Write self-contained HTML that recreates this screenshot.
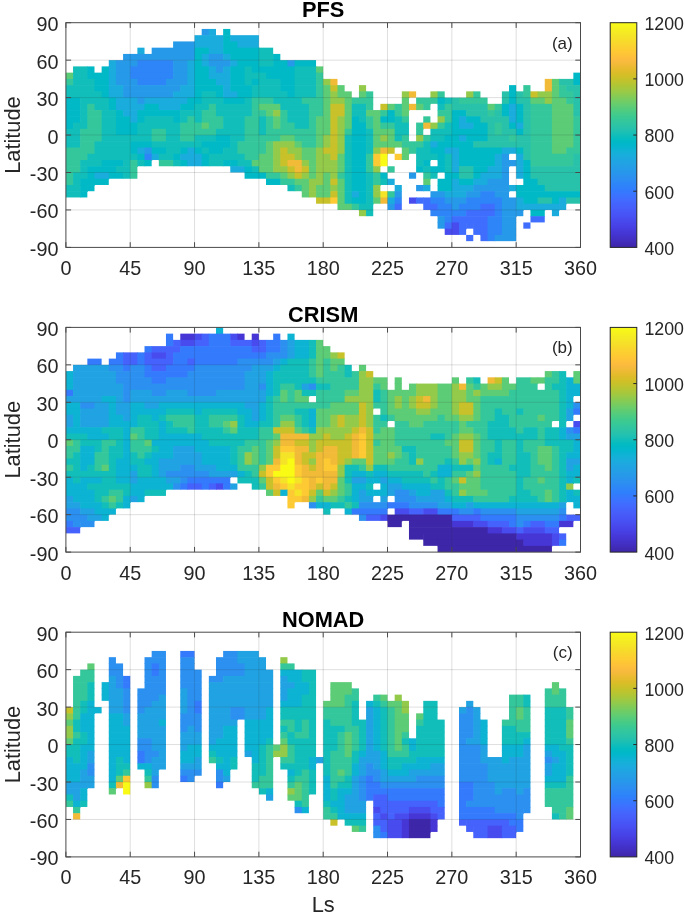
<!DOCTYPE html>
<html><head><meta charset="utf-8"><style>
html,body{margin:0;padding:0;background:#fff;}
svg{display:block;font-family:"Liberation Sans",sans-serif;filter:blur(0.35px);}
</style></head><body>
<svg width="685" height="916" viewBox="0 0 685 916">
<defs><linearGradient id="cbar" x1="0" y1="0" x2="0" y2="1"><stop offset="0.0000" stop-color="#f9fb15"/><stop offset="0.0156" stop-color="#f7f51b"/><stop offset="0.0312" stop-color="#f6ef20"/><stop offset="0.0469" stop-color="#f5e924"/><stop offset="0.0625" stop-color="#f5e327"/><stop offset="0.0781" stop-color="#f7dd2a"/><stop offset="0.0938" stop-color="#f9d62d"/><stop offset="0.1094" stop-color="#fcd030"/><stop offset="0.1250" stop-color="#feca33"/><stop offset="0.1406" stop-color="#fec437"/><stop offset="0.1562" stop-color="#febe3c"/><stop offset="0.1719" stop-color="#f9ba3e"/><stop offset="0.1875" stop-color="#f1ba37"/><stop offset="0.2031" stop-color="#e8bb2f"/><stop offset="0.2188" stop-color="#debc29"/><stop offset="0.2344" stop-color="#d4bf27"/><stop offset="0.2500" stop-color="#c8c129"/><stop offset="0.2656" stop-color="#bcc42f"/><stop offset="0.2812" stop-color="#afc636"/><stop offset="0.2969" stop-color="#a2c840"/><stop offset="0.3125" stop-color="#94ca4a"/><stop offset="0.3281" stop-color="#85cb55"/><stop offset="0.3438" stop-color="#77cc60"/><stop offset="0.3594" stop-color="#69cd6b"/><stop offset="0.3750" stop-color="#5ccc76"/><stop offset="0.3906" stop-color="#4fcc80"/><stop offset="0.4062" stop-color="#43cb8a"/><stop offset="0.4219" stop-color="#3ac993"/><stop offset="0.4375" stop-color="#34c79c"/><stop offset="0.4531" stop-color="#2ec5a4"/><stop offset="0.4688" stop-color="#28c2ab"/><stop offset="0.4844" stop-color="#1ec0b2"/><stop offset="0.5000" stop-color="#12beb9"/><stop offset="0.5156" stop-color="#05bcc0"/><stop offset="0.5312" stop-color="#00b9c6"/><stop offset="0.5469" stop-color="#03b6cd"/><stop offset="0.5625" stop-color="#0cb3d3"/><stop offset="0.5781" stop-color="#15b0d8"/><stop offset="0.5938" stop-color="#1aacdd"/><stop offset="0.6094" stop-color="#1ea7e1"/><stop offset="0.6250" stop-color="#21a3e3"/><stop offset="0.6406" stop-color="#249ee6"/><stop offset="0.6562" stop-color="#269ae9"/><stop offset="0.6719" stop-color="#2895ec"/><stop offset="0.6875" stop-color="#2c90f0"/><stop offset="0.7031" stop-color="#2d8bf4"/><stop offset="0.7188" stop-color="#2e85f8"/><stop offset="0.7344" stop-color="#2f80fb"/><stop offset="0.7500" stop-color="#347afd"/><stop offset="0.7656" stop-color="#3a74ff"/><stop offset="0.7812" stop-color="#3f6eff"/><stop offset="0.7969" stop-color="#4368fe"/><stop offset="0.8125" stop-color="#4562fc"/><stop offset="0.8281" stop-color="#475dfa"/><stop offset="0.8438" stop-color="#4757f7"/><stop offset="0.8594" stop-color="#4852f4"/><stop offset="0.8750" stop-color="#484cef"/><stop offset="0.8906" stop-color="#4746eb"/><stop offset="0.9062" stop-color="#4741e5"/><stop offset="0.9219" stop-color="#463bdd"/><stop offset="0.9375" stop-color="#4536d5"/><stop offset="0.9531" stop-color="#4332ca"/><stop offset="0.9688" stop-color="#422ebf"/><stop offset="0.9844" stop-color="#402ab4"/><stop offset="1.0000" stop-color="#3e26a8"/></linearGradient></defs>
<rect width="685" height="916" fill="#fff"/>
<rect x="201.70" y="28.94" width="7.75" height="6.84" fill="#269ae9"/>
<rect x="208.84" y="28.94" width="7.15" height="6.84" fill="#1aacdd"/>
<rect x="223.14" y="28.94" width="7.15" height="6.84" fill="#00b9c6"/>
<rect x="194.55" y="35.18" width="29.19" height="6.84" fill="#1aacdd"/>
<rect x="223.14" y="35.18" width="7.75" height="6.84" fill="#00b9c6"/>
<rect x="230.29" y="35.18" width="28.59" height="6.84" fill="#1aacdd"/>
<rect x="173.11" y="41.42" width="22.04" height="6.84" fill="#269ae9"/>
<rect x="194.55" y="41.42" width="29.19" height="6.84" fill="#1aacdd"/>
<rect x="223.14" y="41.42" width="14.89" height="6.84" fill="#00b9c6"/>
<rect x="237.43" y="41.42" width="21.44" height="6.84" fill="#1aacdd"/>
<rect x="137.37" y="47.67" width="7.15" height="6.84" fill="#1aacdd"/>
<rect x="151.67" y="47.67" width="43.48" height="6.84" fill="#269ae9"/>
<rect x="194.55" y="47.67" width="14.89" height="6.84" fill="#00b9c6"/>
<rect x="208.84" y="47.67" width="14.89" height="6.84" fill="#1aacdd"/>
<rect x="223.14" y="47.67" width="36.34" height="6.84" fill="#00b9c6"/>
<rect x="258.88" y="47.67" width="14.29" height="6.84" fill="#12beb9"/>
<rect x="123.08" y="53.91" width="72.07" height="6.84" fill="#269ae9"/>
<rect x="194.55" y="53.91" width="7.75" height="6.84" fill="#00b9c6"/>
<rect x="201.70" y="53.91" width="7.75" height="6.84" fill="#1aacdd"/>
<rect x="208.84" y="53.91" width="14.89" height="6.84" fill="#269ae9"/>
<rect x="223.14" y="53.91" width="7.75" height="6.84" fill="#1aacdd"/>
<rect x="230.29" y="53.91" width="29.19" height="6.84" fill="#00b9c6"/>
<rect x="258.88" y="53.91" width="14.89" height="6.84" fill="#12beb9"/>
<rect x="273.17" y="53.91" width="7.15" height="6.84" fill="#00b9c6"/>
<rect x="108.78" y="60.15" width="7.75" height="6.84" fill="#1aacdd"/>
<rect x="115.93" y="60.15" width="22.04" height="6.84" fill="#269ae9"/>
<rect x="137.37" y="60.15" width="36.34" height="6.84" fill="#2e85f8"/>
<rect x="173.11" y="60.15" width="14.89" height="6.84" fill="#269ae9"/>
<rect x="187.40" y="60.15" width="7.75" height="6.84" fill="#1aacdd"/>
<rect x="194.55" y="60.15" width="7.75" height="6.84" fill="#00b9c6"/>
<rect x="201.70" y="60.15" width="7.75" height="6.84" fill="#1aacdd"/>
<rect x="208.84" y="60.15" width="22.04" height="6.84" fill="#269ae9"/>
<rect x="230.29" y="60.15" width="7.75" height="6.84" fill="#1aacdd"/>
<rect x="237.43" y="60.15" width="22.04" height="6.84" fill="#00b9c6"/>
<rect x="258.88" y="60.15" width="14.89" height="6.84" fill="#12beb9"/>
<rect x="273.17" y="60.15" width="14.89" height="6.84" fill="#00b9c6"/>
<rect x="287.46" y="60.15" width="7.75" height="6.84" fill="#269ae9"/>
<rect x="294.61" y="60.15" width="21.44" height="6.84" fill="#00b9c6"/>
<rect x="73.05" y="66.39" width="14.89" height="6.84" fill="#12beb9"/>
<rect x="87.34" y="66.39" width="7.15" height="6.84" fill="#00b9c6"/>
<rect x="101.64" y="66.39" width="7.75" height="6.84" fill="#00b9c6"/>
<rect x="108.78" y="66.39" width="7.75" height="6.84" fill="#1aacdd"/>
<rect x="115.93" y="66.39" width="14.89" height="6.84" fill="#269ae9"/>
<rect x="130.23" y="66.39" width="43.48" height="6.84" fill="#2e85f8"/>
<rect x="173.11" y="66.39" width="14.89" height="6.84" fill="#269ae9"/>
<rect x="187.40" y="66.39" width="7.75" height="6.84" fill="#1aacdd"/>
<rect x="194.55" y="66.39" width="14.89" height="6.84" fill="#00b9c6"/>
<rect x="208.84" y="66.39" width="7.75" height="6.84" fill="#1aacdd"/>
<rect x="215.99" y="66.39" width="7.75" height="6.84" fill="#269ae9"/>
<rect x="223.14" y="66.39" width="7.75" height="6.84" fill="#1aacdd"/>
<rect x="230.29" y="66.39" width="14.89" height="6.84" fill="#00b9c6"/>
<rect x="244.58" y="66.39" width="7.75" height="6.84" fill="#12beb9"/>
<rect x="251.73" y="66.39" width="43.48" height="6.84" fill="#00b9c6"/>
<rect x="294.61" y="66.39" width="22.04" height="6.84" fill="#12beb9"/>
<rect x="316.05" y="66.39" width="7.15" height="6.84" fill="#5ccc76"/>
<rect x="65.90" y="72.63" width="7.75" height="6.84" fill="#5ccc76"/>
<rect x="73.05" y="72.63" width="14.89" height="6.84" fill="#12beb9"/>
<rect x="87.34" y="72.63" width="22.04" height="6.84" fill="#00b9c6"/>
<rect x="108.78" y="72.63" width="7.75" height="6.84" fill="#1aacdd"/>
<rect x="115.93" y="72.63" width="14.89" height="6.84" fill="#269ae9"/>
<rect x="130.23" y="72.63" width="43.48" height="6.84" fill="#2e85f8"/>
<rect x="173.11" y="72.63" width="14.89" height="6.84" fill="#269ae9"/>
<rect x="187.40" y="72.63" width="7.75" height="6.84" fill="#1aacdd"/>
<rect x="194.55" y="72.63" width="14.89" height="6.84" fill="#00b9c6"/>
<rect x="208.84" y="72.63" width="22.04" height="6.84" fill="#1aacdd"/>
<rect x="230.29" y="72.63" width="14.89" height="6.84" fill="#00b9c6"/>
<rect x="244.58" y="72.63" width="22.04" height="6.84" fill="#12beb9"/>
<rect x="266.02" y="72.63" width="29.19" height="6.84" fill="#00b9c6"/>
<rect x="294.61" y="72.63" width="22.04" height="6.84" fill="#12beb9"/>
<rect x="316.05" y="72.63" width="7.15" height="6.84" fill="#34c79c"/>
<rect x="573.35" y="72.63" width="7.15" height="6.84" fill="#00b9c6"/>
<rect x="65.90" y="78.88" width="7.75" height="6.84" fill="#34c79c"/>
<rect x="73.05" y="78.88" width="22.04" height="6.84" fill="#12beb9"/>
<rect x="94.49" y="78.88" width="14.89" height="6.84" fill="#00b9c6"/>
<rect x="108.78" y="78.88" width="7.75" height="6.84" fill="#1aacdd"/>
<rect x="115.93" y="78.88" width="22.04" height="6.84" fill="#269ae9"/>
<rect x="137.37" y="78.88" width="29.19" height="6.84" fill="#2e85f8"/>
<rect x="165.96" y="78.88" width="22.04" height="6.84" fill="#269ae9"/>
<rect x="187.40" y="78.88" width="7.75" height="6.84" fill="#1aacdd"/>
<rect x="194.55" y="78.88" width="22.04" height="6.84" fill="#00b9c6"/>
<rect x="215.99" y="78.88" width="14.89" height="6.84" fill="#1aacdd"/>
<rect x="230.29" y="78.88" width="14.89" height="6.84" fill="#00b9c6"/>
<rect x="244.58" y="78.88" width="7.75" height="6.84" fill="#12beb9"/>
<rect x="251.73" y="78.88" width="7.75" height="6.84" fill="#00b9c6"/>
<rect x="258.88" y="78.88" width="22.04" height="6.84" fill="#12beb9"/>
<rect x="280.32" y="78.88" width="14.89" height="6.84" fill="#00b9c6"/>
<rect x="294.61" y="78.88" width="22.04" height="6.84" fill="#12beb9"/>
<rect x="316.05" y="78.88" width="7.75" height="6.84" fill="#34c79c"/>
<rect x="323.20" y="78.88" width="7.75" height="6.84" fill="#94ca4a"/>
<rect x="330.35" y="78.88" width="7.15" height="6.84" fill="#f1ba37"/>
<rect x="544.76" y="78.88" width="7.75" height="6.84" fill="#f1ba37"/>
<rect x="551.91" y="78.88" width="7.75" height="6.84" fill="#5ccc76"/>
<rect x="559.06" y="78.88" width="14.89" height="6.84" fill="#28c2ab"/>
<rect x="573.35" y="78.88" width="7.15" height="6.84" fill="#00b9c6"/>
<rect x="65.90" y="85.12" width="29.19" height="6.84" fill="#12beb9"/>
<rect x="94.49" y="85.12" width="14.89" height="6.84" fill="#00b9c6"/>
<rect x="108.78" y="85.12" width="14.89" height="6.84" fill="#1aacdd"/>
<rect x="123.08" y="85.12" width="57.78" height="6.84" fill="#269ae9"/>
<rect x="180.26" y="85.12" width="14.89" height="6.84" fill="#1aacdd"/>
<rect x="194.55" y="85.12" width="29.19" height="6.84" fill="#00b9c6"/>
<rect x="223.14" y="85.12" width="7.75" height="6.84" fill="#1aacdd"/>
<rect x="230.29" y="85.12" width="22.04" height="6.84" fill="#00b9c6"/>
<rect x="251.73" y="85.12" width="29.19" height="6.84" fill="#12beb9"/>
<rect x="280.32" y="85.12" width="14.89" height="6.84" fill="#00b9c6"/>
<rect x="294.61" y="85.12" width="22.04" height="6.84" fill="#12beb9"/>
<rect x="316.05" y="85.12" width="7.75" height="6.84" fill="#34c79c"/>
<rect x="323.20" y="85.12" width="7.75" height="6.84" fill="#5ccc76"/>
<rect x="330.35" y="85.12" width="7.75" height="6.84" fill="#c8c129"/>
<rect x="337.49" y="85.12" width="7.15" height="6.84" fill="#5ccc76"/>
<rect x="358.94" y="85.12" width="7.15" height="6.84" fill="#94ca4a"/>
<rect x="509.03" y="85.12" width="7.15" height="6.84" fill="#00b9c6"/>
<rect x="523.32" y="85.12" width="7.15" height="6.84" fill="#34c79c"/>
<rect x="544.76" y="85.12" width="7.75" height="6.84" fill="#f1ba37"/>
<rect x="551.91" y="85.12" width="7.75" height="6.84" fill="#5ccc76"/>
<rect x="559.06" y="85.12" width="7.75" height="6.84" fill="#34c79c"/>
<rect x="566.21" y="85.12" width="14.29" height="6.84" fill="#28c2ab"/>
<rect x="65.90" y="91.36" width="36.34" height="6.84" fill="#12beb9"/>
<rect x="101.64" y="91.36" width="7.75" height="6.84" fill="#00b9c6"/>
<rect x="108.78" y="91.36" width="14.89" height="6.84" fill="#1aacdd"/>
<rect x="123.08" y="91.36" width="50.63" height="6.84" fill="#269ae9"/>
<rect x="173.11" y="91.36" width="22.04" height="6.84" fill="#1aacdd"/>
<rect x="194.55" y="91.36" width="7.75" height="6.84" fill="#00b9c6"/>
<rect x="201.70" y="91.36" width="14.89" height="6.84" fill="#12beb9"/>
<rect x="215.99" y="91.36" width="7.75" height="6.84" fill="#00b9c6"/>
<rect x="223.14" y="91.36" width="14.89" height="6.84" fill="#1aacdd"/>
<rect x="237.43" y="91.36" width="14.89" height="6.84" fill="#00b9c6"/>
<rect x="251.73" y="91.36" width="36.34" height="6.84" fill="#12beb9"/>
<rect x="287.46" y="91.36" width="7.75" height="6.84" fill="#00b9c6"/>
<rect x="294.61" y="91.36" width="22.04" height="6.84" fill="#12beb9"/>
<rect x="316.05" y="91.36" width="7.75" height="6.84" fill="#34c79c"/>
<rect x="323.20" y="91.36" width="7.75" height="6.84" fill="#5ccc76"/>
<rect x="330.35" y="91.36" width="7.75" height="6.84" fill="#94ca4a"/>
<rect x="337.49" y="91.36" width="14.29" height="6.84" fill="#5ccc76"/>
<rect x="358.94" y="91.36" width="7.75" height="6.84" fill="#5ccc76"/>
<rect x="366.08" y="91.36" width="7.15" height="6.84" fill="#34c79c"/>
<rect x="401.82" y="91.36" width="7.75" height="6.84" fill="#94ca4a"/>
<rect x="408.97" y="91.36" width="7.15" height="6.24" fill="#f1ba37"/>
<rect x="430.41" y="91.36" width="7.75" height="6.84" fill="#94ca4a"/>
<rect x="437.56" y="91.36" width="7.15" height="6.84" fill="#34c79c"/>
<rect x="466.14" y="91.36" width="7.75" height="6.84" fill="#94ca4a"/>
<rect x="473.29" y="91.36" width="7.15" height="6.84" fill="#34c79c"/>
<rect x="501.88" y="91.36" width="7.75" height="6.84" fill="#28c2ab"/>
<rect x="509.03" y="91.36" width="7.75" height="6.84" fill="#00b9c6"/>
<rect x="516.17" y="91.36" width="7.75" height="6.84" fill="#28c2ab"/>
<rect x="523.32" y="91.36" width="7.75" height="6.84" fill="#34c79c"/>
<rect x="530.47" y="91.36" width="7.75" height="6.84" fill="#c8c129"/>
<rect x="537.62" y="91.36" width="14.89" height="6.84" fill="#94ca4a"/>
<rect x="551.91" y="91.36" width="7.75" height="6.84" fill="#5ccc76"/>
<rect x="559.06" y="91.36" width="14.89" height="6.84" fill="#34c79c"/>
<rect x="573.35" y="91.36" width="7.15" height="6.84" fill="#28c2ab"/>
<rect x="65.90" y="97.60" width="14.89" height="6.84" fill="#00b9c6"/>
<rect x="80.19" y="97.60" width="29.19" height="6.84" fill="#12beb9"/>
<rect x="108.78" y="97.60" width="7.75" height="6.84" fill="#00b9c6"/>
<rect x="115.93" y="97.60" width="22.04" height="6.84" fill="#1aacdd"/>
<rect x="137.37" y="97.60" width="7.75" height="6.84" fill="#269ae9"/>
<rect x="144.52" y="97.60" width="43.48" height="6.84" fill="#1aacdd"/>
<rect x="187.40" y="97.60" width="14.89" height="6.84" fill="#00b9c6"/>
<rect x="201.70" y="97.60" width="22.04" height="6.84" fill="#12beb9"/>
<rect x="223.14" y="97.60" width="22.04" height="6.84" fill="#00b9c6"/>
<rect x="244.58" y="97.60" width="7.75" height="6.84" fill="#12beb9"/>
<rect x="251.73" y="97.60" width="22.04" height="6.84" fill="#34c79c"/>
<rect x="273.17" y="97.60" width="29.19" height="6.84" fill="#12beb9"/>
<rect x="301.76" y="97.60" width="22.04" height="6.84" fill="#34c79c"/>
<rect x="323.20" y="97.60" width="7.75" height="6.84" fill="#5ccc76"/>
<rect x="330.35" y="97.60" width="14.89" height="6.84" fill="#94ca4a"/>
<rect x="344.64" y="97.60" width="7.75" height="6.84" fill="#5ccc76"/>
<rect x="351.79" y="97.60" width="21.44" height="6.84" fill="#34c79c"/>
<rect x="401.82" y="97.60" width="7.15" height="6.84" fill="#5ccc76"/>
<rect x="416.11" y="97.60" width="14.89" height="6.84" fill="#34c79c"/>
<rect x="430.41" y="97.60" width="7.75" height="6.24" fill="#34c79c"/>
<rect x="437.56" y="97.60" width="7.75" height="6.84" fill="#00b9c6"/>
<rect x="444.70" y="97.60" width="7.75" height="6.84" fill="#12beb9"/>
<rect x="451.85" y="97.60" width="7.75" height="6.84" fill="#28c2ab"/>
<rect x="459.00" y="97.60" width="28.59" height="6.84" fill="#34c79c"/>
<rect x="501.88" y="97.60" width="7.75" height="6.84" fill="#28c2ab"/>
<rect x="509.03" y="97.60" width="7.75" height="6.84" fill="#00b9c6"/>
<rect x="516.17" y="97.60" width="14.89" height="6.84" fill="#28c2ab"/>
<rect x="530.47" y="97.60" width="14.89" height="6.84" fill="#5ccc76"/>
<rect x="544.76" y="97.60" width="7.75" height="6.84" fill="#94ca4a"/>
<rect x="551.91" y="97.60" width="14.89" height="6.84" fill="#5ccc76"/>
<rect x="566.21" y="97.60" width="7.75" height="6.84" fill="#34c79c"/>
<rect x="573.35" y="97.60" width="7.15" height="6.84" fill="#28c2ab"/>
<rect x="65.90" y="103.84" width="14.89" height="6.84" fill="#00b9c6"/>
<rect x="80.19" y="103.84" width="7.75" height="6.84" fill="#12beb9"/>
<rect x="87.34" y="103.84" width="7.75" height="6.84" fill="#34c79c"/>
<rect x="94.49" y="103.84" width="14.89" height="6.84" fill="#12beb9"/>
<rect x="108.78" y="103.84" width="7.75" height="6.84" fill="#00b9c6"/>
<rect x="115.93" y="103.84" width="29.19" height="6.84" fill="#1aacdd"/>
<rect x="144.52" y="103.84" width="14.89" height="6.84" fill="#00b9c6"/>
<rect x="158.81" y="103.84" width="22.04" height="6.84" fill="#1aacdd"/>
<rect x="180.26" y="103.84" width="14.89" height="6.84" fill="#00b9c6"/>
<rect x="194.55" y="103.84" width="14.89" height="6.84" fill="#12beb9"/>
<rect x="208.84" y="103.84" width="7.75" height="6.84" fill="#34c79c"/>
<rect x="215.99" y="103.84" width="36.34" height="6.84" fill="#12beb9"/>
<rect x="251.73" y="103.84" width="7.75" height="6.84" fill="#34c79c"/>
<rect x="258.88" y="103.84" width="22.04" height="6.84" fill="#5ccc76"/>
<rect x="280.32" y="103.84" width="29.19" height="6.84" fill="#12beb9"/>
<rect x="308.91" y="103.84" width="14.89" height="6.84" fill="#34c79c"/>
<rect x="323.20" y="103.84" width="7.75" height="6.84" fill="#5ccc76"/>
<rect x="330.35" y="103.84" width="14.89" height="6.84" fill="#c8c129"/>
<rect x="344.64" y="103.84" width="7.75" height="6.84" fill="#5ccc76"/>
<rect x="351.79" y="103.84" width="14.89" height="6.84" fill="#12beb9"/>
<rect x="366.08" y="103.84" width="7.15" height="6.84" fill="#34c79c"/>
<rect x="380.38" y="103.84" width="7.75" height="6.84" fill="#c8c129"/>
<rect x="387.52" y="103.84" width="7.75" height="6.84" fill="#5ccc76"/>
<rect x="394.67" y="103.84" width="7.75" height="6.84" fill="#34c79c"/>
<rect x="401.82" y="103.84" width="7.75" height="6.84" fill="#5ccc76"/>
<rect x="408.97" y="103.84" width="7.75" height="6.24" fill="#f1ba37"/>
<rect x="416.11" y="103.84" width="7.75" height="6.24" fill="#5ccc76"/>
<rect x="423.26" y="103.84" width="7.15" height="6.24" fill="#34c79c"/>
<rect x="437.56" y="103.84" width="7.75" height="6.84" fill="#12beb9"/>
<rect x="444.70" y="103.84" width="7.75" height="6.84" fill="#34c79c"/>
<rect x="451.85" y="103.84" width="36.34" height="6.84" fill="#28c2ab"/>
<rect x="487.59" y="103.84" width="7.75" height="6.84" fill="#5ccc76"/>
<rect x="494.73" y="103.84" width="7.75" height="6.84" fill="#34c79c"/>
<rect x="501.88" y="103.84" width="7.75" height="6.84" fill="#00b9c6"/>
<rect x="509.03" y="103.84" width="7.75" height="6.84" fill="#1aacdd"/>
<rect x="516.17" y="103.84" width="7.75" height="6.84" fill="#00b9c6"/>
<rect x="523.32" y="103.84" width="7.75" height="6.84" fill="#28c2ab"/>
<rect x="530.47" y="103.84" width="22.04" height="6.84" fill="#34c79c"/>
<rect x="551.91" y="103.84" width="22.04" height="6.84" fill="#5ccc76"/>
<rect x="573.35" y="103.84" width="7.15" height="6.84" fill="#28c2ab"/>
<rect x="65.90" y="110.08" width="14.89" height="6.84" fill="#00b9c6"/>
<rect x="80.19" y="110.08" width="7.75" height="6.84" fill="#12beb9"/>
<rect x="87.34" y="110.08" width="14.89" height="6.84" fill="#34c79c"/>
<rect x="101.64" y="110.08" width="14.89" height="6.84" fill="#12beb9"/>
<rect x="115.93" y="110.08" width="7.75" height="6.84" fill="#00b9c6"/>
<rect x="123.08" y="110.08" width="14.89" height="6.84" fill="#1aacdd"/>
<rect x="137.37" y="110.08" width="43.48" height="6.84" fill="#00b9c6"/>
<rect x="180.26" y="110.08" width="22.04" height="6.84" fill="#12beb9"/>
<rect x="201.70" y="110.08" width="14.89" height="6.84" fill="#34c79c"/>
<rect x="215.99" y="110.08" width="36.34" height="6.84" fill="#12beb9"/>
<rect x="251.73" y="110.08" width="14.89" height="6.84" fill="#34c79c"/>
<rect x="266.02" y="110.08" width="7.75" height="6.84" fill="#5ccc76"/>
<rect x="273.17" y="110.08" width="7.75" height="6.84" fill="#94ca4a"/>
<rect x="280.32" y="110.08" width="7.75" height="6.84" fill="#34c79c"/>
<rect x="287.46" y="110.08" width="22.04" height="6.84" fill="#12beb9"/>
<rect x="308.91" y="110.08" width="14.89" height="6.84" fill="#34c79c"/>
<rect x="323.20" y="110.08" width="7.75" height="6.84" fill="#5ccc76"/>
<rect x="330.35" y="110.08" width="14.89" height="6.84" fill="#c8c129"/>
<rect x="344.64" y="110.08" width="7.75" height="6.84" fill="#5ccc76"/>
<rect x="351.79" y="110.08" width="14.89" height="6.84" fill="#12beb9"/>
<rect x="366.08" y="110.08" width="14.89" height="6.84" fill="#5ccc76"/>
<rect x="380.38" y="110.08" width="7.75" height="6.84" fill="#34c79c"/>
<rect x="387.52" y="110.08" width="7.75" height="6.84" fill="#00b9c6"/>
<rect x="394.67" y="110.08" width="7.75" height="6.84" fill="#34c79c"/>
<rect x="401.82" y="110.08" width="7.15" height="6.84" fill="#5ccc76"/>
<rect x="437.56" y="110.08" width="14.89" height="6.84" fill="#34c79c"/>
<rect x="451.85" y="110.08" width="14.89" height="6.84" fill="#00b9c6"/>
<rect x="466.14" y="110.08" width="22.04" height="6.84" fill="#28c2ab"/>
<rect x="487.59" y="110.08" width="7.75" height="6.84" fill="#34c79c"/>
<rect x="494.73" y="110.08" width="7.75" height="6.84" fill="#28c2ab"/>
<rect x="501.88" y="110.08" width="7.75" height="6.84" fill="#00b9c6"/>
<rect x="509.03" y="110.08" width="7.75" height="6.84" fill="#1aacdd"/>
<rect x="516.17" y="110.08" width="7.75" height="6.84" fill="#00b9c6"/>
<rect x="523.32" y="110.08" width="7.75" height="6.84" fill="#28c2ab"/>
<rect x="530.47" y="110.08" width="22.04" height="6.84" fill="#34c79c"/>
<rect x="551.91" y="110.08" width="22.04" height="6.84" fill="#5ccc76"/>
<rect x="573.35" y="110.08" width="7.15" height="6.84" fill="#28c2ab"/>
<rect x="65.90" y="116.33" width="14.89" height="6.84" fill="#00b9c6"/>
<rect x="80.19" y="116.33" width="7.75" height="6.84" fill="#12beb9"/>
<rect x="87.34" y="116.33" width="14.89" height="6.84" fill="#34c79c"/>
<rect x="101.64" y="116.33" width="14.89" height="6.84" fill="#12beb9"/>
<rect x="115.93" y="116.33" width="14.89" height="6.84" fill="#00b9c6"/>
<rect x="130.23" y="116.33" width="7.75" height="6.84" fill="#1aacdd"/>
<rect x="137.37" y="116.33" width="7.75" height="6.84" fill="#00b9c6"/>
<rect x="144.52" y="116.33" width="29.19" height="6.84" fill="#12beb9"/>
<rect x="173.11" y="116.33" width="7.75" height="6.84" fill="#00b9c6"/>
<rect x="180.26" y="116.33" width="7.75" height="6.84" fill="#12beb9"/>
<rect x="187.40" y="116.33" width="7.75" height="6.84" fill="#34c79c"/>
<rect x="194.55" y="116.33" width="7.75" height="6.84" fill="#12beb9"/>
<rect x="201.70" y="116.33" width="22.04" height="6.84" fill="#34c79c"/>
<rect x="223.14" y="116.33" width="22.04" height="6.84" fill="#12beb9"/>
<rect x="244.58" y="116.33" width="14.89" height="6.84" fill="#34c79c"/>
<rect x="258.88" y="116.33" width="7.75" height="6.84" fill="#12beb9"/>
<rect x="266.02" y="116.33" width="7.75" height="6.84" fill="#34c79c"/>
<rect x="273.17" y="116.33" width="7.75" height="6.84" fill="#5ccc76"/>
<rect x="280.32" y="116.33" width="7.75" height="6.84" fill="#34c79c"/>
<rect x="287.46" y="116.33" width="22.04" height="6.84" fill="#12beb9"/>
<rect x="308.91" y="116.33" width="7.75" height="6.84" fill="#34c79c"/>
<rect x="316.05" y="116.33" width="14.89" height="6.84" fill="#5ccc76"/>
<rect x="330.35" y="116.33" width="7.75" height="6.84" fill="#c8c129"/>
<rect x="337.49" y="116.33" width="7.75" height="6.84" fill="#94ca4a"/>
<rect x="344.64" y="116.33" width="7.75" height="6.84" fill="#5ccc76"/>
<rect x="351.79" y="116.33" width="7.75" height="6.84" fill="#00b9c6"/>
<rect x="358.94" y="116.33" width="7.75" height="6.84" fill="#12beb9"/>
<rect x="366.08" y="116.33" width="7.75" height="6.84" fill="#34c79c"/>
<rect x="373.23" y="116.33" width="7.75" height="6.84" fill="#5ccc76"/>
<rect x="380.38" y="116.33" width="14.89" height="6.84" fill="#00b9c6"/>
<rect x="394.67" y="116.33" width="7.75" height="6.84" fill="#12beb9"/>
<rect x="401.82" y="116.33" width="7.15" height="6.84" fill="#34c79c"/>
<rect x="423.26" y="116.33" width="7.15" height="6.84" fill="#34c79c"/>
<rect x="437.56" y="116.33" width="7.75" height="6.84" fill="#94ca4a"/>
<rect x="444.70" y="116.33" width="7.75" height="6.84" fill="#34c79c"/>
<rect x="451.85" y="116.33" width="7.75" height="6.84" fill="#00b9c6"/>
<rect x="459.00" y="116.33" width="7.75" height="6.84" fill="#1aacdd"/>
<rect x="466.14" y="116.33" width="14.89" height="6.84" fill="#00b9c6"/>
<rect x="480.44" y="116.33" width="29.19" height="6.84" fill="#28c2ab"/>
<rect x="509.03" y="116.33" width="7.75" height="6.84" fill="#1aacdd"/>
<rect x="516.17" y="116.33" width="7.75" height="6.84" fill="#00b9c6"/>
<rect x="523.32" y="116.33" width="7.75" height="6.84" fill="#28c2ab"/>
<rect x="530.47" y="116.33" width="22.04" height="6.84" fill="#34c79c"/>
<rect x="551.91" y="116.33" width="22.04" height="6.84" fill="#5ccc76"/>
<rect x="573.35" y="116.33" width="7.15" height="6.84" fill="#34c79c"/>
<rect x="65.90" y="122.57" width="7.75" height="6.84" fill="#00b9c6"/>
<rect x="73.05" y="122.57" width="14.89" height="6.84" fill="#12beb9"/>
<rect x="87.34" y="122.57" width="14.89" height="6.84" fill="#34c79c"/>
<rect x="101.64" y="122.57" width="14.89" height="6.84" fill="#12beb9"/>
<rect x="115.93" y="122.57" width="22.04" height="6.84" fill="#00b9c6"/>
<rect x="137.37" y="122.57" width="43.48" height="6.84" fill="#12beb9"/>
<rect x="180.26" y="122.57" width="22.04" height="6.84" fill="#34c79c"/>
<rect x="201.70" y="122.57" width="7.75" height="6.84" fill="#5ccc76"/>
<rect x="208.84" y="122.57" width="14.89" height="6.84" fill="#34c79c"/>
<rect x="223.14" y="122.57" width="22.04" height="6.84" fill="#12beb9"/>
<rect x="244.58" y="122.57" width="14.89" height="6.84" fill="#34c79c"/>
<rect x="258.88" y="122.57" width="7.75" height="6.84" fill="#12beb9"/>
<rect x="266.02" y="122.57" width="7.75" height="6.84" fill="#34c79c"/>
<rect x="273.17" y="122.57" width="7.75" height="6.84" fill="#5ccc76"/>
<rect x="280.32" y="122.57" width="14.89" height="6.84" fill="#34c79c"/>
<rect x="294.61" y="122.57" width="14.89" height="6.84" fill="#12beb9"/>
<rect x="308.91" y="122.57" width="7.75" height="6.84" fill="#34c79c"/>
<rect x="316.05" y="122.57" width="14.89" height="6.84" fill="#5ccc76"/>
<rect x="330.35" y="122.57" width="7.75" height="6.84" fill="#c8c129"/>
<rect x="337.49" y="122.57" width="7.75" height="6.84" fill="#94ca4a"/>
<rect x="344.64" y="122.57" width="7.75" height="6.84" fill="#5ccc76"/>
<rect x="351.79" y="122.57" width="14.89" height="6.84" fill="#00b9c6"/>
<rect x="366.08" y="122.57" width="7.75" height="6.84" fill="#34c79c"/>
<rect x="373.23" y="122.57" width="7.75" height="6.84" fill="#5ccc76"/>
<rect x="380.38" y="122.57" width="14.89" height="6.84" fill="#34c79c"/>
<rect x="394.67" y="122.57" width="14.29" height="6.84" fill="#12beb9"/>
<rect x="416.11" y="122.57" width="7.75" height="6.84" fill="#34c79c"/>
<rect x="423.26" y="122.57" width="7.75" height="6.24" fill="#f1ba37"/>
<rect x="430.41" y="122.57" width="7.75" height="6.84" fill="#94ca4a"/>
<rect x="437.56" y="122.57" width="7.75" height="6.84" fill="#34c79c"/>
<rect x="444.70" y="122.57" width="7.75" height="6.84" fill="#12beb9"/>
<rect x="451.85" y="122.57" width="7.75" height="6.84" fill="#00b9c6"/>
<rect x="459.00" y="122.57" width="14.89" height="6.84" fill="#1aacdd"/>
<rect x="473.29" y="122.57" width="14.89" height="6.84" fill="#00b9c6"/>
<rect x="487.59" y="122.57" width="7.75" height="6.84" fill="#28c2ab"/>
<rect x="494.73" y="122.57" width="7.75" height="6.84" fill="#34c79c"/>
<rect x="501.88" y="122.57" width="7.75" height="6.84" fill="#28c2ab"/>
<rect x="509.03" y="122.57" width="7.75" height="6.84" fill="#00b9c6"/>
<rect x="516.17" y="122.57" width="7.75" height="6.84" fill="#1aacdd"/>
<rect x="523.32" y="122.57" width="7.75" height="6.84" fill="#28c2ab"/>
<rect x="530.47" y="122.57" width="22.04" height="6.84" fill="#34c79c"/>
<rect x="551.91" y="122.57" width="22.04" height="6.84" fill="#5ccc76"/>
<rect x="573.35" y="122.57" width="7.15" height="6.84" fill="#34c79c"/>
<rect x="65.90" y="128.81" width="14.89" height="6.84" fill="#12beb9"/>
<rect x="80.19" y="128.81" width="22.04" height="6.84" fill="#34c79c"/>
<rect x="101.64" y="128.81" width="14.89" height="6.84" fill="#12beb9"/>
<rect x="115.93" y="128.81" width="22.04" height="6.84" fill="#00b9c6"/>
<rect x="137.37" y="128.81" width="14.89" height="6.84" fill="#12beb9"/>
<rect x="151.67" y="128.81" width="14.89" height="6.84" fill="#34c79c"/>
<rect x="165.96" y="128.81" width="14.89" height="6.84" fill="#12beb9"/>
<rect x="180.26" y="128.81" width="36.34" height="6.84" fill="#34c79c"/>
<rect x="215.99" y="128.81" width="29.19" height="6.84" fill="#12beb9"/>
<rect x="244.58" y="128.81" width="14.89" height="6.84" fill="#34c79c"/>
<rect x="258.88" y="128.81" width="7.75" height="6.84" fill="#12beb9"/>
<rect x="266.02" y="128.81" width="50.63" height="6.84" fill="#34c79c"/>
<rect x="316.05" y="128.81" width="14.89" height="6.84" fill="#5ccc76"/>
<rect x="330.35" y="128.81" width="7.75" height="6.84" fill="#c8c129"/>
<rect x="337.49" y="128.81" width="7.75" height="6.84" fill="#94ca4a"/>
<rect x="344.64" y="128.81" width="7.75" height="6.84" fill="#34c79c"/>
<rect x="351.79" y="128.81" width="14.89" height="6.84" fill="#00b9c6"/>
<rect x="366.08" y="128.81" width="7.75" height="6.84" fill="#12beb9"/>
<rect x="373.23" y="128.81" width="22.04" height="6.84" fill="#5ccc76"/>
<rect x="394.67" y="128.81" width="14.29" height="6.84" fill="#12beb9"/>
<rect x="416.11" y="128.81" width="7.15" height="6.84" fill="#34c79c"/>
<rect x="430.41" y="128.81" width="22.04" height="6.84" fill="#12beb9"/>
<rect x="451.85" y="128.81" width="36.34" height="6.84" fill="#00b9c6"/>
<rect x="487.59" y="128.81" width="7.75" height="6.84" fill="#28c2ab"/>
<rect x="494.73" y="128.81" width="7.75" height="6.84" fill="#34c79c"/>
<rect x="501.88" y="128.81" width="14.89" height="6.84" fill="#28c2ab"/>
<rect x="516.17" y="128.81" width="7.75" height="6.84" fill="#00b9c6"/>
<rect x="523.32" y="128.81" width="7.75" height="6.84" fill="#28c2ab"/>
<rect x="530.47" y="128.81" width="22.04" height="6.84" fill="#34c79c"/>
<rect x="551.91" y="128.81" width="22.04" height="6.84" fill="#5ccc76"/>
<rect x="573.35" y="128.81" width="7.15" height="6.84" fill="#34c79c"/>
<rect x="65.90" y="135.05" width="14.89" height="6.84" fill="#12beb9"/>
<rect x="80.19" y="135.05" width="22.04" height="6.84" fill="#34c79c"/>
<rect x="101.64" y="135.05" width="50.63" height="6.84" fill="#12beb9"/>
<rect x="151.67" y="135.05" width="14.89" height="6.84" fill="#34c79c"/>
<rect x="165.96" y="135.05" width="14.89" height="6.84" fill="#12beb9"/>
<rect x="180.26" y="135.05" width="14.89" height="6.84" fill="#34c79c"/>
<rect x="194.55" y="135.05" width="22.04" height="6.84" fill="#12beb9"/>
<rect x="215.99" y="135.05" width="14.89" height="6.84" fill="#00b9c6"/>
<rect x="230.29" y="135.05" width="14.89" height="6.84" fill="#12beb9"/>
<rect x="244.58" y="135.05" width="36.34" height="6.84" fill="#34c79c"/>
<rect x="280.32" y="135.05" width="14.89" height="6.84" fill="#5ccc76"/>
<rect x="294.61" y="135.05" width="22.04" height="6.84" fill="#34c79c"/>
<rect x="316.05" y="135.05" width="7.75" height="6.84" fill="#5ccc76"/>
<rect x="323.20" y="135.05" width="7.75" height="6.84" fill="#94ca4a"/>
<rect x="330.35" y="135.05" width="7.75" height="6.84" fill="#c8c129"/>
<rect x="337.49" y="135.05" width="7.75" height="6.84" fill="#94ca4a"/>
<rect x="344.64" y="135.05" width="7.75" height="6.84" fill="#12beb9"/>
<rect x="351.79" y="135.05" width="14.89" height="6.84" fill="#00b9c6"/>
<rect x="366.08" y="135.05" width="7.75" height="6.84" fill="#12beb9"/>
<rect x="373.23" y="135.05" width="7.75" height="6.84" fill="#5ccc76"/>
<rect x="380.38" y="135.05" width="7.75" height="6.84" fill="#94ca4a"/>
<rect x="387.52" y="135.05" width="7.75" height="6.84" fill="#5ccc76"/>
<rect x="394.67" y="135.05" width="7.75" height="6.84" fill="#12beb9"/>
<rect x="401.82" y="135.05" width="7.15" height="6.84" fill="#34c79c"/>
<rect x="416.11" y="135.05" width="7.75" height="6.84" fill="#94ca4a"/>
<rect x="423.26" y="135.05" width="7.75" height="6.84" fill="#34c79c"/>
<rect x="430.41" y="135.05" width="14.89" height="6.84" fill="#12beb9"/>
<rect x="444.70" y="135.05" width="14.89" height="6.84" fill="#00b9c6"/>
<rect x="459.00" y="135.05" width="7.75" height="6.84" fill="#1aacdd"/>
<rect x="466.14" y="135.05" width="22.04" height="6.84" fill="#00b9c6"/>
<rect x="487.59" y="135.05" width="22.04" height="6.84" fill="#28c2ab"/>
<rect x="509.03" y="135.05" width="7.75" height="6.84" fill="#34c79c"/>
<rect x="516.17" y="135.05" width="14.89" height="6.84" fill="#28c2ab"/>
<rect x="530.47" y="135.05" width="22.04" height="6.84" fill="#34c79c"/>
<rect x="551.91" y="135.05" width="22.04" height="6.84" fill="#5ccc76"/>
<rect x="573.35" y="135.05" width="7.15" height="6.84" fill="#34c79c"/>
<rect x="65.90" y="141.29" width="14.89" height="6.84" fill="#12beb9"/>
<rect x="80.19" y="141.29" width="14.89" height="6.84" fill="#34c79c"/>
<rect x="94.49" y="141.29" width="36.34" height="6.84" fill="#12beb9"/>
<rect x="130.23" y="141.29" width="22.04" height="6.84" fill="#00b9c6"/>
<rect x="151.67" y="141.29" width="50.63" height="6.84" fill="#12beb9"/>
<rect x="201.70" y="141.29" width="29.19" height="6.84" fill="#00b9c6"/>
<rect x="230.29" y="141.29" width="7.75" height="6.84" fill="#12beb9"/>
<rect x="237.43" y="141.29" width="29.19" height="6.84" fill="#34c79c"/>
<rect x="266.02" y="141.29" width="7.75" height="6.84" fill="#5ccc76"/>
<rect x="273.17" y="141.29" width="22.04" height="6.84" fill="#94ca4a"/>
<rect x="294.61" y="141.29" width="7.75" height="6.84" fill="#5ccc76"/>
<rect x="301.76" y="141.29" width="14.89" height="6.84" fill="#34c79c"/>
<rect x="316.05" y="141.29" width="7.75" height="6.84" fill="#5ccc76"/>
<rect x="323.20" y="141.29" width="7.75" height="6.84" fill="#94ca4a"/>
<rect x="330.35" y="141.29" width="7.75" height="6.84" fill="#c8c129"/>
<rect x="337.49" y="141.29" width="7.75" height="6.84" fill="#94ca4a"/>
<rect x="344.64" y="141.29" width="7.75" height="6.84" fill="#12beb9"/>
<rect x="351.79" y="141.29" width="14.89" height="6.84" fill="#00b9c6"/>
<rect x="366.08" y="141.29" width="7.75" height="6.84" fill="#12beb9"/>
<rect x="373.23" y="141.29" width="22.04" height="6.84" fill="#5ccc76"/>
<rect x="394.67" y="141.29" width="7.75" height="6.24" fill="#5ccc76"/>
<rect x="401.82" y="141.29" width="22.04" height="6.84" fill="#34c79c"/>
<rect x="423.26" y="141.29" width="7.75" height="6.84" fill="#12beb9"/>
<rect x="430.41" y="141.29" width="7.75" height="6.84" fill="#1aacdd"/>
<rect x="437.56" y="141.29" width="36.34" height="6.84" fill="#00b9c6"/>
<rect x="473.29" y="141.29" width="57.78" height="6.84" fill="#28c2ab"/>
<rect x="530.47" y="141.29" width="22.04" height="6.84" fill="#34c79c"/>
<rect x="551.91" y="141.29" width="22.04" height="6.84" fill="#5ccc76"/>
<rect x="573.35" y="141.29" width="7.15" height="6.84" fill="#34c79c"/>
<rect x="65.90" y="147.53" width="29.19" height="6.84" fill="#34c79c"/>
<rect x="94.49" y="147.53" width="36.34" height="6.84" fill="#12beb9"/>
<rect x="130.23" y="147.53" width="7.75" height="6.84" fill="#00b9c6"/>
<rect x="137.37" y="147.53" width="7.75" height="6.84" fill="#1aacdd"/>
<rect x="144.52" y="147.53" width="7.75" height="6.84" fill="#269ae9"/>
<rect x="151.67" y="147.53" width="14.89" height="6.84" fill="#00b9c6"/>
<rect x="165.96" y="147.53" width="14.89" height="6.84" fill="#12beb9"/>
<rect x="180.26" y="147.53" width="7.75" height="6.84" fill="#00b9c6"/>
<rect x="187.40" y="147.53" width="7.75" height="6.84" fill="#1aacdd"/>
<rect x="194.55" y="147.53" width="7.75" height="6.84" fill="#00b9c6"/>
<rect x="201.70" y="147.53" width="7.75" height="6.84" fill="#12beb9"/>
<rect x="208.84" y="147.53" width="14.89" height="6.84" fill="#00b9c6"/>
<rect x="223.14" y="147.53" width="14.89" height="6.84" fill="#12beb9"/>
<rect x="237.43" y="147.53" width="29.19" height="6.84" fill="#34c79c"/>
<rect x="266.02" y="147.53" width="7.75" height="6.84" fill="#5ccc76"/>
<rect x="273.17" y="147.53" width="7.75" height="6.84" fill="#94ca4a"/>
<rect x="280.32" y="147.53" width="7.75" height="6.84" fill="#c8c129"/>
<rect x="287.46" y="147.53" width="14.89" height="6.84" fill="#94ca4a"/>
<rect x="301.76" y="147.53" width="14.89" height="6.84" fill="#5ccc76"/>
<rect x="316.05" y="147.53" width="7.75" height="6.84" fill="#94ca4a"/>
<rect x="323.20" y="147.53" width="14.89" height="6.84" fill="#c8c129"/>
<rect x="337.49" y="147.53" width="7.75" height="6.84" fill="#94ca4a"/>
<rect x="344.64" y="147.53" width="7.75" height="6.84" fill="#12beb9"/>
<rect x="351.79" y="147.53" width="14.89" height="6.84" fill="#00b9c6"/>
<rect x="366.08" y="147.53" width="7.75" height="6.84" fill="#12beb9"/>
<rect x="373.23" y="147.53" width="7.75" height="6.84" fill="#94ca4a"/>
<rect x="380.38" y="147.53" width="7.75" height="6.84" fill="#f1ba37"/>
<rect x="387.52" y="147.53" width="7.15" height="6.24" fill="#c8c129"/>
<rect x="401.82" y="147.53" width="7.75" height="6.84" fill="#5ccc76"/>
<rect x="408.97" y="147.53" width="7.75" height="6.24" fill="#34c79c"/>
<rect x="416.11" y="147.53" width="14.89" height="6.84" fill="#12beb9"/>
<rect x="430.41" y="147.53" width="14.89" height="6.84" fill="#00b9c6"/>
<rect x="444.70" y="147.53" width="14.89" height="6.84" fill="#1aacdd"/>
<rect x="459.00" y="147.53" width="43.48" height="6.84" fill="#00b9c6"/>
<rect x="501.88" y="147.53" width="7.75" height="6.84" fill="#1aacdd"/>
<rect x="509.03" y="147.53" width="7.75" height="6.24" fill="#1aacdd"/>
<rect x="516.17" y="147.53" width="7.75" height="6.84" fill="#00b9c6"/>
<rect x="523.32" y="147.53" width="7.75" height="6.84" fill="#28c2ab"/>
<rect x="530.47" y="147.53" width="22.04" height="6.84" fill="#34c79c"/>
<rect x="551.91" y="147.53" width="14.89" height="6.84" fill="#5ccc76"/>
<rect x="566.21" y="147.53" width="14.29" height="6.84" fill="#34c79c"/>
<rect x="65.90" y="153.77" width="22.04" height="6.84" fill="#34c79c"/>
<rect x="87.34" y="153.77" width="50.63" height="6.84" fill="#12beb9"/>
<rect x="137.37" y="153.77" width="7.75" height="6.84" fill="#00b9c6"/>
<rect x="144.52" y="153.77" width="7.75" height="6.84" fill="#2e85f8"/>
<rect x="151.67" y="153.77" width="7.75" height="6.24" fill="#1aacdd"/>
<rect x="158.81" y="153.77" width="14.89" height="6.84" fill="#12beb9"/>
<rect x="173.11" y="153.77" width="7.75" height="6.84" fill="#00b9c6"/>
<rect x="180.26" y="153.77" width="22.04" height="6.84" fill="#1aacdd"/>
<rect x="201.70" y="153.77" width="7.75" height="6.84" fill="#00b9c6"/>
<rect x="208.84" y="153.77" width="36.34" height="6.84" fill="#12beb9"/>
<rect x="244.58" y="153.77" width="14.89" height="6.84" fill="#34c79c"/>
<rect x="258.88" y="153.77" width="14.89" height="6.84" fill="#5ccc76"/>
<rect x="273.17" y="153.77" width="7.75" height="6.84" fill="#94ca4a"/>
<rect x="280.32" y="153.77" width="14.89" height="6.84" fill="#c8c129"/>
<rect x="294.61" y="153.77" width="7.75" height="6.84" fill="#94ca4a"/>
<rect x="301.76" y="153.77" width="14.89" height="6.84" fill="#5ccc76"/>
<rect x="316.05" y="153.77" width="14.89" height="6.84" fill="#94ca4a"/>
<rect x="330.35" y="153.77" width="7.75" height="6.84" fill="#c8c129"/>
<rect x="337.49" y="153.77" width="7.75" height="6.84" fill="#5ccc76"/>
<rect x="344.64" y="153.77" width="7.75" height="6.84" fill="#12beb9"/>
<rect x="351.79" y="153.77" width="14.89" height="6.84" fill="#00b9c6"/>
<rect x="366.08" y="153.77" width="7.75" height="6.84" fill="#34c79c"/>
<rect x="373.23" y="153.77" width="7.75" height="6.84" fill="#feca33"/>
<rect x="380.38" y="153.77" width="7.15" height="6.84" fill="#f9fb15"/>
<rect x="394.67" y="153.77" width="7.75" height="6.24" fill="#feca33"/>
<rect x="401.82" y="153.77" width="7.15" height="6.24" fill="#5ccc76"/>
<rect x="416.11" y="153.77" width="14.89" height="6.84" fill="#12beb9"/>
<rect x="430.41" y="153.77" width="7.75" height="6.24" fill="#12beb9"/>
<rect x="437.56" y="153.77" width="7.75" height="6.84" fill="#00b9c6"/>
<rect x="444.70" y="153.77" width="7.75" height="6.84" fill="#12beb9"/>
<rect x="451.85" y="153.77" width="7.75" height="6.84" fill="#1aacdd"/>
<rect x="459.00" y="153.77" width="36.34" height="6.84" fill="#00b9c6"/>
<rect x="494.73" y="153.77" width="7.75" height="6.84" fill="#1aacdd"/>
<rect x="501.88" y="153.77" width="7.15" height="6.84" fill="#269ae9"/>
<rect x="516.17" y="153.77" width="7.75" height="6.84" fill="#1aacdd"/>
<rect x="523.32" y="153.77" width="7.75" height="6.84" fill="#28c2ab"/>
<rect x="530.47" y="153.77" width="43.48" height="6.84" fill="#34c79c"/>
<rect x="573.35" y="153.77" width="7.15" height="6.84" fill="#28c2ab"/>
<rect x="65.90" y="160.02" width="14.89" height="6.84" fill="#34c79c"/>
<rect x="80.19" y="160.02" width="22.04" height="6.84" fill="#12beb9"/>
<rect x="101.64" y="160.02" width="22.04" height="6.84" fill="#00b9c6"/>
<rect x="123.08" y="160.02" width="7.75" height="6.84" fill="#12beb9"/>
<rect x="130.23" y="160.02" width="7.75" height="6.84" fill="#34c79c"/>
<rect x="137.37" y="160.02" width="7.75" height="6.24" fill="#12beb9"/>
<rect x="144.52" y="160.02" width="7.15" height="6.24" fill="#00b9c6"/>
<rect x="158.81" y="160.02" width="14.89" height="6.24" fill="#34c79c"/>
<rect x="173.11" y="160.02" width="7.75" height="6.24" fill="#12beb9"/>
<rect x="180.26" y="160.02" width="7.75" height="6.24" fill="#00b9c6"/>
<rect x="187.40" y="160.02" width="14.89" height="6.24" fill="#1aacdd"/>
<rect x="201.70" y="160.02" width="7.75" height="6.24" fill="#00b9c6"/>
<rect x="208.84" y="160.02" width="14.89" height="6.24" fill="#12beb9"/>
<rect x="223.14" y="160.02" width="7.75" height="6.24" fill="#00b9c6"/>
<rect x="230.29" y="160.02" width="7.75" height="6.84" fill="#00b9c6"/>
<rect x="237.43" y="160.02" width="14.89" height="6.84" fill="#12beb9"/>
<rect x="251.73" y="160.02" width="22.04" height="6.84" fill="#5ccc76"/>
<rect x="273.17" y="160.02" width="7.75" height="6.84" fill="#94ca4a"/>
<rect x="280.32" y="160.02" width="7.75" height="6.84" fill="#c8c129"/>
<rect x="287.46" y="160.02" width="14.89" height="6.84" fill="#f1ba37"/>
<rect x="301.76" y="160.02" width="7.75" height="6.84" fill="#94ca4a"/>
<rect x="308.91" y="160.02" width="7.75" height="6.84" fill="#5ccc76"/>
<rect x="316.05" y="160.02" width="22.04" height="6.84" fill="#94ca4a"/>
<rect x="337.49" y="160.02" width="7.75" height="6.84" fill="#5ccc76"/>
<rect x="344.64" y="160.02" width="7.75" height="6.84" fill="#12beb9"/>
<rect x="351.79" y="160.02" width="14.89" height="6.84" fill="#00b9c6"/>
<rect x="366.08" y="160.02" width="7.75" height="6.84" fill="#34c79c"/>
<rect x="373.23" y="160.02" width="7.75" height="6.84" fill="#feca33"/>
<rect x="380.38" y="160.02" width="7.15" height="6.24" fill="#f9fb15"/>
<rect x="416.11" y="160.02" width="7.75" height="6.84" fill="#12beb9"/>
<rect x="423.26" y="160.02" width="7.15" height="6.84" fill="#00b9c6"/>
<rect x="437.56" y="160.02" width="7.75" height="6.84" fill="#00b9c6"/>
<rect x="444.70" y="160.02" width="7.75" height="6.84" fill="#12beb9"/>
<rect x="451.85" y="160.02" width="7.75" height="6.84" fill="#1aacdd"/>
<rect x="459.00" y="160.02" width="36.34" height="6.84" fill="#00b9c6"/>
<rect x="494.73" y="160.02" width="7.75" height="6.84" fill="#1aacdd"/>
<rect x="501.88" y="160.02" width="7.75" height="6.84" fill="#269ae9"/>
<rect x="509.03" y="160.02" width="7.75" height="6.24" fill="#269ae9"/>
<rect x="516.17" y="160.02" width="7.75" height="6.84" fill="#1aacdd"/>
<rect x="523.32" y="160.02" width="7.75" height="6.84" fill="#00b9c6"/>
<rect x="530.47" y="160.02" width="43.48" height="6.84" fill="#34c79c"/>
<rect x="573.35" y="160.02" width="7.15" height="6.84" fill="#28c2ab"/>
<rect x="65.90" y="166.26" width="14.89" height="6.84" fill="#34c79c"/>
<rect x="80.19" y="166.26" width="7.75" height="6.84" fill="#12beb9"/>
<rect x="87.34" y="166.26" width="29.19" height="6.84" fill="#00b9c6"/>
<rect x="115.93" y="166.26" width="14.89" height="6.84" fill="#12beb9"/>
<rect x="130.23" y="166.26" width="7.15" height="6.84" fill="#34c79c"/>
<rect x="230.29" y="166.26" width="14.89" height="6.24" fill="#1aacdd"/>
<rect x="244.58" y="166.26" width="7.75" height="6.84" fill="#00b9c6"/>
<rect x="251.73" y="166.26" width="7.75" height="6.84" fill="#12beb9"/>
<rect x="258.88" y="166.26" width="14.89" height="6.84" fill="#5ccc76"/>
<rect x="273.17" y="166.26" width="14.89" height="6.84" fill="#94ca4a"/>
<rect x="287.46" y="166.26" width="7.75" height="6.84" fill="#c8c129"/>
<rect x="294.61" y="166.26" width="7.75" height="6.84" fill="#f1ba37"/>
<rect x="301.76" y="166.26" width="7.75" height="6.84" fill="#c8c129"/>
<rect x="308.91" y="166.26" width="7.75" height="6.84" fill="#5ccc76"/>
<rect x="316.05" y="166.26" width="22.04" height="6.84" fill="#94ca4a"/>
<rect x="337.49" y="166.26" width="7.75" height="6.84" fill="#5ccc76"/>
<rect x="344.64" y="166.26" width="7.75" height="6.84" fill="#12beb9"/>
<rect x="351.79" y="166.26" width="14.89" height="6.84" fill="#00b9c6"/>
<rect x="366.08" y="166.26" width="7.75" height="6.84" fill="#34c79c"/>
<rect x="373.23" y="166.26" width="7.15" height="6.84" fill="#94ca4a"/>
<rect x="387.52" y="166.26" width="7.15" height="6.24" fill="#34c79c"/>
<rect x="416.11" y="166.26" width="7.75" height="6.24" fill="#00b9c6"/>
<rect x="423.26" y="166.26" width="7.75" height="6.84" fill="#12beb9"/>
<rect x="430.41" y="166.26" width="7.75" height="6.84" fill="#00b9c6"/>
<rect x="437.56" y="166.26" width="7.75" height="6.24" fill="#00b9c6"/>
<rect x="444.70" y="166.26" width="7.75" height="6.84" fill="#12beb9"/>
<rect x="451.85" y="166.26" width="7.75" height="6.84" fill="#1aacdd"/>
<rect x="459.00" y="166.26" width="14.89" height="6.84" fill="#28c2ab"/>
<rect x="473.29" y="166.26" width="14.89" height="6.84" fill="#00b9c6"/>
<rect x="487.59" y="166.26" width="14.89" height="6.84" fill="#1aacdd"/>
<rect x="501.88" y="166.26" width="7.15" height="6.84" fill="#269ae9"/>
<rect x="516.17" y="166.26" width="7.75" height="6.84" fill="#1aacdd"/>
<rect x="523.32" y="166.26" width="7.75" height="6.84" fill="#00b9c6"/>
<rect x="530.47" y="166.26" width="50.03" height="6.84" fill="#28c2ab"/>
<rect x="65.90" y="172.50" width="7.75" height="6.84" fill="#34c79c"/>
<rect x="73.05" y="172.50" width="14.89" height="6.84" fill="#12beb9"/>
<rect x="87.34" y="172.50" width="7.75" height="6.84" fill="#00b9c6"/>
<rect x="94.49" y="172.50" width="14.89" height="6.84" fill="#1aacdd"/>
<rect x="108.78" y="172.50" width="14.89" height="6.24" fill="#00b9c6"/>
<rect x="123.08" y="172.50" width="7.75" height="6.24" fill="#12beb9"/>
<rect x="130.23" y="172.50" width="7.15" height="6.24" fill="#34c79c"/>
<rect x="244.58" y="172.50" width="22.04" height="6.24" fill="#00b9c6"/>
<rect x="266.02" y="172.50" width="14.89" height="6.84" fill="#34c79c"/>
<rect x="280.32" y="172.50" width="7.75" height="6.84" fill="#5ccc76"/>
<rect x="287.46" y="172.50" width="7.75" height="6.84" fill="#94ca4a"/>
<rect x="294.61" y="172.50" width="7.75" height="6.84" fill="#c8c129"/>
<rect x="301.76" y="172.50" width="7.75" height="6.84" fill="#94ca4a"/>
<rect x="308.91" y="172.50" width="7.75" height="6.84" fill="#5ccc76"/>
<rect x="316.05" y="172.50" width="7.75" height="6.84" fill="#94ca4a"/>
<rect x="323.20" y="172.50" width="7.75" height="6.84" fill="#5ccc76"/>
<rect x="330.35" y="172.50" width="7.75" height="6.84" fill="#94ca4a"/>
<rect x="337.49" y="172.50" width="7.75" height="6.84" fill="#34c79c"/>
<rect x="344.64" y="172.50" width="7.75" height="6.84" fill="#12beb9"/>
<rect x="351.79" y="172.50" width="14.89" height="6.84" fill="#00b9c6"/>
<rect x="366.08" y="172.50" width="7.75" height="6.84" fill="#12beb9"/>
<rect x="373.23" y="172.50" width="7.75" height="6.84" fill="#34c79c"/>
<rect x="380.38" y="172.50" width="7.15" height="6.84" fill="#00b9c6"/>
<rect x="408.97" y="172.50" width="7.15" height="6.24" fill="#269ae9"/>
<rect x="423.26" y="172.50" width="7.75" height="6.84" fill="#34c79c"/>
<rect x="430.41" y="172.50" width="7.15" height="6.24" fill="#12beb9"/>
<rect x="444.70" y="172.50" width="14.89" height="6.84" fill="#00b9c6"/>
<rect x="459.00" y="172.50" width="14.89" height="6.84" fill="#28c2ab"/>
<rect x="473.29" y="172.50" width="7.75" height="6.84" fill="#00b9c6"/>
<rect x="480.44" y="172.50" width="22.04" height="6.84" fill="#1aacdd"/>
<rect x="501.88" y="172.50" width="7.15" height="6.84" fill="#269ae9"/>
<rect x="516.17" y="172.50" width="7.75" height="6.24" fill="#1aacdd"/>
<rect x="523.32" y="172.50" width="7.75" height="6.84" fill="#00b9c6"/>
<rect x="530.47" y="172.50" width="50.03" height="6.84" fill="#28c2ab"/>
<rect x="65.90" y="178.74" width="7.75" height="6.84" fill="#34c79c"/>
<rect x="73.05" y="178.74" width="7.75" height="6.84" fill="#12beb9"/>
<rect x="80.19" y="178.74" width="14.89" height="6.84" fill="#00b9c6"/>
<rect x="94.49" y="178.74" width="14.29" height="6.24" fill="#00b9c6"/>
<rect x="266.02" y="178.74" width="14.89" height="6.24" fill="#00b9c6"/>
<rect x="280.32" y="178.74" width="7.75" height="6.24" fill="#34c79c"/>
<rect x="287.46" y="178.74" width="7.75" height="6.84" fill="#34c79c"/>
<rect x="294.61" y="178.74" width="14.89" height="6.84" fill="#5ccc76"/>
<rect x="308.91" y="178.74" width="14.89" height="6.84" fill="#94ca4a"/>
<rect x="323.20" y="178.74" width="7.75" height="6.84" fill="#5ccc76"/>
<rect x="330.35" y="178.74" width="7.75" height="6.84" fill="#c8c129"/>
<rect x="337.49" y="178.74" width="7.75" height="6.84" fill="#5ccc76"/>
<rect x="344.64" y="178.74" width="7.75" height="6.84" fill="#12beb9"/>
<rect x="351.79" y="178.74" width="14.89" height="6.84" fill="#00b9c6"/>
<rect x="366.08" y="178.74" width="7.75" height="6.84" fill="#12beb9"/>
<rect x="373.23" y="178.74" width="7.75" height="6.84" fill="#34c79c"/>
<rect x="380.38" y="178.74" width="7.75" height="6.24" fill="#12beb9"/>
<rect x="387.52" y="178.74" width="7.15" height="6.24" fill="#1aacdd"/>
<rect x="423.26" y="178.74" width="7.15" height="6.84" fill="#5ccc76"/>
<rect x="437.56" y="178.74" width="14.89" height="6.84" fill="#00b9c6"/>
<rect x="451.85" y="178.74" width="7.75" height="6.84" fill="#1aacdd"/>
<rect x="459.00" y="178.74" width="14.89" height="6.84" fill="#00b9c6"/>
<rect x="473.29" y="178.74" width="14.89" height="6.84" fill="#1aacdd"/>
<rect x="487.59" y="178.74" width="21.44" height="6.84" fill="#269ae9"/>
<rect x="523.32" y="178.74" width="14.89" height="6.84" fill="#00b9c6"/>
<rect x="537.62" y="178.74" width="42.88" height="6.84" fill="#28c2ab"/>
<rect x="65.90" y="184.98" width="14.89" height="6.84" fill="#12beb9"/>
<rect x="80.19" y="184.98" width="7.75" height="6.84" fill="#00b9c6"/>
<rect x="87.34" y="184.98" width="7.15" height="6.24" fill="#00b9c6"/>
<rect x="287.46" y="184.98" width="7.75" height="6.24" fill="#12beb9"/>
<rect x="294.61" y="184.98" width="7.75" height="6.24" fill="#34c79c"/>
<rect x="301.76" y="184.98" width="7.75" height="6.84" fill="#5ccc76"/>
<rect x="308.91" y="184.98" width="7.75" height="6.84" fill="#94ca4a"/>
<rect x="316.05" y="184.98" width="14.89" height="6.84" fill="#5ccc76"/>
<rect x="330.35" y="184.98" width="7.75" height="6.84" fill="#94ca4a"/>
<rect x="337.49" y="184.98" width="7.75" height="6.84" fill="#5ccc76"/>
<rect x="344.64" y="184.98" width="7.75" height="6.84" fill="#12beb9"/>
<rect x="351.79" y="184.98" width="14.89" height="6.84" fill="#00b9c6"/>
<rect x="366.08" y="184.98" width="7.75" height="6.84" fill="#12beb9"/>
<rect x="373.23" y="184.98" width="7.15" height="6.84" fill="#94ca4a"/>
<rect x="394.67" y="184.98" width="7.15" height="6.84" fill="#1aacdd"/>
<rect x="416.11" y="184.98" width="7.75" height="6.24" fill="#269ae9"/>
<rect x="423.26" y="184.98" width="7.15" height="6.24" fill="#1aacdd"/>
<rect x="437.56" y="184.98" width="14.89" height="6.84" fill="#00b9c6"/>
<rect x="451.85" y="184.98" width="22.04" height="6.84" fill="#1aacdd"/>
<rect x="473.29" y="184.98" width="36.34" height="6.84" fill="#269ae9"/>
<rect x="509.03" y="184.98" width="7.75" height="6.24" fill="#1aacdd"/>
<rect x="516.17" y="184.98" width="29.19" height="6.84" fill="#00b9c6"/>
<rect x="544.76" y="184.98" width="35.74" height="6.84" fill="#28c2ab"/>
<rect x="65.90" y="191.22" width="14.89" height="6.24" fill="#12beb9"/>
<rect x="80.19" y="191.22" width="7.15" height="6.24" fill="#00b9c6"/>
<rect x="301.76" y="191.22" width="7.75" height="6.24" fill="#5ccc76"/>
<rect x="308.91" y="191.22" width="7.75" height="6.24" fill="#94ca4a"/>
<rect x="316.05" y="191.22" width="14.89" height="6.84" fill="#5ccc76"/>
<rect x="330.35" y="191.22" width="7.75" height="6.84" fill="#c8c129"/>
<rect x="337.49" y="191.22" width="7.75" height="6.84" fill="#5ccc76"/>
<rect x="344.64" y="191.22" width="7.75" height="6.84" fill="#12beb9"/>
<rect x="351.79" y="191.22" width="7.75" height="6.84" fill="#1aacdd"/>
<rect x="358.94" y="191.22" width="7.75" height="6.84" fill="#00b9c6"/>
<rect x="366.08" y="191.22" width="7.75" height="6.84" fill="#12beb9"/>
<rect x="373.23" y="191.22" width="7.75" height="6.84" fill="#94ca4a"/>
<rect x="380.38" y="191.22" width="7.75" height="6.84" fill="#f5e327"/>
<rect x="387.52" y="191.22" width="7.75" height="6.84" fill="#34c79c"/>
<rect x="394.67" y="191.22" width="7.15" height="6.84" fill="#269ae9"/>
<rect x="430.41" y="191.22" width="14.89" height="6.84" fill="#269ae9"/>
<rect x="444.70" y="191.22" width="22.04" height="6.84" fill="#1aacdd"/>
<rect x="466.14" y="191.22" width="14.89" height="6.84" fill="#269ae9"/>
<rect x="480.44" y="191.22" width="14.89" height="6.84" fill="#2e85f8"/>
<rect x="494.73" y="191.22" width="14.29" height="6.84" fill="#269ae9"/>
<rect x="516.17" y="191.22" width="64.33" height="6.84" fill="#00b9c6"/>
<rect x="316.05" y="197.47" width="14.89" height="6.24" fill="#c8c129"/>
<rect x="330.35" y="197.47" width="7.75" height="6.24" fill="#feca33"/>
<rect x="337.49" y="197.47" width="7.75" height="6.84" fill="#5ccc76"/>
<rect x="344.64" y="197.47" width="7.75" height="6.84" fill="#12beb9"/>
<rect x="351.79" y="197.47" width="14.89" height="6.84" fill="#00b9c6"/>
<rect x="366.08" y="197.47" width="7.75" height="6.84" fill="#12beb9"/>
<rect x="373.23" y="197.47" width="7.75" height="6.24" fill="#5ccc76"/>
<rect x="380.38" y="197.47" width="7.75" height="6.24" fill="#f1ba37"/>
<rect x="387.52" y="197.47" width="7.75" height="6.84" fill="#1aacdd"/>
<rect x="394.67" y="197.47" width="7.15" height="6.84" fill="#2e85f8"/>
<rect x="408.97" y="197.47" width="7.75" height="6.24" fill="#484cef"/>
<rect x="416.11" y="197.47" width="7.75" height="6.24" fill="#3f6eff"/>
<rect x="423.26" y="197.47" width="7.75" height="6.84" fill="#3f6eff"/>
<rect x="430.41" y="197.47" width="14.89" height="6.84" fill="#2e85f8"/>
<rect x="444.70" y="197.47" width="22.04" height="6.84" fill="#269ae9"/>
<rect x="466.14" y="197.47" width="36.34" height="6.84" fill="#2e85f8"/>
<rect x="501.88" y="197.47" width="14.89" height="6.84" fill="#269ae9"/>
<rect x="516.17" y="197.47" width="7.75" height="6.84" fill="#1aacdd"/>
<rect x="523.32" y="197.47" width="14.89" height="6.84" fill="#00b9c6"/>
<rect x="537.62" y="197.47" width="14.89" height="6.84" fill="#28c2ab"/>
<rect x="551.91" y="197.47" width="7.75" height="6.84" fill="#00b9c6"/>
<rect x="559.06" y="197.47" width="7.75" height="6.84" fill="#1aacdd"/>
<rect x="566.21" y="197.47" width="14.29" height="6.24" fill="#28c2ab"/>
<rect x="337.49" y="203.71" width="14.89" height="6.24" fill="#5ccc76"/>
<rect x="351.79" y="203.71" width="7.75" height="6.24" fill="#34c79c"/>
<rect x="358.94" y="203.71" width="14.29" height="6.84" fill="#12beb9"/>
<rect x="387.52" y="203.71" width="7.75" height="6.24" fill="#269ae9"/>
<rect x="394.67" y="203.71" width="7.15" height="6.24" fill="#3f6eff"/>
<rect x="423.26" y="203.71" width="7.75" height="6.24" fill="#3f6eff"/>
<rect x="430.41" y="203.71" width="7.75" height="6.84" fill="#3f6eff"/>
<rect x="437.56" y="203.71" width="14.89" height="6.84" fill="#2e85f8"/>
<rect x="451.85" y="203.71" width="7.75" height="6.84" fill="#269ae9"/>
<rect x="459.00" y="203.71" width="22.04" height="6.84" fill="#2e85f8"/>
<rect x="480.44" y="203.71" width="14.89" height="6.84" fill="#3f6eff"/>
<rect x="494.73" y="203.71" width="7.75" height="6.84" fill="#2e85f8"/>
<rect x="501.88" y="203.71" width="14.89" height="6.84" fill="#269ae9"/>
<rect x="516.17" y="203.71" width="7.75" height="6.84" fill="#1aacdd"/>
<rect x="523.32" y="203.71" width="7.75" height="6.24" fill="#1aacdd"/>
<rect x="530.47" y="203.71" width="14.89" height="6.84" fill="#1aacdd"/>
<rect x="544.76" y="203.71" width="7.75" height="6.24" fill="#1aacdd"/>
<rect x="551.91" y="203.71" width="7.75" height="6.84" fill="#1aacdd"/>
<rect x="559.06" y="203.71" width="7.15" height="6.24" fill="#1aacdd"/>
<rect x="358.94" y="209.95" width="7.75" height="6.24" fill="#94ca4a"/>
<rect x="366.08" y="209.95" width="7.15" height="6.24" fill="#12beb9"/>
<rect x="430.41" y="209.95" width="7.75" height="6.24" fill="#2e85f8"/>
<rect x="437.56" y="209.95" width="29.19" height="6.84" fill="#2e85f8"/>
<rect x="466.14" y="209.95" width="29.19" height="6.84" fill="#3f6eff"/>
<rect x="494.73" y="209.95" width="7.75" height="6.84" fill="#2e85f8"/>
<rect x="501.88" y="209.95" width="14.89" height="6.84" fill="#269ae9"/>
<rect x="516.17" y="209.95" width="7.15" height="6.24" fill="#269ae9"/>
<rect x="530.47" y="209.95" width="14.29" height="6.84" fill="#00b9c6"/>
<rect x="551.91" y="209.95" width="7.15" height="6.24" fill="#1aacdd"/>
<rect x="437.56" y="216.19" width="7.75" height="6.84" fill="#269ae9"/>
<rect x="444.70" y="216.19" width="7.75" height="6.84" fill="#2e85f8"/>
<rect x="451.85" y="216.19" width="36.34" height="6.84" fill="#3f6eff"/>
<rect x="487.59" y="216.19" width="14.89" height="6.84" fill="#2e85f8"/>
<rect x="501.88" y="216.19" width="14.29" height="6.84" fill="#269ae9"/>
<rect x="530.47" y="216.19" width="14.29" height="6.24" fill="#3f6eff"/>
<rect x="437.56" y="222.43" width="7.75" height="6.24" fill="#269ae9"/>
<rect x="444.70" y="222.43" width="7.75" height="6.84" fill="#3f6eff"/>
<rect x="451.85" y="222.43" width="7.75" height="6.84" fill="#484cef"/>
<rect x="459.00" y="222.43" width="7.75" height="6.84" fill="#3f6eff"/>
<rect x="466.14" y="222.43" width="7.75" height="6.24" fill="#3f6eff"/>
<rect x="473.29" y="222.43" width="14.89" height="6.84" fill="#3f6eff"/>
<rect x="487.59" y="222.43" width="14.89" height="6.84" fill="#2e85f8"/>
<rect x="501.88" y="222.43" width="14.29" height="6.84" fill="#269ae9"/>
<rect x="523.32" y="222.43" width="7.15" height="6.24" fill="#3f6eff"/>
<rect x="444.70" y="228.67" width="14.89" height="6.24" fill="#484cef"/>
<rect x="459.00" y="228.67" width="7.15" height="6.24" fill="#3f6eff"/>
<rect x="473.29" y="228.67" width="7.75" height="6.24" fill="#3f6eff"/>
<rect x="480.44" y="228.67" width="7.75" height="6.84" fill="#3f6eff"/>
<rect x="487.59" y="228.67" width="14.89" height="6.84" fill="#2e85f8"/>
<rect x="501.88" y="228.67" width="14.29" height="6.84" fill="#269ae9"/>
<rect x="466.14" y="234.92" width="7.15" height="6.24" fill="#3f6eff"/>
<rect x="480.44" y="234.92" width="7.75" height="6.24" fill="#3f6eff"/>
<rect x="487.59" y="234.92" width="7.75" height="6.24" fill="#2e85f8"/>
<rect x="494.73" y="234.92" width="21.44" height="6.24" fill="#269ae9"/>
<g stroke="rgba(38,38,38,0.15)" stroke-width="1"><line x1="130.23" y1="22.70" x2="130.23" y2="247.40"/><line x1="194.55" y1="22.70" x2="194.55" y2="247.40"/><line x1="258.88" y1="22.70" x2="258.88" y2="247.40"/><line x1="323.20" y1="22.70" x2="323.20" y2="247.40"/><line x1="387.52" y1="22.70" x2="387.52" y2="247.40"/><line x1="451.85" y1="22.70" x2="451.85" y2="247.40"/><line x1="516.17" y1="22.70" x2="516.17" y2="247.40"/><line x1="65.90" y1="209.95" x2="580.50" y2="209.95"/><line x1="65.90" y1="172.50" x2="580.50" y2="172.50"/><line x1="65.90" y1="135.05" x2="580.50" y2="135.05"/><line x1="65.90" y1="97.60" x2="580.50" y2="97.60"/><line x1="65.90" y1="60.15" x2="580.50" y2="60.15"/></g>
<g stroke="#4a4a4a" stroke-width="1"><line x1="65.90" y1="247.40" x2="65.90" y2="242.20"/><line x1="65.90" y1="22.70" x2="65.90" y2="27.90"/><line x1="130.23" y1="247.40" x2="130.23" y2="242.20"/><line x1="130.23" y1="22.70" x2="130.23" y2="27.90"/><line x1="194.55" y1="247.40" x2="194.55" y2="242.20"/><line x1="194.55" y1="22.70" x2="194.55" y2="27.90"/><line x1="258.88" y1="247.40" x2="258.88" y2="242.20"/><line x1="258.88" y1="22.70" x2="258.88" y2="27.90"/><line x1="323.20" y1="247.40" x2="323.20" y2="242.20"/><line x1="323.20" y1="22.70" x2="323.20" y2="27.90"/><line x1="387.52" y1="247.40" x2="387.52" y2="242.20"/><line x1="387.52" y1="22.70" x2="387.52" y2="27.90"/><line x1="451.85" y1="247.40" x2="451.85" y2="242.20"/><line x1="451.85" y1="22.70" x2="451.85" y2="27.90"/><line x1="516.17" y1="247.40" x2="516.17" y2="242.20"/><line x1="516.17" y1="22.70" x2="516.17" y2="27.90"/><line x1="580.50" y1="247.40" x2="580.50" y2="242.20"/><line x1="580.50" y1="22.70" x2="580.50" y2="27.90"/><line x1="65.90" y1="247.40" x2="71.10" y2="247.40"/><line x1="580.50" y1="247.40" x2="575.30" y2="247.40"/><line x1="65.90" y1="209.95" x2="71.10" y2="209.95"/><line x1="580.50" y1="209.95" x2="575.30" y2="209.95"/><line x1="65.90" y1="172.50" x2="71.10" y2="172.50"/><line x1="580.50" y1="172.50" x2="575.30" y2="172.50"/><line x1="65.90" y1="135.05" x2="71.10" y2="135.05"/><line x1="580.50" y1="135.05" x2="575.30" y2="135.05"/><line x1="65.90" y1="97.60" x2="71.10" y2="97.60"/><line x1="580.50" y1="97.60" x2="575.30" y2="97.60"/><line x1="65.90" y1="60.15" x2="71.10" y2="60.15"/><line x1="580.50" y1="60.15" x2="575.30" y2="60.15"/><line x1="65.90" y1="22.70" x2="71.10" y2="22.70"/><line x1="580.50" y1="22.70" x2="575.30" y2="22.70"/></g>
<rect x="65.90" y="22.70" width="514.60" height="224.70" fill="none" stroke="#4a4a4a" stroke-width="1"/>
<g font-size="19.8" fill="#262626"><text x="65.90" y="274.90" text-anchor="middle">0</text><text x="130.23" y="274.90" text-anchor="middle">45</text><text x="194.55" y="274.90" text-anchor="middle">90</text><text x="258.88" y="274.90" text-anchor="middle">135</text><text x="323.20" y="274.90" text-anchor="middle">180</text><text x="387.52" y="274.90" text-anchor="middle">225</text><text x="451.85" y="274.90" text-anchor="middle">270</text><text x="516.17" y="274.90" text-anchor="middle">315</text><text x="580.50" y="274.90" text-anchor="middle">360</text><text x="58.40" y="255.90" text-anchor="end">-90</text><text x="58.40" y="218.45" text-anchor="end">-60</text><text x="58.40" y="181.00" text-anchor="end">-30</text><text x="58.40" y="143.55" text-anchor="end">0</text><text x="58.40" y="106.10" text-anchor="end">30</text><text x="58.40" y="68.65" text-anchor="end">60</text><text x="58.40" y="31.20" text-anchor="end">90</text></g>
<text x="323.20" y="17.10" font-size="21.8" font-weight="bold" text-anchor="middle" fill="#000">PFS</text>
<text transform="translate(19.60,135.05) rotate(-90)" font-size="21.8" text-anchor="middle" fill="#262626">Latitude</text>
<text x="572.70" y="48.70" font-size="17" fill="#262626" text-anchor="end">(a)</text>
<rect x="610.20" y="22.70" width="26.60" height="224.70" fill="url(#cbar)" stroke="#262626" stroke-width="1"/>
<g stroke="#262626" stroke-width="1"><line x1="636.80" y1="191.22" x2="633.30" y2="191.22"/><line x1="636.80" y1="135.05" x2="633.30" y2="135.05"/><line x1="636.80" y1="78.88" x2="633.30" y2="78.88"/></g>
<g font-size="17.8" fill="#262626"><text x="644.40" y="254.80">400</text><text x="644.40" y="198.62">600</text><text x="644.40" y="142.45">800</text><text x="644.40" y="86.28">1000</text><text x="644.40" y="30.10">1200</text></g>
<rect x="215.99" y="327.40" width="7.15" height="6.84" fill="#0cb3d3"/>
<rect x="165.96" y="333.64" width="7.15" height="6.84" fill="#347afd"/>
<rect x="180.26" y="333.64" width="14.89" height="6.84" fill="#4536d5"/>
<rect x="194.55" y="333.64" width="7.75" height="6.84" fill="#484cef"/>
<rect x="201.70" y="333.64" width="7.75" height="6.84" fill="#4562fc"/>
<rect x="208.84" y="333.64" width="22.04" height="6.84" fill="#347afd"/>
<rect x="230.29" y="333.64" width="7.75" height="6.84" fill="#484cef"/>
<rect x="237.43" y="333.64" width="7.15" height="6.84" fill="#4536d5"/>
<rect x="251.73" y="333.64" width="7.15" height="6.84" fill="#4536d5"/>
<rect x="273.17" y="333.64" width="7.15" height="6.84" fill="#347afd"/>
<rect x="287.46" y="333.64" width="7.15" height="6.84" fill="#0cb3d3"/>
<rect x="165.96" y="339.88" width="7.75" height="6.84" fill="#347afd"/>
<rect x="173.11" y="339.88" width="7.75" height="6.84" fill="#4562fc"/>
<rect x="180.26" y="339.88" width="14.89" height="6.84" fill="#484cef"/>
<rect x="194.55" y="339.88" width="14.89" height="6.84" fill="#4562fc"/>
<rect x="208.84" y="339.88" width="22.04" height="6.84" fill="#347afd"/>
<rect x="230.29" y="339.88" width="22.04" height="6.84" fill="#4562fc"/>
<rect x="251.73" y="339.88" width="7.75" height="6.84" fill="#484cef"/>
<rect x="258.88" y="339.88" width="7.75" height="6.84" fill="#4562fc"/>
<rect x="266.02" y="339.88" width="14.89" height="6.84" fill="#347afd"/>
<rect x="280.32" y="339.88" width="7.75" height="6.84" fill="#2c90f0"/>
<rect x="287.46" y="339.88" width="7.75" height="6.84" fill="#21a3e3"/>
<rect x="294.61" y="339.88" width="14.89" height="6.84" fill="#0cb3d3"/>
<rect x="308.91" y="339.88" width="7.75" height="6.84" fill="#12beb9"/>
<rect x="316.05" y="339.88" width="7.15" height="6.84" fill="#5ccc76"/>
<rect x="144.52" y="346.12" width="7.75" height="6.84" fill="#347afd"/>
<rect x="151.67" y="346.12" width="29.19" height="6.84" fill="#4562fc"/>
<rect x="180.26" y="346.12" width="72.07" height="6.84" fill="#347afd"/>
<rect x="251.73" y="346.12" width="14.89" height="6.84" fill="#4562fc"/>
<rect x="266.02" y="346.12" width="14.89" height="6.84" fill="#347afd"/>
<rect x="280.32" y="346.12" width="7.75" height="6.84" fill="#2c90f0"/>
<rect x="287.46" y="346.12" width="7.75" height="6.84" fill="#21a3e3"/>
<rect x="294.61" y="346.12" width="14.89" height="6.84" fill="#0cb3d3"/>
<rect x="308.91" y="346.12" width="7.75" height="6.84" fill="#12beb9"/>
<rect x="316.05" y="346.12" width="14.29" height="6.84" fill="#5ccc76"/>
<rect x="115.93" y="352.37" width="7.75" height="6.84" fill="#347afd"/>
<rect x="123.08" y="352.37" width="14.89" height="6.84" fill="#4562fc"/>
<rect x="137.37" y="352.37" width="7.75" height="6.84" fill="#347afd"/>
<rect x="144.52" y="352.37" width="7.75" height="6.84" fill="#4562fc"/>
<rect x="151.67" y="352.37" width="14.89" height="6.84" fill="#484cef"/>
<rect x="165.96" y="352.37" width="7.75" height="6.84" fill="#4562fc"/>
<rect x="173.11" y="352.37" width="93.51" height="6.84" fill="#347afd"/>
<rect x="266.02" y="352.37" width="22.04" height="6.84" fill="#2c90f0"/>
<rect x="287.46" y="352.37" width="7.75" height="6.84" fill="#21a3e3"/>
<rect x="294.61" y="352.37" width="14.89" height="6.84" fill="#0cb3d3"/>
<rect x="308.91" y="352.37" width="7.75" height="6.84" fill="#12beb9"/>
<rect x="316.05" y="352.37" width="14.89" height="6.84" fill="#5ccc76"/>
<rect x="330.35" y="352.37" width="7.75" height="6.84" fill="#94ca4a"/>
<rect x="337.49" y="352.37" width="7.15" height="6.84" fill="#c8c129"/>
<rect x="87.34" y="358.61" width="14.29" height="6.84" fill="#347afd"/>
<rect x="108.78" y="358.61" width="14.89" height="6.84" fill="#347afd"/>
<rect x="123.08" y="358.61" width="14.89" height="6.84" fill="#4562fc"/>
<rect x="137.37" y="358.61" width="7.75" height="6.84" fill="#347afd"/>
<rect x="144.52" y="358.61" width="29.19" height="6.84" fill="#4562fc"/>
<rect x="173.11" y="358.61" width="14.89" height="6.84" fill="#347afd"/>
<rect x="187.40" y="358.61" width="7.75" height="6.84" fill="#4562fc"/>
<rect x="194.55" y="358.61" width="43.48" height="6.84" fill="#347afd"/>
<rect x="237.43" y="358.61" width="36.34" height="6.84" fill="#2c90f0"/>
<rect x="273.17" y="358.61" width="7.75" height="6.84" fill="#21a3e3"/>
<rect x="280.32" y="358.61" width="7.75" height="6.84" fill="#0cb3d3"/>
<rect x="287.46" y="358.61" width="22.04" height="6.84" fill="#12beb9"/>
<rect x="308.91" y="358.61" width="7.75" height="6.84" fill="#34c79c"/>
<rect x="316.05" y="358.61" width="7.75" height="6.84" fill="#5ccc76"/>
<rect x="323.20" y="358.61" width="7.75" height="6.84" fill="#34c79c"/>
<rect x="330.35" y="358.61" width="14.29" height="6.84" fill="#5ccc76"/>
<rect x="73.05" y="364.85" width="36.34" height="6.84" fill="#21a3e3"/>
<rect x="108.78" y="364.85" width="14.89" height="6.84" fill="#2c90f0"/>
<rect x="123.08" y="364.85" width="7.75" height="6.84" fill="#347afd"/>
<rect x="130.23" y="364.85" width="14.89" height="6.84" fill="#2c90f0"/>
<rect x="144.52" y="364.85" width="7.75" height="6.84" fill="#347afd"/>
<rect x="151.67" y="364.85" width="14.89" height="6.84" fill="#4562fc"/>
<rect x="165.96" y="364.85" width="29.19" height="6.84" fill="#347afd"/>
<rect x="194.55" y="364.85" width="57.78" height="6.84" fill="#2c90f0"/>
<rect x="251.73" y="364.85" width="22.04" height="6.84" fill="#21a3e3"/>
<rect x="273.17" y="364.85" width="7.75" height="6.84" fill="#0cb3d3"/>
<rect x="280.32" y="364.85" width="29.19" height="6.84" fill="#12beb9"/>
<rect x="308.91" y="364.85" width="7.75" height="6.84" fill="#34c79c"/>
<rect x="316.05" y="364.85" width="7.75" height="6.84" fill="#5ccc76"/>
<rect x="323.20" y="364.85" width="7.75" height="6.84" fill="#34c79c"/>
<rect x="330.35" y="364.85" width="7.75" height="6.84" fill="#5ccc76"/>
<rect x="337.49" y="364.85" width="7.75" height="6.84" fill="#34c79c"/>
<rect x="344.64" y="364.85" width="7.15" height="6.84" fill="#12beb9"/>
<rect x="358.94" y="364.85" width="7.15" height="6.84" fill="#5ccc76"/>
<rect x="65.90" y="371.09" width="7.75" height="6.84" fill="#0cb3d3"/>
<rect x="73.05" y="371.09" width="43.48" height="6.84" fill="#21a3e3"/>
<rect x="115.93" y="371.09" width="29.19" height="6.84" fill="#2c90f0"/>
<rect x="144.52" y="371.09" width="43.48" height="6.84" fill="#347afd"/>
<rect x="187.40" y="371.09" width="57.78" height="6.84" fill="#2c90f0"/>
<rect x="244.58" y="371.09" width="22.04" height="6.84" fill="#21a3e3"/>
<rect x="266.02" y="371.09" width="7.75" height="6.84" fill="#0cb3d3"/>
<rect x="273.17" y="371.09" width="36.34" height="6.84" fill="#12beb9"/>
<rect x="308.91" y="371.09" width="7.75" height="6.84" fill="#34c79c"/>
<rect x="316.05" y="371.09" width="7.75" height="6.84" fill="#5ccc76"/>
<rect x="323.20" y="371.09" width="22.04" height="6.84" fill="#34c79c"/>
<rect x="344.64" y="371.09" width="7.75" height="6.84" fill="#12beb9"/>
<rect x="351.79" y="371.09" width="7.75" height="6.84" fill="#34c79c"/>
<rect x="358.94" y="371.09" width="7.75" height="6.84" fill="#94ca4a"/>
<rect x="366.08" y="371.09" width="7.15" height="6.84" fill="#c8c129"/>
<rect x="544.76" y="371.09" width="7.75" height="6.84" fill="#5ccc76"/>
<rect x="551.91" y="371.09" width="7.75" height="6.84" fill="#34c79c"/>
<rect x="559.06" y="371.09" width="7.15" height="6.84" fill="#12beb9"/>
<rect x="573.35" y="371.09" width="7.15" height="6.84" fill="#5ccc76"/>
<rect x="65.90" y="377.33" width="7.75" height="6.84" fill="#0cb3d3"/>
<rect x="73.05" y="377.33" width="43.48" height="6.84" fill="#21a3e3"/>
<rect x="115.93" y="377.33" width="36.34" height="6.84" fill="#2c90f0"/>
<rect x="151.67" y="377.33" width="14.89" height="6.84" fill="#347afd"/>
<rect x="165.96" y="377.33" width="79.22" height="6.84" fill="#2c90f0"/>
<rect x="244.58" y="377.33" width="22.04" height="6.84" fill="#21a3e3"/>
<rect x="266.02" y="377.33" width="7.75" height="6.84" fill="#0cb3d3"/>
<rect x="273.17" y="377.33" width="43.48" height="6.84" fill="#12beb9"/>
<rect x="316.05" y="377.33" width="43.48" height="6.84" fill="#34c79c"/>
<rect x="358.94" y="377.33" width="14.89" height="6.84" fill="#94ca4a"/>
<rect x="373.23" y="377.33" width="14.29" height="6.84" fill="#5ccc76"/>
<rect x="394.67" y="377.33" width="7.15" height="6.84" fill="#5ccc76"/>
<rect x="451.85" y="377.33" width="7.15" height="6.84" fill="#5ccc76"/>
<rect x="466.14" y="377.33" width="7.75" height="6.84" fill="#34c79c"/>
<rect x="473.29" y="377.33" width="7.15" height="6.84" fill="#12beb9"/>
<rect x="487.59" y="377.33" width="7.75" height="6.84" fill="#f1ba37"/>
<rect x="494.73" y="377.33" width="7.75" height="6.84" fill="#c8c129"/>
<rect x="501.88" y="377.33" width="7.15" height="6.84" fill="#5ccc76"/>
<rect x="516.17" y="377.33" width="14.89" height="6.84" fill="#34c79c"/>
<rect x="530.47" y="377.33" width="7.75" height="6.84" fill="#5ccc76"/>
<rect x="537.62" y="377.33" width="7.75" height="6.24" fill="#5ccc76"/>
<rect x="544.76" y="377.33" width="14.89" height="6.84" fill="#34c79c"/>
<rect x="559.06" y="377.33" width="7.75" height="6.84" fill="#12beb9"/>
<rect x="566.21" y="377.33" width="7.75" height="6.84" fill="#0cb3d3"/>
<rect x="573.35" y="377.33" width="7.15" height="6.84" fill="#5ccc76"/>
<rect x="65.90" y="383.57" width="7.75" height="6.84" fill="#0cb3d3"/>
<rect x="73.05" y="383.57" width="50.63" height="6.84" fill="#21a3e3"/>
<rect x="123.08" y="383.57" width="122.10" height="6.84" fill="#2c90f0"/>
<rect x="244.58" y="383.57" width="14.89" height="6.84" fill="#21a3e3"/>
<rect x="258.88" y="383.57" width="7.75" height="6.84" fill="#2c90f0"/>
<rect x="266.02" y="383.57" width="7.75" height="6.84" fill="#0cb3d3"/>
<rect x="273.17" y="383.57" width="7.75" height="6.84" fill="#12beb9"/>
<rect x="280.32" y="383.57" width="14.89" height="6.84" fill="#34c79c"/>
<rect x="294.61" y="383.57" width="7.75" height="6.84" fill="#12beb9"/>
<rect x="301.76" y="383.57" width="7.75" height="6.84" fill="#21a3e3"/>
<rect x="308.91" y="383.57" width="7.75" height="6.84" fill="#2c90f0"/>
<rect x="316.05" y="383.57" width="14.89" height="6.84" fill="#12beb9"/>
<rect x="330.35" y="383.57" width="29.19" height="6.84" fill="#34c79c"/>
<rect x="358.94" y="383.57" width="14.89" height="6.84" fill="#94ca4a"/>
<rect x="373.23" y="383.57" width="7.75" height="6.84" fill="#34c79c"/>
<rect x="380.38" y="383.57" width="7.15" height="6.84" fill="#5ccc76"/>
<rect x="394.67" y="383.57" width="7.15" height="6.84" fill="#5ccc76"/>
<rect x="408.97" y="383.57" width="7.75" height="6.84" fill="#5ccc76"/>
<rect x="416.11" y="383.57" width="22.04" height="6.84" fill="#94ca4a"/>
<rect x="437.56" y="383.57" width="14.89" height="6.84" fill="#5ccc76"/>
<rect x="451.85" y="383.57" width="7.75" height="6.84" fill="#94ca4a"/>
<rect x="459.00" y="383.57" width="7.75" height="6.84" fill="#f1ba37"/>
<rect x="466.14" y="383.57" width="7.75" height="6.84" fill="#5ccc76"/>
<rect x="473.29" y="383.57" width="7.75" height="6.84" fill="#34c79c"/>
<rect x="480.44" y="383.57" width="7.75" height="6.84" fill="#5ccc76"/>
<rect x="487.59" y="383.57" width="14.89" height="6.84" fill="#94ca4a"/>
<rect x="501.88" y="383.57" width="14.89" height="6.84" fill="#5ccc76"/>
<rect x="516.17" y="383.57" width="21.44" height="6.84" fill="#34c79c"/>
<rect x="544.76" y="383.57" width="7.75" height="6.84" fill="#34c79c"/>
<rect x="551.91" y="383.57" width="14.89" height="6.84" fill="#12beb9"/>
<rect x="566.21" y="383.57" width="14.29" height="6.84" fill="#0cb3d3"/>
<rect x="65.90" y="389.82" width="7.75" height="6.84" fill="#347afd"/>
<rect x="73.05" y="389.82" width="50.63" height="6.84" fill="#21a3e3"/>
<rect x="123.08" y="389.82" width="7.75" height="6.84" fill="#2c90f0"/>
<rect x="130.23" y="389.82" width="22.04" height="6.84" fill="#21a3e3"/>
<rect x="151.67" y="389.82" width="14.89" height="6.84" fill="#2c90f0"/>
<rect x="165.96" y="389.82" width="22.04" height="6.84" fill="#21a3e3"/>
<rect x="187.40" y="389.82" width="29.19" height="6.84" fill="#2c90f0"/>
<rect x="215.99" y="389.82" width="50.63" height="6.84" fill="#21a3e3"/>
<rect x="266.02" y="389.82" width="7.75" height="6.84" fill="#0cb3d3"/>
<rect x="273.17" y="389.82" width="7.75" height="6.84" fill="#12beb9"/>
<rect x="280.32" y="389.82" width="7.75" height="6.84" fill="#5ccc76"/>
<rect x="287.46" y="389.82" width="7.75" height="6.84" fill="#34c79c"/>
<rect x="294.61" y="389.82" width="7.75" height="6.84" fill="#5ccc76"/>
<rect x="301.76" y="389.82" width="7.75" height="6.84" fill="#12beb9"/>
<rect x="308.91" y="389.82" width="7.75" height="6.24" fill="#12beb9"/>
<rect x="316.05" y="389.82" width="29.19" height="6.84" fill="#34c79c"/>
<rect x="344.64" y="389.82" width="14.89" height="6.84" fill="#5ccc76"/>
<rect x="358.94" y="389.82" width="14.89" height="6.84" fill="#94ca4a"/>
<rect x="373.23" y="389.82" width="7.75" height="6.84" fill="#12beb9"/>
<rect x="380.38" y="389.82" width="7.75" height="6.84" fill="#34c79c"/>
<rect x="387.52" y="389.82" width="29.19" height="6.84" fill="#5ccc76"/>
<rect x="416.11" y="389.82" width="22.04" height="6.84" fill="#94ca4a"/>
<rect x="437.56" y="389.82" width="14.89" height="6.84" fill="#5ccc76"/>
<rect x="451.85" y="389.82" width="14.89" height="6.84" fill="#94ca4a"/>
<rect x="466.14" y="389.82" width="7.75" height="6.84" fill="#5ccc76"/>
<rect x="473.29" y="389.82" width="7.75" height="6.84" fill="#94ca4a"/>
<rect x="480.44" y="389.82" width="29.19" height="6.84" fill="#5ccc76"/>
<rect x="509.03" y="389.82" width="50.63" height="6.84" fill="#34c79c"/>
<rect x="559.06" y="389.82" width="7.75" height="6.84" fill="#12beb9"/>
<rect x="566.21" y="389.82" width="7.75" height="6.84" fill="#0cb3d3"/>
<rect x="573.35" y="389.82" width="7.15" height="6.24" fill="#0cb3d3"/>
<rect x="65.90" y="396.06" width="36.34" height="6.84" fill="#21a3e3"/>
<rect x="101.64" y="396.06" width="14.89" height="6.84" fill="#0cb3d3"/>
<rect x="115.93" y="396.06" width="7.75" height="6.84" fill="#21a3e3"/>
<rect x="123.08" y="396.06" width="7.75" height="6.84" fill="#2c90f0"/>
<rect x="130.23" y="396.06" width="136.40" height="6.84" fill="#21a3e3"/>
<rect x="266.02" y="396.06" width="7.75" height="6.84" fill="#12beb9"/>
<rect x="273.17" y="396.06" width="7.75" height="6.84" fill="#34c79c"/>
<rect x="280.32" y="396.06" width="7.75" height="6.84" fill="#5ccc76"/>
<rect x="287.46" y="396.06" width="7.75" height="6.84" fill="#34c79c"/>
<rect x="294.61" y="396.06" width="14.29" height="6.84" fill="#5ccc76"/>
<rect x="316.05" y="396.06" width="29.19" height="6.84" fill="#34c79c"/>
<rect x="344.64" y="396.06" width="29.19" height="6.84" fill="#94ca4a"/>
<rect x="373.23" y="396.06" width="7.75" height="6.84" fill="#12beb9"/>
<rect x="380.38" y="396.06" width="7.75" height="6.84" fill="#34c79c"/>
<rect x="387.52" y="396.06" width="7.75" height="6.84" fill="#5ccc76"/>
<rect x="394.67" y="396.06" width="7.75" height="6.84" fill="#94ca4a"/>
<rect x="401.82" y="396.06" width="7.75" height="6.84" fill="#5ccc76"/>
<rect x="408.97" y="396.06" width="7.75" height="6.84" fill="#94ca4a"/>
<rect x="416.11" y="396.06" width="7.75" height="6.84" fill="#c8c129"/>
<rect x="423.26" y="396.06" width="7.75" height="6.84" fill="#f1ba37"/>
<rect x="430.41" y="396.06" width="7.75" height="6.84" fill="#94ca4a"/>
<rect x="437.56" y="396.06" width="14.89" height="6.84" fill="#5ccc76"/>
<rect x="451.85" y="396.06" width="14.89" height="6.84" fill="#94ca4a"/>
<rect x="466.14" y="396.06" width="14.89" height="6.84" fill="#5ccc76"/>
<rect x="480.44" y="396.06" width="79.22" height="6.84" fill="#34c79c"/>
<rect x="559.06" y="396.06" width="7.75" height="6.84" fill="#12beb9"/>
<rect x="566.21" y="396.06" width="7.15" height="6.84" fill="#0cb3d3"/>
<rect x="65.90" y="402.30" width="14.89" height="6.84" fill="#0cb3d3"/>
<rect x="80.19" y="402.30" width="14.89" height="6.84" fill="#2c90f0"/>
<rect x="94.49" y="402.30" width="14.89" height="6.84" fill="#21a3e3"/>
<rect x="108.78" y="402.30" width="7.75" height="6.84" fill="#0cb3d3"/>
<rect x="115.93" y="402.30" width="14.89" height="6.84" fill="#21a3e3"/>
<rect x="130.23" y="402.30" width="14.89" height="6.84" fill="#0cb3d3"/>
<rect x="144.52" y="402.30" width="14.89" height="6.84" fill="#21a3e3"/>
<rect x="158.81" y="402.30" width="86.37" height="6.84" fill="#0cb3d3"/>
<rect x="244.58" y="402.30" width="14.89" height="6.84" fill="#21a3e3"/>
<rect x="258.88" y="402.30" width="7.75" height="6.84" fill="#0cb3d3"/>
<rect x="266.02" y="402.30" width="7.75" height="6.84" fill="#12beb9"/>
<rect x="273.17" y="402.30" width="57.78" height="6.84" fill="#34c79c"/>
<rect x="330.35" y="402.30" width="29.19" height="6.84" fill="#5ccc76"/>
<rect x="358.94" y="402.30" width="7.75" height="6.84" fill="#c8c129"/>
<rect x="366.08" y="402.30" width="7.75" height="6.84" fill="#94ca4a"/>
<rect x="373.23" y="402.30" width="7.75" height="6.24" fill="#34c79c"/>
<rect x="380.38" y="402.30" width="7.75" height="6.84" fill="#34c79c"/>
<rect x="387.52" y="402.30" width="7.75" height="6.84" fill="#5ccc76"/>
<rect x="394.67" y="402.30" width="7.75" height="6.84" fill="#94ca4a"/>
<rect x="401.82" y="402.30" width="7.75" height="6.84" fill="#5ccc76"/>
<rect x="408.97" y="402.30" width="7.75" height="6.84" fill="#94ca4a"/>
<rect x="416.11" y="402.30" width="14.89" height="6.84" fill="#c8c129"/>
<rect x="430.41" y="402.30" width="7.75" height="6.84" fill="#94ca4a"/>
<rect x="437.56" y="402.30" width="14.89" height="6.84" fill="#5ccc76"/>
<rect x="451.85" y="402.30" width="7.75" height="6.84" fill="#94ca4a"/>
<rect x="459.00" y="402.30" width="14.89" height="6.84" fill="#c8c129"/>
<rect x="473.29" y="402.30" width="7.75" height="6.84" fill="#5ccc76"/>
<rect x="480.44" y="402.30" width="79.22" height="6.84" fill="#34c79c"/>
<rect x="559.06" y="402.30" width="7.75" height="6.84" fill="#12beb9"/>
<rect x="566.21" y="402.30" width="7.75" height="6.84" fill="#0cb3d3"/>
<rect x="573.35" y="402.30" width="7.15" height="6.84" fill="#2c90f0"/>
<rect x="65.90" y="408.54" width="14.89" height="6.84" fill="#0cb3d3"/>
<rect x="80.19" y="408.54" width="29.19" height="6.84" fill="#21a3e3"/>
<rect x="108.78" y="408.54" width="7.75" height="6.84" fill="#0cb3d3"/>
<rect x="115.93" y="408.54" width="14.89" height="6.84" fill="#21a3e3"/>
<rect x="130.23" y="408.54" width="36.34" height="6.84" fill="#0cb3d3"/>
<rect x="165.96" y="408.54" width="29.19" height="6.84" fill="#12beb9"/>
<rect x="194.55" y="408.54" width="7.75" height="6.84" fill="#0cb3d3"/>
<rect x="201.70" y="408.54" width="36.34" height="6.84" fill="#12beb9"/>
<rect x="237.43" y="408.54" width="14.89" height="6.84" fill="#0cb3d3"/>
<rect x="251.73" y="408.54" width="7.75" height="6.84" fill="#21a3e3"/>
<rect x="258.88" y="408.54" width="7.75" height="6.84" fill="#0cb3d3"/>
<rect x="266.02" y="408.54" width="7.75" height="6.84" fill="#12beb9"/>
<rect x="273.17" y="408.54" width="22.04" height="6.84" fill="#34c79c"/>
<rect x="294.61" y="408.54" width="14.89" height="6.84" fill="#12beb9"/>
<rect x="308.91" y="408.54" width="7.75" height="6.84" fill="#0cb3d3"/>
<rect x="316.05" y="408.54" width="43.48" height="6.84" fill="#5ccc76"/>
<rect x="358.94" y="408.54" width="7.75" height="6.84" fill="#c8c129"/>
<rect x="366.08" y="408.54" width="7.15" height="6.84" fill="#94ca4a"/>
<rect x="380.38" y="408.54" width="7.75" height="6.84" fill="#34c79c"/>
<rect x="387.52" y="408.54" width="29.19" height="6.84" fill="#5ccc76"/>
<rect x="416.11" y="408.54" width="14.89" height="6.84" fill="#94ca4a"/>
<rect x="430.41" y="408.54" width="22.04" height="6.84" fill="#5ccc76"/>
<rect x="451.85" y="408.54" width="7.75" height="6.84" fill="#94ca4a"/>
<rect x="459.00" y="408.54" width="14.89" height="6.84" fill="#c8c129"/>
<rect x="473.29" y="408.54" width="7.75" height="6.84" fill="#5ccc76"/>
<rect x="480.44" y="408.54" width="14.89" height="6.84" fill="#34c79c"/>
<rect x="494.73" y="408.54" width="7.75" height="6.84" fill="#12beb9"/>
<rect x="501.88" y="408.54" width="14.89" height="6.84" fill="#34c79c"/>
<rect x="516.17" y="408.54" width="7.75" height="6.84" fill="#12beb9"/>
<rect x="523.32" y="408.54" width="36.34" height="6.84" fill="#34c79c"/>
<rect x="559.06" y="408.54" width="7.75" height="6.84" fill="#12beb9"/>
<rect x="566.21" y="408.54" width="7.75" height="6.84" fill="#21a3e3"/>
<rect x="573.35" y="408.54" width="7.15" height="6.24" fill="#347afd"/>
<rect x="65.90" y="414.78" width="7.75" height="6.84" fill="#21a3e3"/>
<rect x="73.05" y="414.78" width="7.75" height="6.84" fill="#0cb3d3"/>
<rect x="80.19" y="414.78" width="29.19" height="6.84" fill="#21a3e3"/>
<rect x="108.78" y="414.78" width="14.89" height="6.84" fill="#0cb3d3"/>
<rect x="123.08" y="414.78" width="7.75" height="6.84" fill="#21a3e3"/>
<rect x="130.23" y="414.78" width="7.75" height="6.84" fill="#0cb3d3"/>
<rect x="137.37" y="414.78" width="14.89" height="6.84" fill="#12beb9"/>
<rect x="151.67" y="414.78" width="7.75" height="6.84" fill="#0cb3d3"/>
<rect x="158.81" y="414.78" width="7.75" height="6.84" fill="#12beb9"/>
<rect x="165.96" y="414.78" width="29.19" height="6.84" fill="#34c79c"/>
<rect x="194.55" y="414.78" width="14.89" height="6.84" fill="#12beb9"/>
<rect x="208.84" y="414.78" width="29.19" height="6.84" fill="#34c79c"/>
<rect x="237.43" y="414.78" width="7.75" height="6.84" fill="#12beb9"/>
<rect x="244.58" y="414.78" width="7.75" height="6.84" fill="#0cb3d3"/>
<rect x="251.73" y="414.78" width="7.75" height="6.84" fill="#21a3e3"/>
<rect x="258.88" y="414.78" width="7.75" height="6.84" fill="#0cb3d3"/>
<rect x="266.02" y="414.78" width="7.75" height="6.84" fill="#12beb9"/>
<rect x="273.17" y="414.78" width="7.75" height="6.84" fill="#34c79c"/>
<rect x="280.32" y="414.78" width="14.89" height="6.84" fill="#5ccc76"/>
<rect x="294.61" y="414.78" width="7.75" height="6.84" fill="#34c79c"/>
<rect x="301.76" y="414.78" width="7.75" height="6.84" fill="#12beb9"/>
<rect x="308.91" y="414.78" width="7.75" height="6.84" fill="#0cb3d3"/>
<rect x="316.05" y="414.78" width="14.89" height="6.84" fill="#5ccc76"/>
<rect x="330.35" y="414.78" width="7.75" height="6.84" fill="#94ca4a"/>
<rect x="337.49" y="414.78" width="7.75" height="6.84" fill="#c8c129"/>
<rect x="344.64" y="414.78" width="14.89" height="6.84" fill="#94ca4a"/>
<rect x="358.94" y="414.78" width="7.75" height="6.84" fill="#c8c129"/>
<rect x="366.08" y="414.78" width="7.75" height="6.84" fill="#94ca4a"/>
<rect x="373.23" y="414.78" width="7.75" height="6.84" fill="#34c79c"/>
<rect x="380.38" y="414.78" width="7.75" height="6.84" fill="#12beb9"/>
<rect x="387.52" y="414.78" width="7.75" height="6.24" fill="#34c79c"/>
<rect x="394.67" y="414.78" width="43.48" height="6.84" fill="#5ccc76"/>
<rect x="437.56" y="414.78" width="7.75" height="6.84" fill="#34c79c"/>
<rect x="444.70" y="414.78" width="14.89" height="6.84" fill="#5ccc76"/>
<rect x="459.00" y="414.78" width="14.89" height="6.84" fill="#94ca4a"/>
<rect x="473.29" y="414.78" width="7.75" height="6.84" fill="#5ccc76"/>
<rect x="480.44" y="414.78" width="14.89" height="6.84" fill="#34c79c"/>
<rect x="494.73" y="414.78" width="14.89" height="6.84" fill="#12beb9"/>
<rect x="509.03" y="414.78" width="29.19" height="6.84" fill="#34c79c"/>
<rect x="537.62" y="414.78" width="7.75" height="6.84" fill="#5ccc76"/>
<rect x="544.76" y="414.78" width="7.75" height="6.84" fill="#34c79c"/>
<rect x="551.91" y="414.78" width="7.75" height="6.24" fill="#34c79c"/>
<rect x="559.06" y="414.78" width="7.75" height="6.84" fill="#12beb9"/>
<rect x="566.21" y="414.78" width="7.15" height="6.24" fill="#21a3e3"/>
<rect x="65.90" y="421.02" width="7.75" height="6.84" fill="#21a3e3"/>
<rect x="73.05" y="421.02" width="7.75" height="6.84" fill="#0cb3d3"/>
<rect x="80.19" y="421.02" width="29.19" height="6.84" fill="#21a3e3"/>
<rect x="108.78" y="421.02" width="29.19" height="6.84" fill="#0cb3d3"/>
<rect x="137.37" y="421.02" width="22.04" height="6.84" fill="#12beb9"/>
<rect x="158.81" y="421.02" width="7.75" height="6.84" fill="#0cb3d3"/>
<rect x="165.96" y="421.02" width="7.75" height="6.84" fill="#12beb9"/>
<rect x="173.11" y="421.02" width="22.04" height="6.84" fill="#34c79c"/>
<rect x="194.55" y="421.02" width="14.89" height="6.84" fill="#12beb9"/>
<rect x="208.84" y="421.02" width="14.89" height="6.84" fill="#34c79c"/>
<rect x="223.14" y="421.02" width="7.75" height="6.84" fill="#5ccc76"/>
<rect x="230.29" y="421.02" width="7.75" height="6.84" fill="#94ca4a"/>
<rect x="237.43" y="421.02" width="7.75" height="6.84" fill="#12beb9"/>
<rect x="244.58" y="421.02" width="14.89" height="6.84" fill="#0cb3d3"/>
<rect x="258.88" y="421.02" width="14.89" height="6.84" fill="#12beb9"/>
<rect x="273.17" y="421.02" width="7.75" height="6.84" fill="#34c79c"/>
<rect x="280.32" y="421.02" width="14.89" height="6.84" fill="#94ca4a"/>
<rect x="294.61" y="421.02" width="7.75" height="6.84" fill="#34c79c"/>
<rect x="301.76" y="421.02" width="7.75" height="6.84" fill="#12beb9"/>
<rect x="308.91" y="421.02" width="7.75" height="6.84" fill="#0cb3d3"/>
<rect x="316.05" y="421.02" width="14.89" height="6.84" fill="#5ccc76"/>
<rect x="330.35" y="421.02" width="7.75" height="6.84" fill="#94ca4a"/>
<rect x="337.49" y="421.02" width="7.75" height="6.84" fill="#c8c129"/>
<rect x="344.64" y="421.02" width="14.89" height="6.84" fill="#94ca4a"/>
<rect x="358.94" y="421.02" width="7.75" height="6.84" fill="#c8c129"/>
<rect x="366.08" y="421.02" width="7.75" height="6.84" fill="#94ca4a"/>
<rect x="373.23" y="421.02" width="14.29" height="6.84" fill="#34c79c"/>
<rect x="394.67" y="421.02" width="14.89" height="6.84" fill="#34c79c"/>
<rect x="408.97" y="421.02" width="14.89" height="6.84" fill="#5ccc76"/>
<rect x="423.26" y="421.02" width="36.34" height="6.84" fill="#34c79c"/>
<rect x="459.00" y="421.02" width="7.75" height="6.84" fill="#5ccc76"/>
<rect x="466.14" y="421.02" width="22.04" height="6.84" fill="#34c79c"/>
<rect x="487.59" y="421.02" width="22.04" height="6.84" fill="#12beb9"/>
<rect x="509.03" y="421.02" width="42.88" height="6.84" fill="#34c79c"/>
<rect x="559.06" y="421.02" width="7.15" height="6.84" fill="#12beb9"/>
<rect x="573.35" y="421.02" width="7.15" height="6.84" fill="#484cef"/>
<rect x="65.90" y="427.27" width="36.34" height="6.84" fill="#0cb3d3"/>
<rect x="101.64" y="427.27" width="22.04" height="6.84" fill="#12beb9"/>
<rect x="123.08" y="427.27" width="7.75" height="6.84" fill="#0cb3d3"/>
<rect x="130.23" y="427.27" width="14.89" height="6.84" fill="#34c79c"/>
<rect x="144.52" y="427.27" width="14.89" height="6.84" fill="#12beb9"/>
<rect x="158.81" y="427.27" width="7.75" height="6.84" fill="#0cb3d3"/>
<rect x="165.96" y="427.27" width="22.04" height="6.84" fill="#12beb9"/>
<rect x="187.40" y="427.27" width="7.75" height="6.84" fill="#34c79c"/>
<rect x="194.55" y="427.27" width="29.19" height="6.84" fill="#12beb9"/>
<rect x="223.14" y="427.27" width="7.75" height="6.84" fill="#34c79c"/>
<rect x="230.29" y="427.27" width="7.75" height="6.84" fill="#5ccc76"/>
<rect x="237.43" y="427.27" width="22.04" height="6.84" fill="#12beb9"/>
<rect x="258.88" y="427.27" width="14.89" height="6.84" fill="#34c79c"/>
<rect x="273.17" y="427.27" width="22.04" height="6.84" fill="#c8c129"/>
<rect x="294.61" y="427.27" width="7.75" height="6.84" fill="#5ccc76"/>
<rect x="301.76" y="427.27" width="7.75" height="6.84" fill="#34c79c"/>
<rect x="308.91" y="427.27" width="7.75" height="6.84" fill="#12beb9"/>
<rect x="316.05" y="427.27" width="36.34" height="6.84" fill="#94ca4a"/>
<rect x="351.79" y="427.27" width="7.75" height="6.84" fill="#c8c129"/>
<rect x="358.94" y="427.27" width="7.75" height="6.84" fill="#f1ba37"/>
<rect x="366.08" y="427.27" width="7.75" height="6.84" fill="#c8c129"/>
<rect x="373.23" y="427.27" width="7.75" height="6.84" fill="#34c79c"/>
<rect x="380.38" y="427.27" width="14.89" height="6.84" fill="#5ccc76"/>
<rect x="394.67" y="427.27" width="64.92" height="6.84" fill="#34c79c"/>
<rect x="459.00" y="427.27" width="14.89" height="6.84" fill="#5ccc76"/>
<rect x="473.29" y="427.27" width="14.89" height="6.84" fill="#34c79c"/>
<rect x="487.59" y="427.27" width="29.19" height="6.84" fill="#12beb9"/>
<rect x="516.17" y="427.27" width="7.75" height="6.84" fill="#34c79c"/>
<rect x="523.32" y="427.27" width="14.89" height="6.84" fill="#12beb9"/>
<rect x="537.62" y="427.27" width="7.75" height="6.84" fill="#34c79c"/>
<rect x="544.76" y="427.27" width="14.89" height="6.84" fill="#12beb9"/>
<rect x="559.06" y="427.27" width="7.75" height="6.84" fill="#0cb3d3"/>
<rect x="566.21" y="427.27" width="7.75" height="6.84" fill="#2c90f0"/>
<rect x="573.35" y="427.27" width="7.15" height="6.84" fill="#347afd"/>
<rect x="65.90" y="433.51" width="22.04" height="6.84" fill="#12beb9"/>
<rect x="87.34" y="433.51" width="22.04" height="6.84" fill="#0cb3d3"/>
<rect x="108.78" y="433.51" width="14.89" height="6.84" fill="#12beb9"/>
<rect x="123.08" y="433.51" width="7.75" height="6.84" fill="#0cb3d3"/>
<rect x="130.23" y="433.51" width="7.75" height="6.84" fill="#5ccc76"/>
<rect x="137.37" y="433.51" width="7.75" height="6.84" fill="#34c79c"/>
<rect x="144.52" y="433.51" width="14.89" height="6.84" fill="#12beb9"/>
<rect x="158.81" y="433.51" width="43.48" height="6.84" fill="#0cb3d3"/>
<rect x="201.70" y="433.51" width="57.78" height="6.84" fill="#12beb9"/>
<rect x="258.88" y="433.51" width="14.89" height="6.84" fill="#34c79c"/>
<rect x="273.17" y="433.51" width="7.75" height="6.84" fill="#5ccc76"/>
<rect x="280.32" y="433.51" width="29.19" height="6.84" fill="#f1ba37"/>
<rect x="308.91" y="433.51" width="14.89" height="6.84" fill="#94ca4a"/>
<rect x="323.20" y="433.51" width="7.75" height="6.84" fill="#c8c129"/>
<rect x="330.35" y="433.51" width="14.89" height="6.84" fill="#94ca4a"/>
<rect x="344.64" y="433.51" width="7.75" height="6.84" fill="#c8c129"/>
<rect x="351.79" y="433.51" width="7.75" height="6.84" fill="#f1ba37"/>
<rect x="358.94" y="433.51" width="7.75" height="6.84" fill="#feca33"/>
<rect x="366.08" y="433.51" width="7.75" height="6.84" fill="#c8c129"/>
<rect x="373.23" y="433.51" width="22.04" height="6.84" fill="#5ccc76"/>
<rect x="394.67" y="433.51" width="36.34" height="6.84" fill="#34c79c"/>
<rect x="430.41" y="433.51" width="14.89" height="6.84" fill="#12beb9"/>
<rect x="444.70" y="433.51" width="7.75" height="6.84" fill="#34c79c"/>
<rect x="451.85" y="433.51" width="7.75" height="6.84" fill="#5ccc76"/>
<rect x="459.00" y="433.51" width="14.89" height="6.84" fill="#94ca4a"/>
<rect x="473.29" y="433.51" width="7.75" height="6.84" fill="#5ccc76"/>
<rect x="480.44" y="433.51" width="7.75" height="6.84" fill="#34c79c"/>
<rect x="487.59" y="433.51" width="50.63" height="6.84" fill="#12beb9"/>
<rect x="537.62" y="433.51" width="7.75" height="6.84" fill="#34c79c"/>
<rect x="544.76" y="433.51" width="14.89" height="6.84" fill="#12beb9"/>
<rect x="559.06" y="433.51" width="7.75" height="6.84" fill="#0cb3d3"/>
<rect x="566.21" y="433.51" width="14.29" height="6.84" fill="#21a3e3"/>
<rect x="65.90" y="439.75" width="7.75" height="6.84" fill="#5ccc76"/>
<rect x="73.05" y="439.75" width="7.75" height="6.84" fill="#34c79c"/>
<rect x="80.19" y="439.75" width="22.04" height="6.84" fill="#12beb9"/>
<rect x="101.64" y="439.75" width="14.89" height="6.84" fill="#34c79c"/>
<rect x="115.93" y="439.75" width="7.75" height="6.84" fill="#12beb9"/>
<rect x="123.08" y="439.75" width="7.75" height="6.84" fill="#0cb3d3"/>
<rect x="130.23" y="439.75" width="14.89" height="6.84" fill="#34c79c"/>
<rect x="144.52" y="439.75" width="7.75" height="6.84" fill="#5ccc76"/>
<rect x="151.67" y="439.75" width="57.78" height="6.84" fill="#0cb3d3"/>
<rect x="208.84" y="439.75" width="36.34" height="6.84" fill="#12beb9"/>
<rect x="244.58" y="439.75" width="22.04" height="6.84" fill="#34c79c"/>
<rect x="266.02" y="439.75" width="7.75" height="6.84" fill="#5ccc76"/>
<rect x="273.17" y="439.75" width="7.75" height="6.84" fill="#94ca4a"/>
<rect x="280.32" y="439.75" width="14.89" height="6.84" fill="#f1ba37"/>
<rect x="294.61" y="439.75" width="14.89" height="6.84" fill="#c8c129"/>
<rect x="308.91" y="439.75" width="7.75" height="6.84" fill="#94ca4a"/>
<rect x="316.05" y="439.75" width="36.34" height="6.84" fill="#c8c129"/>
<rect x="351.79" y="439.75" width="7.75" height="6.84" fill="#f1ba37"/>
<rect x="358.94" y="439.75" width="7.75" height="6.84" fill="#feca33"/>
<rect x="366.08" y="439.75" width="7.75" height="6.84" fill="#c8c129"/>
<rect x="373.23" y="439.75" width="7.75" height="6.84" fill="#34c79c"/>
<rect x="380.38" y="439.75" width="14.89" height="6.84" fill="#5ccc76"/>
<rect x="394.67" y="439.75" width="50.63" height="6.84" fill="#34c79c"/>
<rect x="444.70" y="439.75" width="14.89" height="6.84" fill="#5ccc76"/>
<rect x="459.00" y="439.75" width="14.89" height="6.84" fill="#c8c129"/>
<rect x="473.29" y="439.75" width="7.75" height="6.84" fill="#5ccc76"/>
<rect x="480.44" y="439.75" width="14.89" height="6.84" fill="#34c79c"/>
<rect x="494.73" y="439.75" width="7.75" height="6.84" fill="#12beb9"/>
<rect x="501.88" y="439.75" width="14.89" height="6.84" fill="#34c79c"/>
<rect x="516.17" y="439.75" width="7.75" height="6.84" fill="#12beb9"/>
<rect x="523.32" y="439.75" width="22.04" height="6.84" fill="#34c79c"/>
<rect x="544.76" y="439.75" width="29.19" height="6.84" fill="#12beb9"/>
<rect x="573.35" y="439.75" width="7.15" height="6.84" fill="#0cb3d3"/>
<rect x="65.90" y="445.99" width="14.89" height="6.84" fill="#34c79c"/>
<rect x="80.19" y="445.99" width="14.89" height="6.84" fill="#0cb3d3"/>
<rect x="94.49" y="445.99" width="7.75" height="6.84" fill="#12beb9"/>
<rect x="101.64" y="445.99" width="7.75" height="6.84" fill="#34c79c"/>
<rect x="108.78" y="445.99" width="14.89" height="6.84" fill="#12beb9"/>
<rect x="123.08" y="445.99" width="7.75" height="6.84" fill="#0cb3d3"/>
<rect x="130.23" y="445.99" width="22.04" height="6.84" fill="#34c79c"/>
<rect x="151.67" y="445.99" width="7.75" height="6.84" fill="#12beb9"/>
<rect x="158.81" y="445.99" width="14.89" height="6.84" fill="#0cb3d3"/>
<rect x="173.11" y="445.99" width="22.04" height="6.84" fill="#21a3e3"/>
<rect x="194.55" y="445.99" width="36.34" height="6.84" fill="#0cb3d3"/>
<rect x="230.29" y="445.99" width="7.75" height="6.84" fill="#12beb9"/>
<rect x="237.43" y="445.99" width="14.89" height="6.84" fill="#34c79c"/>
<rect x="251.73" y="445.99" width="7.75" height="6.84" fill="#5ccc76"/>
<rect x="258.88" y="445.99" width="7.75" height="6.84" fill="#34c79c"/>
<rect x="266.02" y="445.99" width="7.75" height="6.84" fill="#5ccc76"/>
<rect x="273.17" y="445.99" width="7.75" height="6.84" fill="#c8c129"/>
<rect x="280.32" y="445.99" width="14.89" height="6.84" fill="#feca33"/>
<rect x="294.61" y="445.99" width="14.89" height="6.84" fill="#f1ba37"/>
<rect x="308.91" y="445.99" width="7.75" height="6.84" fill="#94ca4a"/>
<rect x="316.05" y="445.99" width="7.75" height="6.84" fill="#c8c129"/>
<rect x="323.20" y="445.99" width="14.89" height="6.84" fill="#f1ba37"/>
<rect x="337.49" y="445.99" width="14.89" height="6.84" fill="#c8c129"/>
<rect x="351.79" y="445.99" width="7.75" height="6.84" fill="#f1ba37"/>
<rect x="358.94" y="445.99" width="7.75" height="6.84" fill="#feca33"/>
<rect x="366.08" y="445.99" width="7.75" height="6.84" fill="#c8c129"/>
<rect x="373.23" y="445.99" width="29.19" height="6.84" fill="#5ccc76"/>
<rect x="401.82" y="445.99" width="14.89" height="6.84" fill="#12beb9"/>
<rect x="416.11" y="445.99" width="36.34" height="6.84" fill="#34c79c"/>
<rect x="451.85" y="445.99" width="7.75" height="6.84" fill="#5ccc76"/>
<rect x="459.00" y="445.99" width="14.89" height="6.84" fill="#c8c129"/>
<rect x="473.29" y="445.99" width="7.75" height="6.84" fill="#5ccc76"/>
<rect x="480.44" y="445.99" width="14.89" height="6.84" fill="#34c79c"/>
<rect x="494.73" y="445.99" width="7.75" height="6.84" fill="#12beb9"/>
<rect x="501.88" y="445.99" width="14.89" height="6.84" fill="#34c79c"/>
<rect x="516.17" y="445.99" width="7.75" height="6.84" fill="#12beb9"/>
<rect x="523.32" y="445.99" width="14.89" height="6.84" fill="#34c79c"/>
<rect x="537.62" y="445.99" width="14.89" height="6.84" fill="#5ccc76"/>
<rect x="551.91" y="445.99" width="7.75" height="6.84" fill="#34c79c"/>
<rect x="559.06" y="445.99" width="14.89" height="6.84" fill="#12beb9"/>
<rect x="573.35" y="445.99" width="7.15" height="6.84" fill="#0cb3d3"/>
<rect x="65.90" y="452.23" width="7.75" height="6.84" fill="#34c79c"/>
<rect x="73.05" y="452.23" width="7.75" height="6.84" fill="#12beb9"/>
<rect x="80.19" y="452.23" width="14.89" height="6.84" fill="#0cb3d3"/>
<rect x="94.49" y="452.23" width="14.89" height="6.84" fill="#34c79c"/>
<rect x="108.78" y="452.23" width="14.89" height="6.84" fill="#12beb9"/>
<rect x="123.08" y="452.23" width="7.75" height="6.84" fill="#0cb3d3"/>
<rect x="130.23" y="452.23" width="7.75" height="6.84" fill="#12beb9"/>
<rect x="137.37" y="452.23" width="7.75" height="6.84" fill="#34c79c"/>
<rect x="144.52" y="452.23" width="7.75" height="6.84" fill="#12beb9"/>
<rect x="151.67" y="452.23" width="22.04" height="6.84" fill="#0cb3d3"/>
<rect x="173.11" y="452.23" width="29.19" height="6.84" fill="#21a3e3"/>
<rect x="201.70" y="452.23" width="29.19" height="6.84" fill="#0cb3d3"/>
<rect x="230.29" y="452.23" width="7.75" height="6.84" fill="#12beb9"/>
<rect x="237.43" y="452.23" width="7.75" height="6.84" fill="#34c79c"/>
<rect x="244.58" y="452.23" width="7.75" height="6.84" fill="#94ca4a"/>
<rect x="251.73" y="452.23" width="7.75" height="6.84" fill="#5ccc76"/>
<rect x="258.88" y="452.23" width="7.75" height="6.84" fill="#34c79c"/>
<rect x="266.02" y="452.23" width="7.75" height="6.84" fill="#5ccc76"/>
<rect x="273.17" y="452.23" width="7.75" height="6.84" fill="#c8c129"/>
<rect x="280.32" y="452.23" width="14.89" height="6.84" fill="#f5e327"/>
<rect x="294.61" y="452.23" width="7.75" height="6.84" fill="#f1ba37"/>
<rect x="301.76" y="452.23" width="14.89" height="6.84" fill="#c8c129"/>
<rect x="316.05" y="452.23" width="22.04" height="6.84" fill="#f1ba37"/>
<rect x="337.49" y="452.23" width="14.89" height="6.84" fill="#c8c129"/>
<rect x="351.79" y="452.23" width="7.75" height="6.84" fill="#f1ba37"/>
<rect x="358.94" y="452.23" width="7.75" height="6.84" fill="#feca33"/>
<rect x="366.08" y="452.23" width="7.75" height="6.84" fill="#c8c129"/>
<rect x="373.23" y="452.23" width="14.89" height="6.84" fill="#5ccc76"/>
<rect x="387.52" y="452.23" width="7.75" height="6.84" fill="#94ca4a"/>
<rect x="394.67" y="452.23" width="7.75" height="6.84" fill="#5ccc76"/>
<rect x="401.82" y="452.23" width="7.75" height="6.84" fill="#34c79c"/>
<rect x="408.97" y="452.23" width="7.75" height="6.84" fill="#12beb9"/>
<rect x="416.11" y="452.23" width="36.34" height="6.84" fill="#34c79c"/>
<rect x="451.85" y="452.23" width="7.75" height="6.84" fill="#5ccc76"/>
<rect x="459.00" y="452.23" width="14.89" height="6.84" fill="#94ca4a"/>
<rect x="473.29" y="452.23" width="7.75" height="6.84" fill="#5ccc76"/>
<rect x="480.44" y="452.23" width="7.75" height="6.84" fill="#34c79c"/>
<rect x="487.59" y="452.23" width="14.89" height="6.84" fill="#12beb9"/>
<rect x="501.88" y="452.23" width="14.89" height="6.84" fill="#34c79c"/>
<rect x="516.17" y="452.23" width="14.89" height="6.84" fill="#12beb9"/>
<rect x="530.47" y="452.23" width="7.75" height="6.84" fill="#34c79c"/>
<rect x="537.62" y="452.23" width="14.89" height="6.84" fill="#5ccc76"/>
<rect x="551.91" y="452.23" width="7.75" height="6.84" fill="#34c79c"/>
<rect x="559.06" y="452.23" width="7.75" height="6.84" fill="#12beb9"/>
<rect x="566.21" y="452.23" width="14.29" height="6.84" fill="#0cb3d3"/>
<rect x="65.90" y="458.47" width="14.89" height="6.84" fill="#12beb9"/>
<rect x="80.19" y="458.47" width="14.89" height="6.84" fill="#0cb3d3"/>
<rect x="94.49" y="458.47" width="14.89" height="6.84" fill="#34c79c"/>
<rect x="108.78" y="458.47" width="7.75" height="6.84" fill="#12beb9"/>
<rect x="115.93" y="458.47" width="14.89" height="6.84" fill="#0cb3d3"/>
<rect x="130.23" y="458.47" width="14.89" height="6.84" fill="#12beb9"/>
<rect x="144.52" y="458.47" width="14.89" height="6.84" fill="#0cb3d3"/>
<rect x="158.81" y="458.47" width="43.48" height="6.84" fill="#21a3e3"/>
<rect x="201.70" y="458.47" width="29.19" height="6.84" fill="#0cb3d3"/>
<rect x="230.29" y="458.47" width="7.75" height="6.84" fill="#12beb9"/>
<rect x="237.43" y="458.47" width="7.75" height="6.84" fill="#34c79c"/>
<rect x="244.58" y="458.47" width="7.75" height="6.84" fill="#94ca4a"/>
<rect x="251.73" y="458.47" width="7.75" height="6.84" fill="#5ccc76"/>
<rect x="258.88" y="458.47" width="7.75" height="6.84" fill="#34c79c"/>
<rect x="266.02" y="458.47" width="7.75" height="6.84" fill="#5ccc76"/>
<rect x="273.17" y="458.47" width="7.75" height="6.84" fill="#f1ba37"/>
<rect x="280.32" y="458.47" width="7.75" height="6.84" fill="#f5e327"/>
<rect x="287.46" y="458.47" width="7.75" height="6.84" fill="#f9fb15"/>
<rect x="294.61" y="458.47" width="7.75" height="6.84" fill="#f1ba37"/>
<rect x="301.76" y="458.47" width="7.75" height="6.84" fill="#c8c129"/>
<rect x="308.91" y="458.47" width="7.75" height="6.84" fill="#94ca4a"/>
<rect x="316.05" y="458.47" width="7.75" height="6.84" fill="#f1ba37"/>
<rect x="323.20" y="458.47" width="7.75" height="6.84" fill="#feca33"/>
<rect x="330.35" y="458.47" width="7.75" height="6.84" fill="#f1ba37"/>
<rect x="337.49" y="458.47" width="7.75" height="6.84" fill="#c8c129"/>
<rect x="344.64" y="458.47" width="7.75" height="6.84" fill="#94ca4a"/>
<rect x="351.79" y="458.47" width="14.89" height="6.84" fill="#5ccc76"/>
<rect x="366.08" y="458.47" width="7.75" height="6.84" fill="#c8c129"/>
<rect x="373.23" y="458.47" width="22.04" height="6.84" fill="#5ccc76"/>
<rect x="394.67" y="458.47" width="14.89" height="6.84" fill="#34c79c"/>
<rect x="408.97" y="458.47" width="7.75" height="6.84" fill="#12beb9"/>
<rect x="416.11" y="458.47" width="7.75" height="6.84" fill="#94ca4a"/>
<rect x="423.26" y="458.47" width="22.04" height="6.84" fill="#34c79c"/>
<rect x="444.70" y="458.47" width="7.75" height="6.84" fill="#12beb9"/>
<rect x="451.85" y="458.47" width="7.75" height="6.84" fill="#34c79c"/>
<rect x="459.00" y="458.47" width="7.75" height="6.84" fill="#94ca4a"/>
<rect x="466.14" y="458.47" width="7.75" height="6.84" fill="#5ccc76"/>
<rect x="473.29" y="458.47" width="7.75" height="6.84" fill="#94ca4a"/>
<rect x="480.44" y="458.47" width="7.75" height="6.84" fill="#34c79c"/>
<rect x="487.59" y="458.47" width="7.75" height="6.84" fill="#12beb9"/>
<rect x="494.73" y="458.47" width="7.75" height="6.84" fill="#0cb3d3"/>
<rect x="501.88" y="458.47" width="14.89" height="6.84" fill="#34c79c"/>
<rect x="516.17" y="458.47" width="14.89" height="6.84" fill="#12beb9"/>
<rect x="530.47" y="458.47" width="7.75" height="6.84" fill="#34c79c"/>
<rect x="537.62" y="458.47" width="14.89" height="6.84" fill="#5ccc76"/>
<rect x="551.91" y="458.47" width="7.75" height="6.84" fill="#34c79c"/>
<rect x="559.06" y="458.47" width="7.75" height="6.84" fill="#12beb9"/>
<rect x="566.21" y="458.47" width="14.29" height="6.84" fill="#21a3e3"/>
<rect x="65.90" y="464.72" width="7.75" height="6.84" fill="#34c79c"/>
<rect x="73.05" y="464.72" width="7.75" height="6.84" fill="#12beb9"/>
<rect x="80.19" y="464.72" width="7.75" height="6.84" fill="#0cb3d3"/>
<rect x="87.34" y="464.72" width="7.75" height="6.84" fill="#12beb9"/>
<rect x="94.49" y="464.72" width="7.75" height="6.84" fill="#34c79c"/>
<rect x="101.64" y="464.72" width="7.75" height="6.84" fill="#5ccc76"/>
<rect x="108.78" y="464.72" width="7.75" height="6.84" fill="#12beb9"/>
<rect x="115.93" y="464.72" width="22.04" height="6.84" fill="#0cb3d3"/>
<rect x="137.37" y="464.72" width="14.89" height="6.84" fill="#12beb9"/>
<rect x="151.67" y="464.72" width="7.75" height="6.84" fill="#0cb3d3"/>
<rect x="158.81" y="464.72" width="22.04" height="6.84" fill="#21a3e3"/>
<rect x="180.26" y="464.72" width="14.89" height="6.84" fill="#2c90f0"/>
<rect x="194.55" y="464.72" width="22.04" height="6.84" fill="#21a3e3"/>
<rect x="215.99" y="464.72" width="22.04" height="6.84" fill="#0cb3d3"/>
<rect x="237.43" y="464.72" width="22.04" height="6.84" fill="#34c79c"/>
<rect x="258.88" y="464.72" width="7.75" height="6.84" fill="#94ca4a"/>
<rect x="266.02" y="464.72" width="14.89" height="6.84" fill="#feca33"/>
<rect x="280.32" y="464.72" width="14.89" height="6.84" fill="#f9fb15"/>
<rect x="294.61" y="464.72" width="7.75" height="6.84" fill="#feca33"/>
<rect x="301.76" y="464.72" width="7.75" height="6.84" fill="#f1ba37"/>
<rect x="308.91" y="464.72" width="7.75" height="6.84" fill="#c8c129"/>
<rect x="316.05" y="464.72" width="7.75" height="6.84" fill="#f1ba37"/>
<rect x="323.20" y="464.72" width="14.89" height="6.84" fill="#feca33"/>
<rect x="337.49" y="464.72" width="7.75" height="6.84" fill="#94ca4a"/>
<rect x="344.64" y="464.72" width="14.89" height="6.84" fill="#12beb9"/>
<rect x="358.94" y="464.72" width="7.75" height="6.84" fill="#34c79c"/>
<rect x="366.08" y="464.72" width="7.75" height="6.84" fill="#94ca4a"/>
<rect x="373.23" y="464.72" width="14.89" height="6.84" fill="#12beb9"/>
<rect x="387.52" y="464.72" width="50.63" height="6.84" fill="#34c79c"/>
<rect x="437.56" y="464.72" width="14.89" height="6.84" fill="#0cb3d3"/>
<rect x="451.85" y="464.72" width="22.04" height="6.84" fill="#12beb9"/>
<rect x="473.29" y="464.72" width="7.75" height="6.84" fill="#5ccc76"/>
<rect x="480.44" y="464.72" width="29.19" height="6.84" fill="#34c79c"/>
<rect x="509.03" y="464.72" width="22.04" height="6.84" fill="#12beb9"/>
<rect x="530.47" y="464.72" width="14.89" height="6.84" fill="#34c79c"/>
<rect x="544.76" y="464.72" width="7.75" height="6.84" fill="#5ccc76"/>
<rect x="551.91" y="464.72" width="7.75" height="6.84" fill="#34c79c"/>
<rect x="559.06" y="464.72" width="7.75" height="6.84" fill="#12beb9"/>
<rect x="566.21" y="464.72" width="7.75" height="6.84" fill="#21a3e3"/>
<rect x="573.35" y="464.72" width="7.15" height="6.84" fill="#0cb3d3"/>
<rect x="65.90" y="470.96" width="50.63" height="6.84" fill="#12beb9"/>
<rect x="115.93" y="470.96" width="14.89" height="6.84" fill="#0cb3d3"/>
<rect x="130.23" y="470.96" width="7.75" height="6.84" fill="#21a3e3"/>
<rect x="137.37" y="470.96" width="14.89" height="6.84" fill="#12beb9"/>
<rect x="151.67" y="470.96" width="7.75" height="6.84" fill="#0cb3d3"/>
<rect x="158.81" y="470.96" width="7.75" height="6.84" fill="#21a3e3"/>
<rect x="165.96" y="470.96" width="43.48" height="6.84" fill="#2c90f0"/>
<rect x="208.84" y="470.96" width="22.04" height="6.84" fill="#21a3e3"/>
<rect x="230.29" y="470.96" width="7.75" height="6.24" fill="#21a3e3"/>
<rect x="237.43" y="470.96" width="7.75" height="6.84" fill="#0cb3d3"/>
<rect x="244.58" y="470.96" width="7.75" height="6.84" fill="#12beb9"/>
<rect x="251.73" y="470.96" width="7.75" height="6.84" fill="#34c79c"/>
<rect x="258.88" y="470.96" width="7.75" height="6.84" fill="#c8c129"/>
<rect x="266.02" y="470.96" width="7.75" height="6.84" fill="#feca33"/>
<rect x="273.17" y="470.96" width="22.04" height="6.84" fill="#f9fb15"/>
<rect x="294.61" y="470.96" width="7.75" height="6.84" fill="#feca33"/>
<rect x="301.76" y="470.96" width="36.34" height="6.84" fill="#f1ba37"/>
<rect x="337.49" y="470.96" width="7.75" height="6.84" fill="#94ca4a"/>
<rect x="344.64" y="470.96" width="7.75" height="6.84" fill="#12beb9"/>
<rect x="351.79" y="470.96" width="14.89" height="6.84" fill="#0cb3d3"/>
<rect x="366.08" y="470.96" width="7.75" height="6.84" fill="#12beb9"/>
<rect x="373.23" y="470.96" width="14.89" height="6.84" fill="#0cb3d3"/>
<rect x="387.52" y="470.96" width="36.34" height="6.84" fill="#12beb9"/>
<rect x="423.26" y="470.96" width="7.75" height="6.84" fill="#34c79c"/>
<rect x="430.41" y="470.96" width="7.75" height="6.84" fill="#12beb9"/>
<rect x="437.56" y="470.96" width="14.89" height="6.84" fill="#0cb3d3"/>
<rect x="451.85" y="470.96" width="14.89" height="6.84" fill="#34c79c"/>
<rect x="466.14" y="470.96" width="7.75" height="6.84" fill="#5ccc76"/>
<rect x="473.29" y="470.96" width="7.75" height="6.84" fill="#94ca4a"/>
<rect x="480.44" y="470.96" width="36.34" height="6.84" fill="#34c79c"/>
<rect x="516.17" y="470.96" width="14.89" height="6.84" fill="#12beb9"/>
<rect x="530.47" y="470.96" width="29.19" height="6.84" fill="#34c79c"/>
<rect x="559.06" y="470.96" width="7.75" height="6.84" fill="#12beb9"/>
<rect x="566.21" y="470.96" width="14.29" height="6.84" fill="#0cb3d3"/>
<rect x="65.90" y="477.20" width="7.75" height="6.84" fill="#0cb3d3"/>
<rect x="73.05" y="477.20" width="7.75" height="6.84" fill="#12beb9"/>
<rect x="80.19" y="477.20" width="22.04" height="6.84" fill="#0cb3d3"/>
<rect x="101.64" y="477.20" width="14.89" height="6.84" fill="#12beb9"/>
<rect x="115.93" y="477.20" width="14.89" height="6.84" fill="#0cb3d3"/>
<rect x="130.23" y="477.20" width="7.75" height="6.84" fill="#21a3e3"/>
<rect x="137.37" y="477.20" width="29.19" height="6.84" fill="#0cb3d3"/>
<rect x="165.96" y="477.20" width="14.89" height="6.84" fill="#21a3e3"/>
<rect x="180.26" y="477.20" width="7.75" height="6.84" fill="#2c90f0"/>
<rect x="187.40" y="477.20" width="42.88" height="6.84" fill="#347afd"/>
<rect x="237.43" y="477.20" width="14.89" height="6.24" fill="#12beb9"/>
<rect x="251.73" y="477.20" width="7.75" height="6.84" fill="#12beb9"/>
<rect x="258.88" y="477.20" width="7.75" height="6.84" fill="#5ccc76"/>
<rect x="266.02" y="477.20" width="7.75" height="6.84" fill="#c8c129"/>
<rect x="273.17" y="477.20" width="7.75" height="6.84" fill="#feca33"/>
<rect x="280.32" y="477.20" width="7.75" height="6.84" fill="#f5e327"/>
<rect x="287.46" y="477.20" width="7.75" height="6.84" fill="#f9fb15"/>
<rect x="294.61" y="477.20" width="7.75" height="6.84" fill="#f5e327"/>
<rect x="301.76" y="477.20" width="7.75" height="6.84" fill="#feca33"/>
<rect x="308.91" y="477.20" width="7.75" height="6.84" fill="#f1ba37"/>
<rect x="316.05" y="477.20" width="7.75" height="6.84" fill="#feca33"/>
<rect x="323.20" y="477.20" width="14.89" height="6.84" fill="#f1ba37"/>
<rect x="337.49" y="477.20" width="7.75" height="6.84" fill="#5ccc76"/>
<rect x="344.64" y="477.20" width="7.75" height="6.84" fill="#12beb9"/>
<rect x="351.79" y="477.20" width="14.89" height="6.84" fill="#21a3e3"/>
<rect x="366.08" y="477.20" width="7.75" height="6.84" fill="#0cb3d3"/>
<rect x="373.23" y="477.20" width="7.75" height="6.24" fill="#0cb3d3"/>
<rect x="380.38" y="477.20" width="7.75" height="6.84" fill="#21a3e3"/>
<rect x="387.52" y="477.20" width="14.89" height="6.84" fill="#0cb3d3"/>
<rect x="401.82" y="477.20" width="29.19" height="6.84" fill="#12beb9"/>
<rect x="430.41" y="477.20" width="7.75" height="6.84" fill="#34c79c"/>
<rect x="437.56" y="477.20" width="7.75" height="6.84" fill="#12beb9"/>
<rect x="444.70" y="477.20" width="7.75" height="6.84" fill="#34c79c"/>
<rect x="451.85" y="477.20" width="7.75" height="6.84" fill="#5ccc76"/>
<rect x="459.00" y="477.20" width="7.75" height="6.84" fill="#c8c129"/>
<rect x="466.14" y="477.20" width="14.89" height="6.84" fill="#5ccc76"/>
<rect x="480.44" y="477.20" width="36.34" height="6.84" fill="#34c79c"/>
<rect x="516.17" y="477.20" width="7.75" height="6.84" fill="#12beb9"/>
<rect x="523.32" y="477.20" width="14.89" height="6.84" fill="#34c79c"/>
<rect x="537.62" y="477.20" width="7.75" height="6.84" fill="#5ccc76"/>
<rect x="544.76" y="477.20" width="14.89" height="6.84" fill="#34c79c"/>
<rect x="559.06" y="477.20" width="7.75" height="6.84" fill="#12beb9"/>
<rect x="566.21" y="477.20" width="7.75" height="6.84" fill="#0cb3d3"/>
<rect x="573.35" y="477.20" width="7.15" height="6.24" fill="#12beb9"/>
<rect x="65.90" y="483.44" width="22.04" height="6.84" fill="#0cb3d3"/>
<rect x="87.34" y="483.44" width="43.48" height="6.84" fill="#12beb9"/>
<rect x="130.23" y="483.44" width="36.34" height="6.84" fill="#0cb3d3"/>
<rect x="165.96" y="483.44" width="7.75" height="6.24" fill="#0cb3d3"/>
<rect x="173.11" y="483.44" width="7.75" height="6.24" fill="#2c90f0"/>
<rect x="180.26" y="483.44" width="7.75" height="6.24" fill="#347afd"/>
<rect x="187.40" y="483.44" width="14.89" height="6.24" fill="#4562fc"/>
<rect x="201.70" y="483.44" width="7.75" height="6.24" fill="#347afd"/>
<rect x="208.84" y="483.44" width="7.75" height="6.24" fill="#4562fc"/>
<rect x="215.99" y="483.44" width="7.75" height="6.24" fill="#484cef"/>
<rect x="223.14" y="483.44" width="7.75" height="6.24" fill="#347afd"/>
<rect x="230.29" y="483.44" width="7.15" height="6.24" fill="#21a3e3"/>
<rect x="251.73" y="483.44" width="7.75" height="6.24" fill="#12beb9"/>
<rect x="258.88" y="483.44" width="7.75" height="6.24" fill="#34c79c"/>
<rect x="266.02" y="483.44" width="7.75" height="6.84" fill="#c8c129"/>
<rect x="273.17" y="483.44" width="7.75" height="6.84" fill="#f1ba37"/>
<rect x="280.32" y="483.44" width="7.75" height="6.84" fill="#feca33"/>
<rect x="287.46" y="483.44" width="7.75" height="6.84" fill="#f5e327"/>
<rect x="294.61" y="483.44" width="14.89" height="6.84" fill="#feca33"/>
<rect x="308.91" y="483.44" width="7.75" height="6.84" fill="#f1ba37"/>
<rect x="316.05" y="483.44" width="7.75" height="6.84" fill="#c8c129"/>
<rect x="323.20" y="483.44" width="7.75" height="6.84" fill="#f1ba37"/>
<rect x="330.35" y="483.44" width="7.75" height="6.84" fill="#c8c129"/>
<rect x="337.49" y="483.44" width="7.75" height="6.84" fill="#5ccc76"/>
<rect x="344.64" y="483.44" width="7.75" height="6.84" fill="#34c79c"/>
<rect x="351.79" y="483.44" width="14.89" height="6.84" fill="#0cb3d3"/>
<rect x="366.08" y="483.44" width="7.15" height="6.84" fill="#12beb9"/>
<rect x="380.38" y="483.44" width="7.75" height="6.84" fill="#0cb3d3"/>
<rect x="387.52" y="483.44" width="14.89" height="6.84" fill="#21a3e3"/>
<rect x="401.82" y="483.44" width="29.19" height="6.84" fill="#0cb3d3"/>
<rect x="430.41" y="483.44" width="14.89" height="6.84" fill="#12beb9"/>
<rect x="444.70" y="483.44" width="14.89" height="6.84" fill="#34c79c"/>
<rect x="459.00" y="483.44" width="22.04" height="6.84" fill="#5ccc76"/>
<rect x="480.44" y="483.44" width="36.34" height="6.84" fill="#34c79c"/>
<rect x="516.17" y="483.44" width="7.75" height="6.84" fill="#12beb9"/>
<rect x="523.32" y="483.44" width="36.34" height="6.84" fill="#34c79c"/>
<rect x="559.06" y="483.44" width="7.75" height="6.84" fill="#12beb9"/>
<rect x="566.21" y="483.44" width="7.15" height="6.84" fill="#94ca4a"/>
<rect x="65.90" y="489.68" width="29.19" height="6.84" fill="#0cb3d3"/>
<rect x="94.49" y="489.68" width="14.89" height="6.84" fill="#12beb9"/>
<rect x="108.78" y="489.68" width="14.89" height="6.84" fill="#34c79c"/>
<rect x="123.08" y="489.68" width="7.75" height="6.84" fill="#12beb9"/>
<rect x="130.23" y="489.68" width="14.89" height="6.84" fill="#0cb3d3"/>
<rect x="144.52" y="489.68" width="21.44" height="6.24" fill="#12beb9"/>
<rect x="266.02" y="489.68" width="7.75" height="6.24" fill="#5ccc76"/>
<rect x="273.17" y="489.68" width="7.75" height="6.24" fill="#c8c129"/>
<rect x="280.32" y="489.68" width="7.75" height="6.24" fill="#0cb3d3"/>
<rect x="287.46" y="489.68" width="7.75" height="6.84" fill="#feca33"/>
<rect x="294.61" y="489.68" width="7.75" height="6.84" fill="#f5e327"/>
<rect x="301.76" y="489.68" width="7.75" height="6.84" fill="#feca33"/>
<rect x="308.91" y="489.68" width="7.75" height="6.84" fill="#c8c129"/>
<rect x="316.05" y="489.68" width="7.75" height="6.84" fill="#5ccc76"/>
<rect x="323.20" y="489.68" width="7.75" height="6.84" fill="#c8c129"/>
<rect x="330.35" y="489.68" width="7.75" height="6.84" fill="#94ca4a"/>
<rect x="337.49" y="489.68" width="7.75" height="6.84" fill="#5ccc76"/>
<rect x="344.64" y="489.68" width="7.75" height="6.84" fill="#34c79c"/>
<rect x="351.79" y="489.68" width="7.75" height="6.84" fill="#0cb3d3"/>
<rect x="358.94" y="489.68" width="7.75" height="6.84" fill="#21a3e3"/>
<rect x="366.08" y="489.68" width="7.75" height="6.84" fill="#0cb3d3"/>
<rect x="373.23" y="489.68" width="7.75" height="6.24" fill="#0cb3d3"/>
<rect x="380.38" y="489.68" width="7.75" height="6.84" fill="#0cb3d3"/>
<rect x="387.52" y="489.68" width="7.75" height="6.24" fill="#21a3e3"/>
<rect x="394.67" y="489.68" width="14.89" height="6.84" fill="#2c90f0"/>
<rect x="408.97" y="489.68" width="7.75" height="6.84" fill="#21a3e3"/>
<rect x="416.11" y="489.68" width="14.89" height="6.84" fill="#0cb3d3"/>
<rect x="430.41" y="489.68" width="14.89" height="6.84" fill="#21a3e3"/>
<rect x="444.70" y="489.68" width="7.75" height="6.84" fill="#12beb9"/>
<rect x="451.85" y="489.68" width="7.75" height="6.84" fill="#34c79c"/>
<rect x="459.00" y="489.68" width="7.75" height="6.84" fill="#94ca4a"/>
<rect x="466.14" y="489.68" width="22.04" height="6.84" fill="#5ccc76"/>
<rect x="487.59" y="489.68" width="29.19" height="6.84" fill="#34c79c"/>
<rect x="516.17" y="489.68" width="14.89" height="6.84" fill="#12beb9"/>
<rect x="530.47" y="489.68" width="14.89" height="6.84" fill="#34c79c"/>
<rect x="544.76" y="489.68" width="7.75" height="6.84" fill="#5ccc76"/>
<rect x="551.91" y="489.68" width="7.75" height="6.84" fill="#34c79c"/>
<rect x="559.06" y="489.68" width="7.75" height="6.84" fill="#12beb9"/>
<rect x="566.21" y="489.68" width="7.75" height="6.84" fill="#0cb3d3"/>
<rect x="573.35" y="489.68" width="7.15" height="6.84" fill="#12beb9"/>
<rect x="65.90" y="495.92" width="7.75" height="6.84" fill="#21a3e3"/>
<rect x="73.05" y="495.92" width="22.04" height="6.84" fill="#0cb3d3"/>
<rect x="94.49" y="495.92" width="7.75" height="6.84" fill="#12beb9"/>
<rect x="101.64" y="495.92" width="7.75" height="6.84" fill="#34c79c"/>
<rect x="108.78" y="495.92" width="7.75" height="6.84" fill="#5ccc76"/>
<rect x="115.93" y="495.92" width="7.75" height="6.84" fill="#34c79c"/>
<rect x="123.08" y="495.92" width="7.75" height="6.84" fill="#0cb3d3"/>
<rect x="130.23" y="495.92" width="7.75" height="6.24" fill="#21a3e3"/>
<rect x="137.37" y="495.92" width="7.15" height="6.24" fill="#0cb3d3"/>
<rect x="287.46" y="495.92" width="7.75" height="6.84" fill="#feca33"/>
<rect x="294.61" y="495.92" width="7.75" height="6.24" fill="#feca33"/>
<rect x="301.76" y="495.92" width="7.75" height="6.24" fill="#f1ba37"/>
<rect x="308.91" y="495.92" width="7.75" height="6.84" fill="#94ca4a"/>
<rect x="316.05" y="495.92" width="7.75" height="6.84" fill="#34c79c"/>
<rect x="323.20" y="495.92" width="14.89" height="6.84" fill="#5ccc76"/>
<rect x="337.49" y="495.92" width="7.75" height="6.84" fill="#34c79c"/>
<rect x="344.64" y="495.92" width="7.75" height="6.84" fill="#12beb9"/>
<rect x="351.79" y="495.92" width="7.75" height="6.84" fill="#0cb3d3"/>
<rect x="358.94" y="495.92" width="14.29" height="6.84" fill="#21a3e3"/>
<rect x="380.38" y="495.92" width="7.15" height="6.84" fill="#21a3e3"/>
<rect x="394.67" y="495.92" width="22.04" height="6.84" fill="#2c90f0"/>
<rect x="416.11" y="495.92" width="29.19" height="6.84" fill="#21a3e3"/>
<rect x="444.70" y="495.92" width="7.75" height="6.84" fill="#0cb3d3"/>
<rect x="451.85" y="495.92" width="22.04" height="6.84" fill="#12beb9"/>
<rect x="473.29" y="495.92" width="36.34" height="6.84" fill="#34c79c"/>
<rect x="509.03" y="495.92" width="29.19" height="6.84" fill="#12beb9"/>
<rect x="537.62" y="495.92" width="7.75" height="6.84" fill="#34c79c"/>
<rect x="544.76" y="495.92" width="7.75" height="6.84" fill="#5ccc76"/>
<rect x="551.91" y="495.92" width="7.75" height="6.84" fill="#34c79c"/>
<rect x="559.06" y="495.92" width="7.75" height="6.84" fill="#12beb9"/>
<rect x="566.21" y="495.92" width="7.75" height="6.24" fill="#0cb3d3"/>
<rect x="573.35" y="495.92" width="7.15" height="6.84" fill="#0cb3d3"/>
<rect x="65.90" y="502.17" width="14.89" height="6.84" fill="#21a3e3"/>
<rect x="80.19" y="502.17" width="22.04" height="6.84" fill="#0cb3d3"/>
<rect x="101.64" y="502.17" width="7.75" height="6.84" fill="#12beb9"/>
<rect x="108.78" y="502.17" width="7.75" height="6.84" fill="#34c79c"/>
<rect x="115.93" y="502.17" width="7.75" height="6.24" fill="#12beb9"/>
<rect x="123.08" y="502.17" width="7.15" height="6.24" fill="#0cb3d3"/>
<rect x="287.46" y="502.17" width="7.15" height="6.24" fill="#feca33"/>
<rect x="308.91" y="502.17" width="7.75" height="6.24" fill="#2c90f0"/>
<rect x="316.05" y="502.17" width="7.75" height="6.24" fill="#0cb3d3"/>
<rect x="323.20" y="502.17" width="7.75" height="6.84" fill="#0cb3d3"/>
<rect x="330.35" y="502.17" width="14.89" height="6.24" fill="#12beb9"/>
<rect x="344.64" y="502.17" width="7.75" height="6.84" fill="#34c79c"/>
<rect x="351.79" y="502.17" width="7.75" height="6.84" fill="#12beb9"/>
<rect x="358.94" y="502.17" width="29.19" height="6.84" fill="#2c90f0"/>
<rect x="387.52" y="502.17" width="7.75" height="6.24" fill="#347afd"/>
<rect x="394.67" y="502.17" width="14.89" height="6.84" fill="#347afd"/>
<rect x="408.97" y="502.17" width="29.19" height="6.84" fill="#2c90f0"/>
<rect x="437.56" y="502.17" width="14.89" height="6.84" fill="#21a3e3"/>
<rect x="451.85" y="502.17" width="14.89" height="6.84" fill="#0cb3d3"/>
<rect x="466.14" y="502.17" width="7.75" height="6.84" fill="#21a3e3"/>
<rect x="473.29" y="502.17" width="86.37" height="6.84" fill="#0cb3d3"/>
<rect x="559.06" y="502.17" width="7.15" height="6.84" fill="#21a3e3"/>
<rect x="573.35" y="502.17" width="7.15" height="6.24" fill="#0cb3d3"/>
<rect x="65.90" y="508.41" width="14.89" height="6.84" fill="#2c90f0"/>
<rect x="80.19" y="508.41" width="14.89" height="6.84" fill="#21a3e3"/>
<rect x="94.49" y="508.41" width="14.89" height="6.84" fill="#0cb3d3"/>
<rect x="108.78" y="508.41" width="7.15" height="6.24" fill="#0cb3d3"/>
<rect x="323.20" y="508.41" width="7.15" height="6.24" fill="#12beb9"/>
<rect x="344.64" y="508.41" width="7.75" height="6.24" fill="#0cb3d3"/>
<rect x="351.79" y="508.41" width="7.75" height="6.24" fill="#347afd"/>
<rect x="358.94" y="508.41" width="28.59" height="6.84" fill="#347afd"/>
<rect x="394.67" y="508.41" width="14.89" height="6.84" fill="#484cef"/>
<rect x="408.97" y="508.41" width="14.89" height="6.84" fill="#4562fc"/>
<rect x="423.26" y="508.41" width="14.89" height="6.84" fill="#484cef"/>
<rect x="437.56" y="508.41" width="22.04" height="6.84" fill="#347afd"/>
<rect x="459.00" y="508.41" width="14.89" height="6.84" fill="#2c90f0"/>
<rect x="473.29" y="508.41" width="7.75" height="6.84" fill="#347afd"/>
<rect x="480.44" y="508.41" width="36.34" height="6.84" fill="#2c90f0"/>
<rect x="516.17" y="508.41" width="43.48" height="6.84" fill="#21a3e3"/>
<rect x="559.06" y="508.41" width="7.15" height="6.84" fill="#2c90f0"/>
<rect x="65.90" y="514.65" width="22.04" height="6.84" fill="#2c90f0"/>
<rect x="87.34" y="514.65" width="7.75" height="6.84" fill="#21a3e3"/>
<rect x="94.49" y="514.65" width="7.75" height="6.24" fill="#21a3e3"/>
<rect x="101.64" y="514.65" width="7.15" height="6.24" fill="#0cb3d3"/>
<rect x="358.94" y="514.65" width="7.75" height="6.24" fill="#2c90f0"/>
<rect x="366.08" y="514.65" width="14.89" height="6.24" fill="#4562fc"/>
<rect x="380.38" y="514.65" width="7.75" height="6.24" fill="#484cef"/>
<rect x="387.52" y="514.65" width="14.89" height="6.84" fill="#3e26a8"/>
<rect x="401.82" y="514.65" width="7.75" height="6.24" fill="#3e26a8"/>
<rect x="408.97" y="514.65" width="43.48" height="6.84" fill="#3e26a8"/>
<rect x="451.85" y="514.65" width="29.19" height="6.84" fill="#4562fc"/>
<rect x="480.44" y="514.65" width="36.34" height="6.84" fill="#347afd"/>
<rect x="516.17" y="514.65" width="43.48" height="6.84" fill="#2c90f0"/>
<rect x="559.06" y="514.65" width="7.75" height="6.84" fill="#347afd"/>
<rect x="566.21" y="514.65" width="7.75" height="6.84" fill="#4562fc"/>
<rect x="573.35" y="514.65" width="7.15" height="6.24" fill="#4562fc"/>
<rect x="65.90" y="520.89" width="7.75" height="6.84" fill="#347afd"/>
<rect x="73.05" y="520.89" width="7.75" height="6.84" fill="#2c90f0"/>
<rect x="80.19" y="520.89" width="14.29" height="6.24" fill="#2c90f0"/>
<rect x="387.52" y="520.89" width="14.29" height="6.24" fill="#3e26a8"/>
<rect x="408.97" y="520.89" width="43.48" height="6.84" fill="#3e26a8"/>
<rect x="451.85" y="520.89" width="22.04" height="6.84" fill="#4536d5"/>
<rect x="473.29" y="520.89" width="14.89" height="6.84" fill="#484cef"/>
<rect x="487.59" y="520.89" width="22.04" height="6.84" fill="#4562fc"/>
<rect x="509.03" y="520.89" width="7.75" height="6.84" fill="#347afd"/>
<rect x="516.17" y="520.89" width="7.75" height="6.84" fill="#2c90f0"/>
<rect x="523.32" y="520.89" width="7.75" height="6.84" fill="#347afd"/>
<rect x="530.47" y="520.89" width="14.89" height="6.84" fill="#4562fc"/>
<rect x="544.76" y="520.89" width="14.89" height="6.84" fill="#347afd"/>
<rect x="559.06" y="520.89" width="14.29" height="6.24" fill="#4536d5"/>
<rect x="65.90" y="527.13" width="14.29" height="6.24" fill="#4562fc"/>
<rect x="408.97" y="527.13" width="79.22" height="6.84" fill="#3e26a8"/>
<rect x="487.59" y="527.13" width="14.89" height="6.84" fill="#4536d5"/>
<rect x="501.88" y="527.13" width="14.89" height="6.84" fill="#484cef"/>
<rect x="516.17" y="527.13" width="7.75" height="6.84" fill="#4562fc"/>
<rect x="523.32" y="527.13" width="22.04" height="6.84" fill="#484cef"/>
<rect x="544.76" y="527.13" width="14.29" height="6.84" fill="#4562fc"/>
<rect x="408.97" y="533.38" width="14.89" height="6.24" fill="#3e26a8"/>
<rect x="423.26" y="533.38" width="93.51" height="6.84" fill="#3e26a8"/>
<rect x="516.17" y="533.38" width="36.34" height="6.84" fill="#4536d5"/>
<rect x="551.91" y="533.38" width="7.75" height="6.84" fill="#484cef"/>
<rect x="559.06" y="533.38" width="7.15" height="6.84" fill="#4562fc"/>
<rect x="423.26" y="539.62" width="14.89" height="6.24" fill="#3e26a8"/>
<rect x="437.56" y="539.62" width="86.37" height="6.84" fill="#3e26a8"/>
<rect x="523.32" y="539.62" width="29.19" height="6.84" fill="#4536d5"/>
<rect x="551.91" y="539.62" width="7.75" height="6.24" fill="#484cef"/>
<rect x="559.06" y="539.62" width="7.15" height="6.24" fill="#347afd"/>
<rect x="437.56" y="545.86" width="114.36" height="6.24" fill="#3e26a8"/>
<g stroke="rgba(38,38,38,0.15)" stroke-width="1"><line x1="130.23" y1="327.40" x2="130.23" y2="552.10"/><line x1="194.55" y1="327.40" x2="194.55" y2="552.10"/><line x1="258.88" y1="327.40" x2="258.88" y2="552.10"/><line x1="323.20" y1="327.40" x2="323.20" y2="552.10"/><line x1="387.52" y1="327.40" x2="387.52" y2="552.10"/><line x1="451.85" y1="327.40" x2="451.85" y2="552.10"/><line x1="516.17" y1="327.40" x2="516.17" y2="552.10"/><line x1="65.90" y1="514.65" x2="580.50" y2="514.65"/><line x1="65.90" y1="477.20" x2="580.50" y2="477.20"/><line x1="65.90" y1="439.75" x2="580.50" y2="439.75"/><line x1="65.90" y1="402.30" x2="580.50" y2="402.30"/><line x1="65.90" y1="364.85" x2="580.50" y2="364.85"/></g>
<g stroke="#4a4a4a" stroke-width="1"><line x1="65.90" y1="552.10" x2="65.90" y2="546.90"/><line x1="65.90" y1="327.40" x2="65.90" y2="332.60"/><line x1="130.23" y1="552.10" x2="130.23" y2="546.90"/><line x1="130.23" y1="327.40" x2="130.23" y2="332.60"/><line x1="194.55" y1="552.10" x2="194.55" y2="546.90"/><line x1="194.55" y1="327.40" x2="194.55" y2="332.60"/><line x1="258.88" y1="552.10" x2="258.88" y2="546.90"/><line x1="258.88" y1="327.40" x2="258.88" y2="332.60"/><line x1="323.20" y1="552.10" x2="323.20" y2="546.90"/><line x1="323.20" y1="327.40" x2="323.20" y2="332.60"/><line x1="387.52" y1="552.10" x2="387.52" y2="546.90"/><line x1="387.52" y1="327.40" x2="387.52" y2="332.60"/><line x1="451.85" y1="552.10" x2="451.85" y2="546.90"/><line x1="451.85" y1="327.40" x2="451.85" y2="332.60"/><line x1="516.17" y1="552.10" x2="516.17" y2="546.90"/><line x1="516.17" y1="327.40" x2="516.17" y2="332.60"/><line x1="580.50" y1="552.10" x2="580.50" y2="546.90"/><line x1="580.50" y1="327.40" x2="580.50" y2="332.60"/><line x1="65.90" y1="552.10" x2="71.10" y2="552.10"/><line x1="580.50" y1="552.10" x2="575.30" y2="552.10"/><line x1="65.90" y1="514.65" x2="71.10" y2="514.65"/><line x1="580.50" y1="514.65" x2="575.30" y2="514.65"/><line x1="65.90" y1="477.20" x2="71.10" y2="477.20"/><line x1="580.50" y1="477.20" x2="575.30" y2="477.20"/><line x1="65.90" y1="439.75" x2="71.10" y2="439.75"/><line x1="580.50" y1="439.75" x2="575.30" y2="439.75"/><line x1="65.90" y1="402.30" x2="71.10" y2="402.30"/><line x1="580.50" y1="402.30" x2="575.30" y2="402.30"/><line x1="65.90" y1="364.85" x2="71.10" y2="364.85"/><line x1="580.50" y1="364.85" x2="575.30" y2="364.85"/><line x1="65.90" y1="327.40" x2="71.10" y2="327.40"/><line x1="580.50" y1="327.40" x2="575.30" y2="327.40"/></g>
<rect x="65.90" y="327.40" width="514.60" height="224.70" fill="none" stroke="#4a4a4a" stroke-width="1"/>
<g font-size="19.8" fill="#262626"><text x="65.90" y="579.60" text-anchor="middle">0</text><text x="130.23" y="579.60" text-anchor="middle">45</text><text x="194.55" y="579.60" text-anchor="middle">90</text><text x="258.88" y="579.60" text-anchor="middle">135</text><text x="323.20" y="579.60" text-anchor="middle">180</text><text x="387.52" y="579.60" text-anchor="middle">225</text><text x="451.85" y="579.60" text-anchor="middle">270</text><text x="516.17" y="579.60" text-anchor="middle">315</text><text x="580.50" y="579.60" text-anchor="middle">360</text><text x="58.40" y="560.60" text-anchor="end">-90</text><text x="58.40" y="523.15" text-anchor="end">-60</text><text x="58.40" y="485.70" text-anchor="end">-30</text><text x="58.40" y="448.25" text-anchor="end">0</text><text x="58.40" y="410.80" text-anchor="end">30</text><text x="58.40" y="373.35" text-anchor="end">60</text><text x="58.40" y="335.90" text-anchor="end">90</text></g>
<text x="323.20" y="321.80" font-size="21.8" font-weight="bold" text-anchor="middle" fill="#000">CRISM</text>
<text transform="translate(19.60,439.75) rotate(-90)" font-size="21.8" text-anchor="middle" fill="#262626">Latitude</text>
<text x="572.70" y="353.40" font-size="17" fill="#262626" text-anchor="end">(b)</text>
<rect x="610.20" y="327.40" width="26.60" height="224.70" fill="url(#cbar)" stroke="#262626" stroke-width="1"/>
<g stroke="#262626" stroke-width="1"><line x1="636.80" y1="495.92" x2="633.30" y2="495.92"/><line x1="636.80" y1="439.75" x2="633.30" y2="439.75"/><line x1="636.80" y1="383.57" x2="633.30" y2="383.57"/></g>
<g font-size="17.8" fill="#262626"><text x="644.40" y="559.50">400</text><text x="644.40" y="503.32">600</text><text x="644.40" y="447.15">800</text><text x="644.40" y="390.97">1000</text><text x="644.40" y="334.80">1200</text></g>
<rect x="151.67" y="650.93" width="14.29" height="6.84" fill="#2c90f0"/>
<rect x="180.26" y="650.93" width="14.29" height="6.84" fill="#347afd"/>
<rect x="223.14" y="650.93" width="14.89" height="6.84" fill="#2c90f0"/>
<rect x="237.43" y="650.93" width="21.44" height="6.84" fill="#21a3e3"/>
<rect x="108.78" y="657.17" width="7.15" height="6.84" fill="#2c90f0"/>
<rect x="144.52" y="657.17" width="21.44" height="6.84" fill="#2c90f0"/>
<rect x="180.26" y="657.17" width="14.29" height="6.84" fill="#2c90f0"/>
<rect x="215.99" y="657.17" width="22.04" height="6.84" fill="#2c90f0"/>
<rect x="237.43" y="657.17" width="28.59" height="6.84" fill="#21a3e3"/>
<rect x="280.32" y="657.17" width="7.15" height="6.84" fill="#94ca4a"/>
<rect x="87.34" y="663.41" width="7.15" height="6.84" fill="#5ccc76"/>
<rect x="108.78" y="663.41" width="14.29" height="6.84" fill="#2c90f0"/>
<rect x="144.52" y="663.41" width="7.75" height="6.84" fill="#2c90f0"/>
<rect x="151.67" y="663.41" width="7.75" height="6.84" fill="#347afd"/>
<rect x="158.81" y="663.41" width="7.15" height="6.84" fill="#2c90f0"/>
<rect x="180.26" y="663.41" width="14.29" height="6.84" fill="#2c90f0"/>
<rect x="215.99" y="663.41" width="29.19" height="6.84" fill="#2c90f0"/>
<rect x="244.58" y="663.41" width="21.44" height="6.84" fill="#21a3e3"/>
<rect x="280.32" y="663.41" width="14.29" height="6.84" fill="#34c79c"/>
<rect x="80.19" y="669.65" width="14.29" height="6.84" fill="#34c79c"/>
<rect x="108.78" y="669.65" width="14.29" height="6.84" fill="#2c90f0"/>
<rect x="144.52" y="669.65" width="7.75" height="6.84" fill="#2c90f0"/>
<rect x="151.67" y="669.65" width="7.75" height="6.84" fill="#347afd"/>
<rect x="158.81" y="669.65" width="7.15" height="6.84" fill="#2c90f0"/>
<rect x="180.26" y="669.65" width="21.44" height="6.84" fill="#2c90f0"/>
<rect x="215.99" y="669.65" width="29.19" height="6.84" fill="#2c90f0"/>
<rect x="244.58" y="669.65" width="28.59" height="6.84" fill="#21a3e3"/>
<rect x="280.32" y="669.65" width="22.04" height="6.84" fill="#0cb3d3"/>
<rect x="301.76" y="669.65" width="14.29" height="6.84" fill="#12beb9"/>
<rect x="73.05" y="675.89" width="21.44" height="6.84" fill="#34c79c"/>
<rect x="108.78" y="675.89" width="7.75" height="6.84" fill="#21a3e3"/>
<rect x="115.93" y="675.89" width="7.75" height="6.84" fill="#2c90f0"/>
<rect x="123.08" y="675.89" width="7.15" height="6.84" fill="#347afd"/>
<rect x="144.52" y="675.89" width="21.44" height="6.84" fill="#2c90f0"/>
<rect x="180.26" y="675.89" width="21.44" height="6.84" fill="#2c90f0"/>
<rect x="208.84" y="675.89" width="14.89" height="6.84" fill="#2c90f0"/>
<rect x="223.14" y="675.89" width="50.03" height="6.84" fill="#21a3e3"/>
<rect x="280.32" y="675.89" width="7.75" height="6.84" fill="#21a3e3"/>
<rect x="287.46" y="675.89" width="14.89" height="6.84" fill="#0cb3d3"/>
<rect x="301.76" y="675.89" width="14.29" height="6.84" fill="#12beb9"/>
<rect x="73.05" y="682.13" width="14.89" height="6.84" fill="#34c79c"/>
<rect x="87.34" y="682.13" width="7.15" height="6.84" fill="#12beb9"/>
<rect x="101.64" y="682.13" width="7.75" height="6.84" fill="#0cb3d3"/>
<rect x="108.78" y="682.13" width="7.75" height="6.84" fill="#21a3e3"/>
<rect x="115.93" y="682.13" width="7.75" height="6.84" fill="#2c90f0"/>
<rect x="123.08" y="682.13" width="7.15" height="6.84" fill="#347afd"/>
<rect x="144.52" y="682.13" width="21.44" height="6.84" fill="#2c90f0"/>
<rect x="180.26" y="682.13" width="21.44" height="6.84" fill="#2c90f0"/>
<rect x="208.84" y="682.13" width="64.33" height="6.84" fill="#21a3e3"/>
<rect x="280.32" y="682.13" width="14.89" height="6.84" fill="#21a3e3"/>
<rect x="294.61" y="682.13" width="14.89" height="6.84" fill="#0cb3d3"/>
<rect x="308.91" y="682.13" width="7.15" height="6.84" fill="#12beb9"/>
<rect x="330.35" y="682.13" width="21.44" height="6.84" fill="#5ccc76"/>
<rect x="551.91" y="682.13" width="7.15" height="6.84" fill="#5ccc76"/>
<rect x="73.05" y="688.38" width="14.89" height="6.84" fill="#34c79c"/>
<rect x="87.34" y="688.38" width="7.15" height="6.84" fill="#12beb9"/>
<rect x="101.64" y="688.38" width="7.75" height="6.84" fill="#0cb3d3"/>
<rect x="108.78" y="688.38" width="14.89" height="6.84" fill="#21a3e3"/>
<rect x="123.08" y="688.38" width="7.15" height="6.84" fill="#2c90f0"/>
<rect x="137.37" y="688.38" width="28.59" height="6.84" fill="#2c90f0"/>
<rect x="180.26" y="688.38" width="7.75" height="6.84" fill="#21a3e3"/>
<rect x="187.40" y="688.38" width="14.29" height="6.84" fill="#2c90f0"/>
<rect x="208.84" y="688.38" width="64.33" height="6.84" fill="#21a3e3"/>
<rect x="280.32" y="688.38" width="7.75" height="6.84" fill="#21a3e3"/>
<rect x="287.46" y="688.38" width="22.04" height="6.84" fill="#0cb3d3"/>
<rect x="308.91" y="688.38" width="7.15" height="6.84" fill="#12beb9"/>
<rect x="330.35" y="688.38" width="22.04" height="6.84" fill="#5ccc76"/>
<rect x="351.79" y="688.38" width="7.15" height="6.84" fill="#34c79c"/>
<rect x="544.76" y="688.38" width="7.75" height="6.84" fill="#34c79c"/>
<rect x="551.91" y="688.38" width="7.75" height="6.84" fill="#5ccc76"/>
<rect x="559.06" y="688.38" width="7.15" height="6.84" fill="#34c79c"/>
<rect x="73.05" y="694.62" width="14.89" height="6.84" fill="#34c79c"/>
<rect x="87.34" y="694.62" width="7.15" height="6.84" fill="#12beb9"/>
<rect x="101.64" y="694.62" width="7.75" height="6.24" fill="#0cb3d3"/>
<rect x="108.78" y="694.62" width="14.89" height="6.84" fill="#21a3e3"/>
<rect x="123.08" y="694.62" width="7.15" height="6.84" fill="#2c90f0"/>
<rect x="137.37" y="694.62" width="22.04" height="6.84" fill="#2c90f0"/>
<rect x="158.81" y="694.62" width="7.15" height="6.84" fill="#21a3e3"/>
<rect x="180.26" y="694.62" width="7.75" height="6.84" fill="#21a3e3"/>
<rect x="187.40" y="694.62" width="14.29" height="6.84" fill="#2c90f0"/>
<rect x="208.84" y="694.62" width="64.33" height="6.84" fill="#21a3e3"/>
<rect x="280.32" y="694.62" width="7.75" height="6.84" fill="#21a3e3"/>
<rect x="287.46" y="694.62" width="14.89" height="6.84" fill="#0cb3d3"/>
<rect x="301.76" y="694.62" width="14.29" height="6.84" fill="#12beb9"/>
<rect x="330.35" y="694.62" width="14.89" height="6.84" fill="#5ccc76"/>
<rect x="344.64" y="694.62" width="14.29" height="6.84" fill="#34c79c"/>
<rect x="373.23" y="694.62" width="7.75" height="6.84" fill="#34c79c"/>
<rect x="380.38" y="694.62" width="7.15" height="6.84" fill="#5ccc76"/>
<rect x="394.67" y="694.62" width="7.15" height="6.84" fill="#94ca4a"/>
<rect x="509.03" y="694.62" width="14.89" height="6.84" fill="#34c79c"/>
<rect x="523.32" y="694.62" width="7.15" height="6.84" fill="#12beb9"/>
<rect x="544.76" y="694.62" width="21.44" height="6.84" fill="#34c79c"/>
<rect x="73.05" y="700.86" width="7.75" height="6.84" fill="#34c79c"/>
<rect x="80.19" y="700.86" width="7.75" height="6.84" fill="#12beb9"/>
<rect x="87.34" y="700.86" width="7.15" height="6.84" fill="#0cb3d3"/>
<rect x="108.78" y="700.86" width="14.89" height="6.84" fill="#21a3e3"/>
<rect x="123.08" y="700.86" width="7.15" height="6.84" fill="#2c90f0"/>
<rect x="137.37" y="700.86" width="14.89" height="6.84" fill="#2c90f0"/>
<rect x="151.67" y="700.86" width="14.29" height="6.84" fill="#21a3e3"/>
<rect x="180.26" y="700.86" width="7.75" height="6.84" fill="#21a3e3"/>
<rect x="187.40" y="700.86" width="7.75" height="6.84" fill="#2c90f0"/>
<rect x="194.55" y="700.86" width="7.15" height="6.84" fill="#347afd"/>
<rect x="208.84" y="700.86" width="64.33" height="6.84" fill="#21a3e3"/>
<rect x="280.32" y="700.86" width="22.04" height="6.84" fill="#0cb3d3"/>
<rect x="301.76" y="700.86" width="14.29" height="6.84" fill="#12beb9"/>
<rect x="323.20" y="700.86" width="22.04" height="6.84" fill="#5ccc76"/>
<rect x="344.64" y="700.86" width="7.75" height="6.84" fill="#34c79c"/>
<rect x="351.79" y="700.86" width="7.15" height="6.84" fill="#12beb9"/>
<rect x="366.08" y="700.86" width="7.75" height="6.84" fill="#0cb3d3"/>
<rect x="373.23" y="700.86" width="7.75" height="6.84" fill="#12beb9"/>
<rect x="380.38" y="700.86" width="7.75" height="6.84" fill="#34c79c"/>
<rect x="387.52" y="700.86" width="14.89" height="6.84" fill="#5ccc76"/>
<rect x="401.82" y="700.86" width="7.15" height="6.84" fill="#94ca4a"/>
<rect x="423.26" y="700.86" width="14.29" height="6.84" fill="#12beb9"/>
<rect x="466.14" y="700.86" width="7.15" height="6.84" fill="#21a3e3"/>
<rect x="509.03" y="700.86" width="14.89" height="6.84" fill="#34c79c"/>
<rect x="523.32" y="700.86" width="7.15" height="6.84" fill="#12beb9"/>
<rect x="544.76" y="700.86" width="21.44" height="6.84" fill="#34c79c"/>
<rect x="65.90" y="707.10" width="7.75" height="6.84" fill="#c8c129"/>
<rect x="73.05" y="707.10" width="7.75" height="6.84" fill="#34c79c"/>
<rect x="80.19" y="707.10" width="7.75" height="6.84" fill="#12beb9"/>
<rect x="87.34" y="707.10" width="7.75" height="6.84" fill="#0cb3d3"/>
<rect x="94.49" y="707.10" width="7.15" height="6.24" fill="#0cb3d3"/>
<rect x="108.78" y="707.10" width="14.89" height="6.84" fill="#21a3e3"/>
<rect x="123.08" y="707.10" width="7.15" height="6.84" fill="#2c90f0"/>
<rect x="137.37" y="707.10" width="7.75" height="6.84" fill="#2c90f0"/>
<rect x="144.52" y="707.10" width="21.44" height="6.84" fill="#21a3e3"/>
<rect x="180.26" y="707.10" width="7.75" height="6.84" fill="#21a3e3"/>
<rect x="187.40" y="707.10" width="7.75" height="6.84" fill="#2c90f0"/>
<rect x="194.55" y="707.10" width="7.15" height="6.84" fill="#347afd"/>
<rect x="208.84" y="707.10" width="22.04" height="6.84" fill="#21a3e3"/>
<rect x="230.29" y="707.10" width="14.89" height="6.84" fill="#2c90f0"/>
<rect x="244.58" y="707.10" width="22.04" height="6.84" fill="#21a3e3"/>
<rect x="266.02" y="707.10" width="7.15" height="6.84" fill="#0cb3d3"/>
<rect x="280.32" y="707.10" width="35.74" height="6.84" fill="#12beb9"/>
<rect x="323.20" y="707.10" width="29.19" height="6.84" fill="#34c79c"/>
<rect x="351.79" y="707.10" width="7.15" height="6.84" fill="#12beb9"/>
<rect x="366.08" y="707.10" width="7.75" height="6.84" fill="#21a3e3"/>
<rect x="373.23" y="707.10" width="7.75" height="6.84" fill="#0cb3d3"/>
<rect x="380.38" y="707.10" width="7.75" height="6.84" fill="#12beb9"/>
<rect x="387.52" y="707.10" width="7.75" height="6.84" fill="#34c79c"/>
<rect x="394.67" y="707.10" width="7.75" height="6.84" fill="#5ccc76"/>
<rect x="401.82" y="707.10" width="7.15" height="6.84" fill="#94ca4a"/>
<rect x="423.26" y="707.10" width="14.29" height="6.84" fill="#12beb9"/>
<rect x="459.00" y="707.10" width="7.75" height="6.84" fill="#21a3e3"/>
<rect x="466.14" y="707.10" width="7.75" height="6.84" fill="#2c90f0"/>
<rect x="473.29" y="707.10" width="7.15" height="6.84" fill="#21a3e3"/>
<rect x="509.03" y="707.10" width="7.75" height="6.84" fill="#34c79c"/>
<rect x="516.17" y="707.10" width="7.75" height="6.84" fill="#5ccc76"/>
<rect x="523.32" y="707.10" width="7.15" height="6.84" fill="#34c79c"/>
<rect x="544.76" y="707.10" width="22.04" height="6.84" fill="#12beb9"/>
<rect x="566.21" y="707.10" width="7.15" height="6.84" fill="#34c79c"/>
<rect x="65.90" y="713.34" width="7.75" height="6.84" fill="#94ca4a"/>
<rect x="73.05" y="713.34" width="7.75" height="6.84" fill="#34c79c"/>
<rect x="80.19" y="713.34" width="14.29" height="6.84" fill="#0cb3d3"/>
<rect x="108.78" y="713.34" width="14.89" height="6.84" fill="#0cb3d3"/>
<rect x="123.08" y="713.34" width="7.15" height="6.84" fill="#21a3e3"/>
<rect x="137.37" y="713.34" width="28.59" height="6.84" fill="#21a3e3"/>
<rect x="180.26" y="713.34" width="21.44" height="6.84" fill="#2c90f0"/>
<rect x="208.84" y="713.34" width="22.04" height="6.84" fill="#21a3e3"/>
<rect x="230.29" y="713.34" width="7.75" height="6.84" fill="#2c90f0"/>
<rect x="237.43" y="713.34" width="7.75" height="6.24" fill="#2c90f0"/>
<rect x="244.58" y="713.34" width="22.04" height="6.84" fill="#21a3e3"/>
<rect x="266.02" y="713.34" width="7.15" height="6.84" fill="#0cb3d3"/>
<rect x="280.32" y="713.34" width="35.74" height="6.84" fill="#12beb9"/>
<rect x="323.20" y="713.34" width="29.19" height="6.84" fill="#34c79c"/>
<rect x="351.79" y="713.34" width="7.15" height="6.84" fill="#12beb9"/>
<rect x="366.08" y="713.34" width="7.75" height="6.84" fill="#21a3e3"/>
<rect x="373.23" y="713.34" width="7.75" height="6.84" fill="#0cb3d3"/>
<rect x="380.38" y="713.34" width="7.75" height="6.84" fill="#12beb9"/>
<rect x="387.52" y="713.34" width="7.75" height="6.84" fill="#34c79c"/>
<rect x="394.67" y="713.34" width="14.29" height="6.84" fill="#5ccc76"/>
<rect x="416.11" y="713.34" width="7.75" height="6.84" fill="#5ccc76"/>
<rect x="423.26" y="713.34" width="14.29" height="6.84" fill="#12beb9"/>
<rect x="459.00" y="713.34" width="14.89" height="6.84" fill="#2c90f0"/>
<rect x="473.29" y="713.34" width="7.15" height="6.84" fill="#21a3e3"/>
<rect x="509.03" y="713.34" width="7.75" height="6.84" fill="#34c79c"/>
<rect x="516.17" y="713.34" width="7.75" height="6.84" fill="#5ccc76"/>
<rect x="523.32" y="713.34" width="7.15" height="6.84" fill="#34c79c"/>
<rect x="544.76" y="713.34" width="22.04" height="6.84" fill="#12beb9"/>
<rect x="566.21" y="713.34" width="7.15" height="6.84" fill="#34c79c"/>
<rect x="65.90" y="719.58" width="7.75" height="6.84" fill="#5ccc76"/>
<rect x="73.05" y="719.58" width="7.75" height="6.84" fill="#12beb9"/>
<rect x="80.19" y="719.58" width="14.29" height="6.84" fill="#0cb3d3"/>
<rect x="108.78" y="719.58" width="14.89" height="6.84" fill="#0cb3d3"/>
<rect x="123.08" y="719.58" width="7.15" height="6.84" fill="#21a3e3"/>
<rect x="137.37" y="719.58" width="22.04" height="6.84" fill="#21a3e3"/>
<rect x="158.81" y="719.58" width="7.15" height="6.84" fill="#0cb3d3"/>
<rect x="180.26" y="719.58" width="21.44" height="6.84" fill="#2c90f0"/>
<rect x="208.84" y="719.58" width="28.59" height="6.84" fill="#21a3e3"/>
<rect x="244.58" y="719.58" width="28.59" height="6.84" fill="#0cb3d3"/>
<rect x="280.32" y="719.58" width="14.89" height="6.84" fill="#34c79c"/>
<rect x="294.61" y="719.58" width="7.75" height="6.84" fill="#12beb9"/>
<rect x="301.76" y="719.58" width="7.75" height="6.84" fill="#34c79c"/>
<rect x="308.91" y="719.58" width="7.15" height="6.84" fill="#12beb9"/>
<rect x="323.20" y="719.58" width="7.75" height="6.84" fill="#12beb9"/>
<rect x="330.35" y="719.58" width="22.04" height="6.84" fill="#34c79c"/>
<rect x="351.79" y="719.58" width="14.89" height="6.84" fill="#12beb9"/>
<rect x="366.08" y="719.58" width="7.75" height="6.84" fill="#21a3e3"/>
<rect x="373.23" y="719.58" width="7.75" height="6.84" fill="#0cb3d3"/>
<rect x="380.38" y="719.58" width="7.75" height="6.84" fill="#12beb9"/>
<rect x="387.52" y="719.58" width="7.75" height="6.84" fill="#34c79c"/>
<rect x="394.67" y="719.58" width="14.29" height="6.84" fill="#5ccc76"/>
<rect x="416.11" y="719.58" width="7.75" height="6.84" fill="#34c79c"/>
<rect x="423.26" y="719.58" width="21.44" height="6.84" fill="#12beb9"/>
<rect x="459.00" y="719.58" width="14.89" height="6.84" fill="#2c90f0"/>
<rect x="473.29" y="719.58" width="7.75" height="6.84" fill="#21a3e3"/>
<rect x="480.44" y="719.58" width="7.15" height="6.84" fill="#0cb3d3"/>
<rect x="501.88" y="719.58" width="28.59" height="6.84" fill="#34c79c"/>
<rect x="544.76" y="719.58" width="22.04" height="6.84" fill="#12beb9"/>
<rect x="566.21" y="719.58" width="7.15" height="6.84" fill="#5ccc76"/>
<rect x="65.90" y="725.83" width="7.75" height="6.84" fill="#94ca4a"/>
<rect x="73.05" y="725.83" width="7.75" height="6.84" fill="#12beb9"/>
<rect x="80.19" y="725.83" width="14.29" height="6.84" fill="#0cb3d3"/>
<rect x="108.78" y="725.83" width="21.44" height="6.84" fill="#0cb3d3"/>
<rect x="137.37" y="725.83" width="28.59" height="6.84" fill="#21a3e3"/>
<rect x="180.26" y="725.83" width="7.75" height="6.84" fill="#2c90f0"/>
<rect x="187.40" y="725.83" width="7.75" height="6.84" fill="#21a3e3"/>
<rect x="194.55" y="725.83" width="7.15" height="6.84" fill="#2c90f0"/>
<rect x="208.84" y="725.83" width="14.89" height="6.84" fill="#21a3e3"/>
<rect x="223.14" y="725.83" width="14.29" height="6.84" fill="#0cb3d3"/>
<rect x="244.58" y="725.83" width="28.59" height="6.84" fill="#0cb3d3"/>
<rect x="280.32" y="725.83" width="7.75" height="6.84" fill="#12beb9"/>
<rect x="287.46" y="725.83" width="7.75" height="6.84" fill="#34c79c"/>
<rect x="294.61" y="725.83" width="7.75" height="6.84" fill="#12beb9"/>
<rect x="301.76" y="725.83" width="7.75" height="6.84" fill="#34c79c"/>
<rect x="308.91" y="725.83" width="7.15" height="6.84" fill="#12beb9"/>
<rect x="323.20" y="725.83" width="22.04" height="6.84" fill="#12beb9"/>
<rect x="344.64" y="725.83" width="14.89" height="6.84" fill="#34c79c"/>
<rect x="358.94" y="725.83" width="7.75" height="6.84" fill="#12beb9"/>
<rect x="366.08" y="725.83" width="7.75" height="6.84" fill="#21a3e3"/>
<rect x="373.23" y="725.83" width="7.75" height="6.84" fill="#0cb3d3"/>
<rect x="380.38" y="725.83" width="7.75" height="6.84" fill="#12beb9"/>
<rect x="387.52" y="725.83" width="7.75" height="6.84" fill="#34c79c"/>
<rect x="394.67" y="725.83" width="14.29" height="6.84" fill="#5ccc76"/>
<rect x="416.11" y="725.83" width="28.59" height="6.84" fill="#12beb9"/>
<rect x="459.00" y="725.83" width="14.89" height="6.84" fill="#2c90f0"/>
<rect x="473.29" y="725.83" width="7.75" height="6.84" fill="#21a3e3"/>
<rect x="480.44" y="725.83" width="7.15" height="6.84" fill="#0cb3d3"/>
<rect x="501.88" y="725.83" width="14.89" height="6.84" fill="#12beb9"/>
<rect x="516.17" y="725.83" width="14.29" height="6.84" fill="#34c79c"/>
<rect x="544.76" y="725.83" width="22.04" height="6.84" fill="#12beb9"/>
<rect x="566.21" y="725.83" width="7.15" height="6.84" fill="#5ccc76"/>
<rect x="65.90" y="732.07" width="7.75" height="6.84" fill="#94ca4a"/>
<rect x="73.05" y="732.07" width="7.75" height="6.84" fill="#34c79c"/>
<rect x="80.19" y="732.07" width="7.75" height="6.84" fill="#12beb9"/>
<rect x="87.34" y="732.07" width="7.15" height="6.84" fill="#0cb3d3"/>
<rect x="108.78" y="732.07" width="21.44" height="6.84" fill="#0cb3d3"/>
<rect x="137.37" y="732.07" width="28.59" height="6.84" fill="#21a3e3"/>
<rect x="180.26" y="732.07" width="21.44" height="6.84" fill="#21a3e3"/>
<rect x="208.84" y="732.07" width="14.89" height="6.84" fill="#21a3e3"/>
<rect x="223.14" y="732.07" width="14.29" height="6.84" fill="#0cb3d3"/>
<rect x="244.58" y="732.07" width="28.59" height="6.84" fill="#0cb3d3"/>
<rect x="280.32" y="732.07" width="7.75" height="6.84" fill="#34c79c"/>
<rect x="287.46" y="732.07" width="7.75" height="6.84" fill="#12beb9"/>
<rect x="294.61" y="732.07" width="14.89" height="6.84" fill="#34c79c"/>
<rect x="308.91" y="732.07" width="7.15" height="6.84" fill="#12beb9"/>
<rect x="323.20" y="732.07" width="14.89" height="6.84" fill="#12beb9"/>
<rect x="337.49" y="732.07" width="7.75" height="6.84" fill="#34c79c"/>
<rect x="344.64" y="732.07" width="7.75" height="6.84" fill="#5ccc76"/>
<rect x="351.79" y="732.07" width="7.75" height="6.84" fill="#34c79c"/>
<rect x="358.94" y="732.07" width="7.75" height="6.84" fill="#12beb9"/>
<rect x="366.08" y="732.07" width="7.75" height="6.84" fill="#21a3e3"/>
<rect x="373.23" y="732.07" width="7.75" height="6.84" fill="#0cb3d3"/>
<rect x="380.38" y="732.07" width="7.75" height="6.84" fill="#12beb9"/>
<rect x="387.52" y="732.07" width="7.75" height="6.84" fill="#34c79c"/>
<rect x="394.67" y="732.07" width="7.75" height="6.84" fill="#5ccc76"/>
<rect x="401.82" y="732.07" width="7.15" height="6.84" fill="#34c79c"/>
<rect x="416.11" y="732.07" width="28.59" height="6.84" fill="#12beb9"/>
<rect x="459.00" y="732.07" width="14.89" height="6.84" fill="#2c90f0"/>
<rect x="473.29" y="732.07" width="7.75" height="6.84" fill="#21a3e3"/>
<rect x="480.44" y="732.07" width="7.15" height="6.84" fill="#0cb3d3"/>
<rect x="501.88" y="732.07" width="28.59" height="6.84" fill="#12beb9"/>
<rect x="544.76" y="732.07" width="22.04" height="6.84" fill="#12beb9"/>
<rect x="566.21" y="732.07" width="7.15" height="6.84" fill="#5ccc76"/>
<rect x="65.90" y="738.31" width="7.75" height="6.84" fill="#5ccc76"/>
<rect x="73.05" y="738.31" width="14.89" height="6.84" fill="#12beb9"/>
<rect x="87.34" y="738.31" width="7.15" height="6.84" fill="#0cb3d3"/>
<rect x="108.78" y="738.31" width="21.44" height="6.84" fill="#0cb3d3"/>
<rect x="137.37" y="738.31" width="14.89" height="6.84" fill="#2c90f0"/>
<rect x="151.67" y="738.31" width="14.29" height="6.84" fill="#21a3e3"/>
<rect x="180.26" y="738.31" width="21.44" height="6.84" fill="#21a3e3"/>
<rect x="208.84" y="738.31" width="7.75" height="6.84" fill="#21a3e3"/>
<rect x="215.99" y="738.31" width="21.44" height="6.84" fill="#0cb3d3"/>
<rect x="244.58" y="738.31" width="22.04" height="6.84" fill="#0cb3d3"/>
<rect x="266.02" y="738.31" width="7.15" height="6.84" fill="#12beb9"/>
<rect x="280.32" y="738.31" width="7.75" height="6.84" fill="#5ccc76"/>
<rect x="287.46" y="738.31" width="28.59" height="6.84" fill="#12beb9"/>
<rect x="323.20" y="738.31" width="14.89" height="6.84" fill="#12beb9"/>
<rect x="337.49" y="738.31" width="7.75" height="6.84" fill="#34c79c"/>
<rect x="344.64" y="738.31" width="7.75" height="6.84" fill="#5ccc76"/>
<rect x="351.79" y="738.31" width="7.75" height="6.84" fill="#34c79c"/>
<rect x="358.94" y="738.31" width="7.75" height="6.84" fill="#12beb9"/>
<rect x="366.08" y="738.31" width="7.75" height="6.84" fill="#21a3e3"/>
<rect x="373.23" y="738.31" width="7.75" height="6.84" fill="#0cb3d3"/>
<rect x="380.38" y="738.31" width="7.75" height="6.84" fill="#12beb9"/>
<rect x="387.52" y="738.31" width="7.75" height="6.84" fill="#34c79c"/>
<rect x="394.67" y="738.31" width="7.75" height="6.84" fill="#5ccc76"/>
<rect x="401.82" y="738.31" width="7.75" height="6.84" fill="#12beb9"/>
<rect x="408.97" y="738.31" width="7.75" height="6.84" fill="#0cb3d3"/>
<rect x="416.11" y="738.31" width="28.59" height="6.84" fill="#12beb9"/>
<rect x="459.00" y="738.31" width="7.75" height="6.84" fill="#2c90f0"/>
<rect x="466.14" y="738.31" width="14.89" height="6.84" fill="#21a3e3"/>
<rect x="480.44" y="738.31" width="7.15" height="6.84" fill="#0cb3d3"/>
<rect x="501.88" y="738.31" width="22.04" height="6.84" fill="#12beb9"/>
<rect x="523.32" y="738.31" width="7.15" height="6.84" fill="#0cb3d3"/>
<rect x="544.76" y="738.31" width="22.04" height="6.84" fill="#12beb9"/>
<rect x="566.21" y="738.31" width="7.15" height="6.84" fill="#34c79c"/>
<rect x="65.90" y="744.55" width="14.89" height="6.84" fill="#12beb9"/>
<rect x="80.19" y="744.55" width="14.29" height="6.84" fill="#0cb3d3"/>
<rect x="108.78" y="744.55" width="21.44" height="6.84" fill="#0cb3d3"/>
<rect x="137.37" y="744.55" width="14.89" height="6.84" fill="#2c90f0"/>
<rect x="151.67" y="744.55" width="14.29" height="6.84" fill="#21a3e3"/>
<rect x="180.26" y="744.55" width="7.75" height="6.84" fill="#21a3e3"/>
<rect x="187.40" y="744.55" width="14.29" height="6.84" fill="#0cb3d3"/>
<rect x="208.84" y="744.55" width="28.59" height="6.84" fill="#0cb3d3"/>
<rect x="244.58" y="744.55" width="14.89" height="6.84" fill="#0cb3d3"/>
<rect x="258.88" y="744.55" width="7.75" height="6.84" fill="#12beb9"/>
<rect x="266.02" y="744.55" width="7.75" height="6.84" fill="#34c79c"/>
<rect x="273.17" y="744.55" width="7.75" height="6.84" fill="#5ccc76"/>
<rect x="280.32" y="744.55" width="7.75" height="6.84" fill="#94ca4a"/>
<rect x="287.46" y="744.55" width="7.75" height="6.84" fill="#34c79c"/>
<rect x="294.61" y="744.55" width="21.44" height="6.84" fill="#12beb9"/>
<rect x="323.20" y="744.55" width="14.89" height="6.84" fill="#12beb9"/>
<rect x="337.49" y="744.55" width="7.75" height="6.84" fill="#34c79c"/>
<rect x="344.64" y="744.55" width="7.75" height="6.84" fill="#5ccc76"/>
<rect x="351.79" y="744.55" width="7.75" height="6.84" fill="#34c79c"/>
<rect x="358.94" y="744.55" width="7.75" height="6.84" fill="#12beb9"/>
<rect x="366.08" y="744.55" width="7.75" height="6.84" fill="#21a3e3"/>
<rect x="373.23" y="744.55" width="7.75" height="6.84" fill="#0cb3d3"/>
<rect x="380.38" y="744.55" width="7.75" height="6.84" fill="#12beb9"/>
<rect x="387.52" y="744.55" width="7.75" height="6.84" fill="#34c79c"/>
<rect x="394.67" y="744.55" width="7.75" height="6.84" fill="#5ccc76"/>
<rect x="401.82" y="744.55" width="7.75" height="6.84" fill="#34c79c"/>
<rect x="408.97" y="744.55" width="7.75" height="6.84" fill="#0cb3d3"/>
<rect x="416.11" y="744.55" width="28.59" height="6.84" fill="#12beb9"/>
<rect x="459.00" y="744.55" width="22.04" height="6.84" fill="#2c90f0"/>
<rect x="480.44" y="744.55" width="7.15" height="6.84" fill="#21a3e3"/>
<rect x="501.88" y="744.55" width="22.04" height="6.84" fill="#0cb3d3"/>
<rect x="523.32" y="744.55" width="7.15" height="6.84" fill="#21a3e3"/>
<rect x="544.76" y="744.55" width="14.89" height="6.84" fill="#0cb3d3"/>
<rect x="559.06" y="744.55" width="14.29" height="6.84" fill="#12beb9"/>
<rect x="65.90" y="750.79" width="14.89" height="6.84" fill="#12beb9"/>
<rect x="80.19" y="750.79" width="7.75" height="6.84" fill="#0cb3d3"/>
<rect x="87.34" y="750.79" width="7.15" height="6.84" fill="#21a3e3"/>
<rect x="108.78" y="750.79" width="21.44" height="6.84" fill="#0cb3d3"/>
<rect x="137.37" y="750.79" width="7.75" height="6.84" fill="#347afd"/>
<rect x="144.52" y="750.79" width="14.89" height="6.84" fill="#2c90f0"/>
<rect x="158.81" y="750.79" width="7.15" height="6.84" fill="#21a3e3"/>
<rect x="180.26" y="750.79" width="21.44" height="6.84" fill="#0cb3d3"/>
<rect x="208.84" y="750.79" width="7.75" height="6.84" fill="#12beb9"/>
<rect x="215.99" y="750.79" width="21.44" height="6.84" fill="#0cb3d3"/>
<rect x="244.58" y="750.79" width="7.75" height="6.24" fill="#21a3e3"/>
<rect x="251.73" y="750.79" width="7.75" height="6.84" fill="#0cb3d3"/>
<rect x="258.88" y="750.79" width="7.75" height="6.84" fill="#12beb9"/>
<rect x="266.02" y="750.79" width="7.75" height="6.84" fill="#34c79c"/>
<rect x="273.17" y="750.79" width="7.75" height="6.24" fill="#94ca4a"/>
<rect x="280.32" y="750.79" width="7.75" height="6.84" fill="#94ca4a"/>
<rect x="287.46" y="750.79" width="7.75" height="6.84" fill="#34c79c"/>
<rect x="294.61" y="750.79" width="21.44" height="6.84" fill="#12beb9"/>
<rect x="323.20" y="750.79" width="7.75" height="6.84" fill="#12beb9"/>
<rect x="330.35" y="750.79" width="14.89" height="6.84" fill="#34c79c"/>
<rect x="344.64" y="750.79" width="7.75" height="6.84" fill="#5ccc76"/>
<rect x="351.79" y="750.79" width="7.75" height="6.84" fill="#12beb9"/>
<rect x="358.94" y="750.79" width="7.75" height="6.84" fill="#0cb3d3"/>
<rect x="366.08" y="750.79" width="14.89" height="6.84" fill="#21a3e3"/>
<rect x="380.38" y="750.79" width="7.75" height="6.84" fill="#0cb3d3"/>
<rect x="387.52" y="750.79" width="22.04" height="6.84" fill="#34c79c"/>
<rect x="408.97" y="750.79" width="35.74" height="6.84" fill="#12beb9"/>
<rect x="459.00" y="750.79" width="22.04" height="6.84" fill="#2c90f0"/>
<rect x="480.44" y="750.79" width="7.15" height="6.84" fill="#21a3e3"/>
<rect x="501.88" y="750.79" width="22.04" height="6.84" fill="#0cb3d3"/>
<rect x="523.32" y="750.79" width="7.15" height="6.84" fill="#21a3e3"/>
<rect x="544.76" y="750.79" width="7.75" height="6.84" fill="#21a3e3"/>
<rect x="551.91" y="750.79" width="14.89" height="6.84" fill="#0cb3d3"/>
<rect x="566.21" y="750.79" width="7.15" height="6.84" fill="#12beb9"/>
<rect x="65.90" y="757.03" width="7.75" height="6.84" fill="#0cb3d3"/>
<rect x="73.05" y="757.03" width="7.75" height="6.84" fill="#12beb9"/>
<rect x="80.19" y="757.03" width="7.75" height="6.84" fill="#0cb3d3"/>
<rect x="87.34" y="757.03" width="7.15" height="6.84" fill="#21a3e3"/>
<rect x="108.78" y="757.03" width="7.75" height="6.84" fill="#0cb3d3"/>
<rect x="115.93" y="757.03" width="7.75" height="6.84" fill="#12beb9"/>
<rect x="123.08" y="757.03" width="7.15" height="6.84" fill="#0cb3d3"/>
<rect x="137.37" y="757.03" width="7.75" height="6.84" fill="#347afd"/>
<rect x="144.52" y="757.03" width="7.75" height="6.84" fill="#2c90f0"/>
<rect x="151.67" y="757.03" width="14.29" height="6.84" fill="#21a3e3"/>
<rect x="180.26" y="757.03" width="14.89" height="6.84" fill="#0cb3d3"/>
<rect x="194.55" y="757.03" width="7.15" height="6.84" fill="#21a3e3"/>
<rect x="208.84" y="757.03" width="7.75" height="6.24" fill="#34c79c"/>
<rect x="215.99" y="757.03" width="7.75" height="6.84" fill="#12beb9"/>
<rect x="223.14" y="757.03" width="7.75" height="6.84" fill="#0cb3d3"/>
<rect x="230.29" y="757.03" width="7.15" height="6.84" fill="#12beb9"/>
<rect x="251.73" y="757.03" width="7.75" height="6.84" fill="#0cb3d3"/>
<rect x="258.88" y="757.03" width="7.75" height="6.84" fill="#12beb9"/>
<rect x="266.02" y="757.03" width="7.15" height="6.84" fill="#34c79c"/>
<rect x="280.32" y="757.03" width="14.89" height="6.84" fill="#34c79c"/>
<rect x="294.61" y="757.03" width="14.89" height="6.84" fill="#12beb9"/>
<rect x="308.91" y="757.03" width="7.75" height="6.84" fill="#0cb3d3"/>
<rect x="316.05" y="757.03" width="7.75" height="6.24" fill="#21a3e3"/>
<rect x="323.20" y="757.03" width="7.75" height="6.84" fill="#12beb9"/>
<rect x="330.35" y="757.03" width="22.04" height="6.84" fill="#34c79c"/>
<rect x="351.79" y="757.03" width="7.75" height="6.84" fill="#12beb9"/>
<rect x="358.94" y="757.03" width="22.04" height="6.84" fill="#21a3e3"/>
<rect x="380.38" y="757.03" width="7.75" height="6.84" fill="#0cb3d3"/>
<rect x="387.52" y="757.03" width="29.19" height="6.84" fill="#12beb9"/>
<rect x="416.11" y="757.03" width="28.59" height="6.84" fill="#0cb3d3"/>
<rect x="459.00" y="757.03" width="22.04" height="6.84" fill="#2c90f0"/>
<rect x="480.44" y="757.03" width="22.04" height="6.84" fill="#21a3e3"/>
<rect x="501.88" y="757.03" width="7.75" height="6.84" fill="#0cb3d3"/>
<rect x="509.03" y="757.03" width="21.44" height="6.84" fill="#21a3e3"/>
<rect x="544.76" y="757.03" width="7.75" height="6.84" fill="#2c90f0"/>
<rect x="551.91" y="757.03" width="7.75" height="6.84" fill="#21a3e3"/>
<rect x="559.06" y="757.03" width="7.75" height="6.84" fill="#0cb3d3"/>
<rect x="566.21" y="757.03" width="7.15" height="6.84" fill="#12beb9"/>
<rect x="65.90" y="763.28" width="22.04" height="6.84" fill="#0cb3d3"/>
<rect x="87.34" y="763.28" width="7.15" height="6.84" fill="#2c90f0"/>
<rect x="108.78" y="763.28" width="7.75" height="6.84" fill="#0cb3d3"/>
<rect x="115.93" y="763.28" width="14.29" height="6.84" fill="#12beb9"/>
<rect x="137.37" y="763.28" width="7.75" height="6.24" fill="#0cb3d3"/>
<rect x="144.52" y="763.28" width="7.75" height="6.84" fill="#0cb3d3"/>
<rect x="151.67" y="763.28" width="7.75" height="6.84" fill="#21a3e3"/>
<rect x="158.81" y="763.28" width="7.15" height="6.24" fill="#21a3e3"/>
<rect x="180.26" y="763.28" width="21.44" height="6.84" fill="#21a3e3"/>
<rect x="215.99" y="763.28" width="14.89" height="6.84" fill="#0cb3d3"/>
<rect x="230.29" y="763.28" width="7.15" height="6.24" fill="#12beb9"/>
<rect x="251.73" y="763.28" width="14.89" height="6.84" fill="#12beb9"/>
<rect x="266.02" y="763.28" width="7.15" height="6.84" fill="#34c79c"/>
<rect x="280.32" y="763.28" width="7.75" height="6.24" fill="#12beb9"/>
<rect x="287.46" y="763.28" width="22.04" height="6.84" fill="#12beb9"/>
<rect x="308.91" y="763.28" width="7.15" height="6.84" fill="#0cb3d3"/>
<rect x="323.20" y="763.28" width="7.75" height="6.84" fill="#12beb9"/>
<rect x="330.35" y="763.28" width="22.04" height="6.84" fill="#34c79c"/>
<rect x="351.79" y="763.28" width="7.75" height="6.84" fill="#0cb3d3"/>
<rect x="358.94" y="763.28" width="7.75" height="6.84" fill="#21a3e3"/>
<rect x="366.08" y="763.28" width="7.75" height="6.84" fill="#2c90f0"/>
<rect x="373.23" y="763.28" width="7.75" height="6.84" fill="#21a3e3"/>
<rect x="380.38" y="763.28" width="7.75" height="6.84" fill="#0cb3d3"/>
<rect x="387.52" y="763.28" width="14.89" height="6.84" fill="#12beb9"/>
<rect x="401.82" y="763.28" width="29.19" height="6.84" fill="#0cb3d3"/>
<rect x="430.41" y="763.28" width="14.29" height="6.84" fill="#21a3e3"/>
<rect x="459.00" y="763.28" width="29.19" height="6.84" fill="#2c90f0"/>
<rect x="487.59" y="763.28" width="42.88" height="6.84" fill="#21a3e3"/>
<rect x="544.76" y="763.28" width="7.75" height="6.84" fill="#21a3e3"/>
<rect x="551.91" y="763.28" width="14.89" height="6.84" fill="#0cb3d3"/>
<rect x="566.21" y="763.28" width="7.15" height="6.84" fill="#12beb9"/>
<rect x="65.90" y="769.52" width="14.89" height="6.84" fill="#0cb3d3"/>
<rect x="80.19" y="769.52" width="7.75" height="6.84" fill="#21a3e3"/>
<rect x="87.34" y="769.52" width="7.15" height="6.84" fill="#2c90f0"/>
<rect x="108.78" y="769.52" width="7.75" height="6.84" fill="#0cb3d3"/>
<rect x="115.93" y="769.52" width="7.75" height="6.84" fill="#12beb9"/>
<rect x="123.08" y="769.52" width="7.15" height="6.84" fill="#34c79c"/>
<rect x="144.52" y="769.52" width="7.75" height="6.84" fill="#12beb9"/>
<rect x="151.67" y="769.52" width="7.15" height="6.84" fill="#21a3e3"/>
<rect x="180.26" y="769.52" width="14.89" height="6.84" fill="#2c90f0"/>
<rect x="194.55" y="769.52" width="7.15" height="6.24" fill="#2c90f0"/>
<rect x="215.99" y="769.52" width="7.75" height="6.84" fill="#2c90f0"/>
<rect x="223.14" y="769.52" width="7.15" height="6.84" fill="#0cb3d3"/>
<rect x="251.73" y="769.52" width="14.89" height="6.84" fill="#12beb9"/>
<rect x="266.02" y="769.52" width="7.15" height="6.84" fill="#34c79c"/>
<rect x="287.46" y="769.52" width="7.75" height="6.84" fill="#0cb3d3"/>
<rect x="294.61" y="769.52" width="7.75" height="6.84" fill="#12beb9"/>
<rect x="301.76" y="769.52" width="7.75" height="6.84" fill="#34c79c"/>
<rect x="308.91" y="769.52" width="7.15" height="6.84" fill="#12beb9"/>
<rect x="323.20" y="769.52" width="7.75" height="6.84" fill="#12beb9"/>
<rect x="330.35" y="769.52" width="7.75" height="6.84" fill="#34c79c"/>
<rect x="337.49" y="769.52" width="7.75" height="6.84" fill="#5ccc76"/>
<rect x="344.64" y="769.52" width="7.75" height="6.84" fill="#34c79c"/>
<rect x="351.79" y="769.52" width="7.75" height="6.84" fill="#0cb3d3"/>
<rect x="358.94" y="769.52" width="7.75" height="6.84" fill="#21a3e3"/>
<rect x="366.08" y="769.52" width="14.89" height="6.84" fill="#2c90f0"/>
<rect x="380.38" y="769.52" width="7.75" height="6.84" fill="#21a3e3"/>
<rect x="387.52" y="769.52" width="22.04" height="6.84" fill="#0cb3d3"/>
<rect x="408.97" y="769.52" width="35.74" height="6.84" fill="#21a3e3"/>
<rect x="459.00" y="769.52" width="29.19" height="6.84" fill="#2c90f0"/>
<rect x="487.59" y="769.52" width="42.88" height="6.84" fill="#21a3e3"/>
<rect x="544.76" y="769.52" width="7.75" height="6.84" fill="#21a3e3"/>
<rect x="551.91" y="769.52" width="14.89" height="6.84" fill="#0cb3d3"/>
<rect x="566.21" y="769.52" width="7.15" height="6.84" fill="#12beb9"/>
<rect x="65.90" y="775.76" width="14.89" height="6.84" fill="#0cb3d3"/>
<rect x="80.19" y="775.76" width="14.29" height="6.84" fill="#21a3e3"/>
<rect x="108.78" y="775.76" width="7.75" height="6.84" fill="#0cb3d3"/>
<rect x="115.93" y="775.76" width="7.75" height="6.84" fill="#5ccc76"/>
<rect x="123.08" y="775.76" width="7.15" height="6.84" fill="#feca33"/>
<rect x="144.52" y="775.76" width="7.75" height="6.84" fill="#34c79c"/>
<rect x="151.67" y="775.76" width="7.15" height="6.84" fill="#2c90f0"/>
<rect x="180.26" y="775.76" width="7.75" height="6.24" fill="#347afd"/>
<rect x="187.40" y="775.76" width="7.15" height="6.24" fill="#2c90f0"/>
<rect x="215.99" y="775.76" width="7.75" height="6.84" fill="#2c90f0"/>
<rect x="223.14" y="775.76" width="7.15" height="6.24" fill="#21a3e3"/>
<rect x="251.73" y="775.76" width="7.75" height="6.84" fill="#12beb9"/>
<rect x="258.88" y="775.76" width="14.29" height="6.84" fill="#34c79c"/>
<rect x="287.46" y="775.76" width="7.75" height="6.84" fill="#12beb9"/>
<rect x="294.61" y="775.76" width="14.89" height="6.84" fill="#34c79c"/>
<rect x="308.91" y="775.76" width="7.15" height="6.84" fill="#12beb9"/>
<rect x="323.20" y="775.76" width="7.75" height="6.84" fill="#0cb3d3"/>
<rect x="330.35" y="775.76" width="14.89" height="6.84" fill="#34c79c"/>
<rect x="344.64" y="775.76" width="7.75" height="6.84" fill="#12beb9"/>
<rect x="351.79" y="775.76" width="7.75" height="6.84" fill="#21a3e3"/>
<rect x="358.94" y="775.76" width="7.75" height="6.84" fill="#2c90f0"/>
<rect x="366.08" y="775.76" width="7.75" height="6.84" fill="#347afd"/>
<rect x="373.23" y="775.76" width="7.75" height="6.84" fill="#2c90f0"/>
<rect x="380.38" y="775.76" width="36.34" height="6.84" fill="#21a3e3"/>
<rect x="416.11" y="775.76" width="28.59" height="6.84" fill="#2c90f0"/>
<rect x="459.00" y="775.76" width="29.19" height="6.84" fill="#2c90f0"/>
<rect x="487.59" y="775.76" width="42.88" height="6.84" fill="#21a3e3"/>
<rect x="544.76" y="775.76" width="22.04" height="6.84" fill="#0cb3d3"/>
<rect x="566.21" y="775.76" width="7.15" height="6.84" fill="#34c79c"/>
<rect x="65.90" y="782.00" width="22.04" height="6.84" fill="#21a3e3"/>
<rect x="87.34" y="782.00" width="7.15" height="6.24" fill="#21a3e3"/>
<rect x="108.78" y="782.00" width="7.75" height="6.84" fill="#12beb9"/>
<rect x="115.93" y="782.00" width="7.75" height="6.24" fill="#f1ba37"/>
<rect x="123.08" y="782.00" width="7.15" height="6.84" fill="#f9fb15"/>
<rect x="144.52" y="782.00" width="7.75" height="6.24" fill="#94ca4a"/>
<rect x="151.67" y="782.00" width="7.15" height="6.24" fill="#2c90f0"/>
<rect x="215.99" y="782.00" width="7.15" height="6.24" fill="#347afd"/>
<rect x="251.73" y="782.00" width="7.75" height="6.24" fill="#34c79c"/>
<rect x="258.88" y="782.00" width="14.29" height="6.84" fill="#34c79c"/>
<rect x="287.46" y="782.00" width="7.75" height="6.84" fill="#34c79c"/>
<rect x="294.61" y="782.00" width="7.75" height="6.84" fill="#5ccc76"/>
<rect x="301.76" y="782.00" width="7.75" height="6.84" fill="#34c79c"/>
<rect x="308.91" y="782.00" width="7.15" height="6.84" fill="#12beb9"/>
<rect x="323.20" y="782.00" width="7.75" height="6.84" fill="#0cb3d3"/>
<rect x="330.35" y="782.00" width="7.75" height="6.84" fill="#34c79c"/>
<rect x="337.49" y="782.00" width="14.89" height="6.84" fill="#12beb9"/>
<rect x="351.79" y="782.00" width="7.75" height="6.84" fill="#21a3e3"/>
<rect x="358.94" y="782.00" width="7.75" height="6.84" fill="#2c90f0"/>
<rect x="366.08" y="782.00" width="14.89" height="6.84" fill="#347afd"/>
<rect x="380.38" y="782.00" width="64.33" height="6.84" fill="#2c90f0"/>
<rect x="459.00" y="782.00" width="14.89" height="6.84" fill="#347afd"/>
<rect x="473.29" y="782.00" width="22.04" height="6.84" fill="#2c90f0"/>
<rect x="494.73" y="782.00" width="35.74" height="6.84" fill="#21a3e3"/>
<rect x="544.76" y="782.00" width="22.04" height="6.84" fill="#12beb9"/>
<rect x="566.21" y="782.00" width="7.15" height="6.84" fill="#34c79c"/>
<rect x="65.90" y="788.24" width="14.89" height="6.84" fill="#21a3e3"/>
<rect x="80.19" y="788.24" width="7.15" height="6.84" fill="#0cb3d3"/>
<rect x="108.78" y="788.24" width="7.15" height="6.24" fill="#5ccc76"/>
<rect x="123.08" y="788.24" width="7.15" height="6.24" fill="#f9fb15"/>
<rect x="258.88" y="788.24" width="7.75" height="6.24" fill="#12beb9"/>
<rect x="266.02" y="788.24" width="7.15" height="6.84" fill="#0cb3d3"/>
<rect x="287.46" y="788.24" width="7.75" height="6.84" fill="#94ca4a"/>
<rect x="294.61" y="788.24" width="7.75" height="6.84" fill="#5ccc76"/>
<rect x="301.76" y="788.24" width="7.75" height="6.84" fill="#34c79c"/>
<rect x="308.91" y="788.24" width="7.15" height="6.24" fill="#12beb9"/>
<rect x="323.20" y="788.24" width="7.75" height="6.84" fill="#0cb3d3"/>
<rect x="330.35" y="788.24" width="7.75" height="6.84" fill="#12beb9"/>
<rect x="337.49" y="788.24" width="14.89" height="6.84" fill="#0cb3d3"/>
<rect x="351.79" y="788.24" width="7.75" height="6.84" fill="#21a3e3"/>
<rect x="358.94" y="788.24" width="7.75" height="6.84" fill="#2c90f0"/>
<rect x="366.08" y="788.24" width="78.62" height="6.84" fill="#347afd"/>
<rect x="459.00" y="788.24" width="14.89" height="6.84" fill="#347afd"/>
<rect x="473.29" y="788.24" width="22.04" height="6.84" fill="#2c90f0"/>
<rect x="494.73" y="788.24" width="7.75" height="6.84" fill="#21a3e3"/>
<rect x="501.88" y="788.24" width="14.89" height="6.84" fill="#2c90f0"/>
<rect x="516.17" y="788.24" width="7.75" height="6.84" fill="#21a3e3"/>
<rect x="523.32" y="788.24" width="7.15" height="6.84" fill="#2c90f0"/>
<rect x="544.76" y="788.24" width="28.59" height="6.84" fill="#34c79c"/>
<rect x="65.90" y="794.48" width="7.75" height="6.84" fill="#12beb9"/>
<rect x="73.05" y="794.48" width="7.75" height="6.84" fill="#21a3e3"/>
<rect x="80.19" y="794.48" width="7.15" height="6.84" fill="#0cb3d3"/>
<rect x="266.02" y="794.48" width="7.15" height="6.24" fill="#21a3e3"/>
<rect x="287.46" y="794.48" width="7.75" height="6.24" fill="#5ccc76"/>
<rect x="294.61" y="794.48" width="7.75" height="6.84" fill="#5ccc76"/>
<rect x="301.76" y="794.48" width="7.15" height="6.84" fill="#34c79c"/>
<rect x="323.20" y="794.48" width="7.75" height="6.84" fill="#0cb3d3"/>
<rect x="330.35" y="794.48" width="7.75" height="6.84" fill="#12beb9"/>
<rect x="337.49" y="794.48" width="7.75" height="6.84" fill="#0cb3d3"/>
<rect x="344.64" y="794.48" width="14.89" height="6.84" fill="#21a3e3"/>
<rect x="358.94" y="794.48" width="7.75" height="6.84" fill="#2c90f0"/>
<rect x="366.08" y="794.48" width="7.75" height="6.24" fill="#347afd"/>
<rect x="373.23" y="794.48" width="14.89" height="6.84" fill="#4562fc"/>
<rect x="387.52" y="794.48" width="57.18" height="6.84" fill="#347afd"/>
<rect x="459.00" y="794.48" width="14.89" height="6.84" fill="#347afd"/>
<rect x="473.29" y="794.48" width="57.18" height="6.84" fill="#2c90f0"/>
<rect x="544.76" y="794.48" width="28.59" height="6.84" fill="#34c79c"/>
<rect x="65.90" y="800.73" width="7.75" height="6.24" fill="#34c79c"/>
<rect x="73.05" y="800.73" width="7.75" height="6.84" fill="#0cb3d3"/>
<rect x="80.19" y="800.73" width="7.15" height="6.24" fill="#12beb9"/>
<rect x="294.61" y="800.73" width="7.75" height="6.84" fill="#12beb9"/>
<rect x="301.76" y="800.73" width="7.15" height="6.84" fill="#34c79c"/>
<rect x="323.20" y="800.73" width="7.75" height="6.84" fill="#12beb9"/>
<rect x="330.35" y="800.73" width="14.89" height="6.84" fill="#0cb3d3"/>
<rect x="344.64" y="800.73" width="21.44" height="6.84" fill="#21a3e3"/>
<rect x="373.23" y="800.73" width="64.92" height="6.84" fill="#4562fc"/>
<rect x="437.56" y="800.73" width="7.15" height="6.84" fill="#347afd"/>
<rect x="459.00" y="800.73" width="7.75" height="6.84" fill="#347afd"/>
<rect x="466.14" y="800.73" width="64.33" height="6.84" fill="#2c90f0"/>
<rect x="544.76" y="800.73" width="7.75" height="6.24" fill="#34c79c"/>
<rect x="551.91" y="800.73" width="21.44" height="6.84" fill="#34c79c"/>
<rect x="73.05" y="806.97" width="7.15" height="6.84" fill="#34c79c"/>
<rect x="294.61" y="806.97" width="7.75" height="6.24" fill="#2c90f0"/>
<rect x="301.76" y="806.97" width="7.15" height="6.24" fill="#0cb3d3"/>
<rect x="323.20" y="806.97" width="7.75" height="6.84" fill="#34c79c"/>
<rect x="330.35" y="806.97" width="7.75" height="6.84" fill="#12beb9"/>
<rect x="337.49" y="806.97" width="7.75" height="6.84" fill="#0cb3d3"/>
<rect x="344.64" y="806.97" width="21.44" height="6.84" fill="#21a3e3"/>
<rect x="373.23" y="806.97" width="7.75" height="6.84" fill="#484cef"/>
<rect x="380.38" y="806.97" width="29.19" height="6.84" fill="#4562fc"/>
<rect x="408.97" y="806.97" width="22.04" height="6.84" fill="#484cef"/>
<rect x="430.41" y="806.97" width="14.29" height="6.84" fill="#4562fc"/>
<rect x="459.00" y="806.97" width="36.34" height="6.84" fill="#347afd"/>
<rect x="494.73" y="806.97" width="29.19" height="6.84" fill="#2c90f0"/>
<rect x="523.32" y="806.97" width="7.15" height="6.24" fill="#2c90f0"/>
<rect x="551.91" y="806.97" width="14.89" height="6.84" fill="#34c79c"/>
<rect x="566.21" y="806.97" width="7.15" height="6.84" fill="#5ccc76"/>
<rect x="73.05" y="813.21" width="7.15" height="6.24" fill="#f1ba37"/>
<rect x="323.20" y="813.21" width="7.75" height="6.24" fill="#34c79c"/>
<rect x="330.35" y="813.21" width="7.75" height="6.84" fill="#34c79c"/>
<rect x="337.49" y="813.21" width="7.75" height="6.24" fill="#0cb3d3"/>
<rect x="344.64" y="813.21" width="21.44" height="6.84" fill="#0cb3d3"/>
<rect x="373.23" y="813.21" width="7.75" height="6.84" fill="#4562fc"/>
<rect x="380.38" y="813.21" width="7.75" height="6.84" fill="#484cef"/>
<rect x="387.52" y="813.21" width="7.75" height="6.84" fill="#4562fc"/>
<rect x="394.67" y="813.21" width="14.89" height="6.84" fill="#484cef"/>
<rect x="408.97" y="813.21" width="22.04" height="6.84" fill="#4536d5"/>
<rect x="430.41" y="813.21" width="7.75" height="6.84" fill="#484cef"/>
<rect x="437.56" y="813.21" width="7.15" height="6.24" fill="#4562fc"/>
<rect x="459.00" y="813.21" width="57.78" height="6.84" fill="#347afd"/>
<rect x="516.17" y="813.21" width="7.15" height="6.84" fill="#2c90f0"/>
<rect x="551.91" y="813.21" width="7.75" height="6.24" fill="#12beb9"/>
<rect x="559.06" y="813.21" width="7.75" height="6.24" fill="#34c79c"/>
<rect x="566.21" y="813.21" width="7.15" height="6.24" fill="#5ccc76"/>
<rect x="330.35" y="819.45" width="7.15" height="6.24" fill="#c8c129"/>
<rect x="344.64" y="819.45" width="7.75" height="6.24" fill="#12beb9"/>
<rect x="351.79" y="819.45" width="14.29" height="6.84" fill="#12beb9"/>
<rect x="373.23" y="819.45" width="14.89" height="6.84" fill="#4562fc"/>
<rect x="387.52" y="819.45" width="14.89" height="6.84" fill="#484cef"/>
<rect x="401.82" y="819.45" width="7.75" height="6.84" fill="#4536d5"/>
<rect x="408.97" y="819.45" width="22.04" height="6.84" fill="#3e26a8"/>
<rect x="430.41" y="819.45" width="7.15" height="6.84" fill="#4536d5"/>
<rect x="459.00" y="819.45" width="7.75" height="6.24" fill="#4562fc"/>
<rect x="466.14" y="819.45" width="43.48" height="6.84" fill="#4562fc"/>
<rect x="509.03" y="819.45" width="14.29" height="6.84" fill="#347afd"/>
<rect x="351.79" y="825.69" width="7.75" height="6.24" fill="#5ccc76"/>
<rect x="358.94" y="825.69" width="7.15" height="6.24" fill="#34c79c"/>
<rect x="373.23" y="825.69" width="7.75" height="6.84" fill="#2c90f0"/>
<rect x="380.38" y="825.69" width="7.75" height="6.84" fill="#4562fc"/>
<rect x="387.52" y="825.69" width="14.89" height="6.84" fill="#484cef"/>
<rect x="401.82" y="825.69" width="7.75" height="6.84" fill="#4536d5"/>
<rect x="408.97" y="825.69" width="22.04" height="6.84" fill="#3e26a8"/>
<rect x="430.41" y="825.69" width="7.15" height="6.24" fill="#4536d5"/>
<rect x="466.14" y="825.69" width="7.75" height="6.24" fill="#4562fc"/>
<rect x="473.29" y="825.69" width="14.89" height="6.84" fill="#4562fc"/>
<rect x="487.59" y="825.69" width="14.89" height="6.84" fill="#484cef"/>
<rect x="501.88" y="825.69" width="14.89" height="6.84" fill="#4562fc"/>
<rect x="516.17" y="825.69" width="7.15" height="6.24" fill="#347afd"/>
<rect x="373.23" y="831.93" width="7.75" height="6.24" fill="#2c90f0"/>
<rect x="380.38" y="831.93" width="7.75" height="6.24" fill="#347afd"/>
<rect x="387.52" y="831.93" width="14.89" height="6.24" fill="#484cef"/>
<rect x="401.82" y="831.93" width="7.75" height="6.24" fill="#4536d5"/>
<rect x="408.97" y="831.93" width="21.44" height="6.24" fill="#3e26a8"/>
<rect x="473.29" y="831.93" width="14.89" height="6.24" fill="#4562fc"/>
<rect x="487.59" y="831.93" width="14.89" height="6.24" fill="#484cef"/>
<rect x="501.88" y="831.93" width="14.29" height="6.24" fill="#4562fc"/>
<g stroke="rgba(38,38,38,0.15)" stroke-width="1"><line x1="130.23" y1="632.20" x2="130.23" y2="856.90"/><line x1="194.55" y1="632.20" x2="194.55" y2="856.90"/><line x1="258.88" y1="632.20" x2="258.88" y2="856.90"/><line x1="323.20" y1="632.20" x2="323.20" y2="856.90"/><line x1="387.52" y1="632.20" x2="387.52" y2="856.90"/><line x1="451.85" y1="632.20" x2="451.85" y2="856.90"/><line x1="516.17" y1="632.20" x2="516.17" y2="856.90"/><line x1="65.90" y1="819.45" x2="580.50" y2="819.45"/><line x1="65.90" y1="782.00" x2="580.50" y2="782.00"/><line x1="65.90" y1="744.55" x2="580.50" y2="744.55"/><line x1="65.90" y1="707.10" x2="580.50" y2="707.10"/><line x1="65.90" y1="669.65" x2="580.50" y2="669.65"/></g>
<g stroke="#4a4a4a" stroke-width="1"><line x1="65.90" y1="856.90" x2="65.90" y2="851.70"/><line x1="65.90" y1="632.20" x2="65.90" y2="637.40"/><line x1="130.23" y1="856.90" x2="130.23" y2="851.70"/><line x1="130.23" y1="632.20" x2="130.23" y2="637.40"/><line x1="194.55" y1="856.90" x2="194.55" y2="851.70"/><line x1="194.55" y1="632.20" x2="194.55" y2="637.40"/><line x1="258.88" y1="856.90" x2="258.88" y2="851.70"/><line x1="258.88" y1="632.20" x2="258.88" y2="637.40"/><line x1="323.20" y1="856.90" x2="323.20" y2="851.70"/><line x1="323.20" y1="632.20" x2="323.20" y2="637.40"/><line x1="387.52" y1="856.90" x2="387.52" y2="851.70"/><line x1="387.52" y1="632.20" x2="387.52" y2="637.40"/><line x1="451.85" y1="856.90" x2="451.85" y2="851.70"/><line x1="451.85" y1="632.20" x2="451.85" y2="637.40"/><line x1="516.17" y1="856.90" x2="516.17" y2="851.70"/><line x1="516.17" y1="632.20" x2="516.17" y2="637.40"/><line x1="580.50" y1="856.90" x2="580.50" y2="851.70"/><line x1="580.50" y1="632.20" x2="580.50" y2="637.40"/><line x1="65.90" y1="856.90" x2="71.10" y2="856.90"/><line x1="580.50" y1="856.90" x2="575.30" y2="856.90"/><line x1="65.90" y1="819.45" x2="71.10" y2="819.45"/><line x1="580.50" y1="819.45" x2="575.30" y2="819.45"/><line x1="65.90" y1="782.00" x2="71.10" y2="782.00"/><line x1="580.50" y1="782.00" x2="575.30" y2="782.00"/><line x1="65.90" y1="744.55" x2="71.10" y2="744.55"/><line x1="580.50" y1="744.55" x2="575.30" y2="744.55"/><line x1="65.90" y1="707.10" x2="71.10" y2="707.10"/><line x1="580.50" y1="707.10" x2="575.30" y2="707.10"/><line x1="65.90" y1="669.65" x2="71.10" y2="669.65"/><line x1="580.50" y1="669.65" x2="575.30" y2="669.65"/><line x1="65.90" y1="632.20" x2="71.10" y2="632.20"/><line x1="580.50" y1="632.20" x2="575.30" y2="632.20"/></g>
<rect x="65.90" y="632.20" width="514.60" height="224.70" fill="none" stroke="#4a4a4a" stroke-width="1"/>
<g font-size="19.8" fill="#262626"><text x="65.90" y="884.40" text-anchor="middle">0</text><text x="130.23" y="884.40" text-anchor="middle">45</text><text x="194.55" y="884.40" text-anchor="middle">90</text><text x="258.88" y="884.40" text-anchor="middle">135</text><text x="323.20" y="884.40" text-anchor="middle">180</text><text x="387.52" y="884.40" text-anchor="middle">225</text><text x="451.85" y="884.40" text-anchor="middle">270</text><text x="516.17" y="884.40" text-anchor="middle">315</text><text x="580.50" y="884.40" text-anchor="middle">360</text><text x="58.40" y="865.40" text-anchor="end">-90</text><text x="58.40" y="827.95" text-anchor="end">-60</text><text x="58.40" y="790.50" text-anchor="end">-30</text><text x="58.40" y="753.05" text-anchor="end">0</text><text x="58.40" y="715.60" text-anchor="end">30</text><text x="58.40" y="678.15" text-anchor="end">60</text><text x="58.40" y="640.70" text-anchor="end">90</text></g>
<text x="323.20" y="626.60" font-size="21.8" font-weight="bold" text-anchor="middle" fill="#000">NOMAD</text>
<text transform="translate(19.60,744.55) rotate(-90)" font-size="21.8" text-anchor="middle" fill="#262626">Latitude</text>
<text x="572.70" y="658.20" font-size="17" fill="#262626" text-anchor="end">(c)</text>
<text x="323.20" y="912.20" font-size="21.8" text-anchor="middle" fill="#262626">Ls</text>
<rect x="610.20" y="632.20" width="26.60" height="224.70" fill="url(#cbar)" stroke="#262626" stroke-width="1"/>
<g stroke="#262626" stroke-width="1"><line x1="636.80" y1="800.73" x2="633.30" y2="800.73"/><line x1="636.80" y1="744.55" x2="633.30" y2="744.55"/><line x1="636.80" y1="688.38" x2="633.30" y2="688.38"/></g>
<g font-size="17.8" fill="#262626"><text x="644.40" y="864.30">400</text><text x="644.40" y="808.12">600</text><text x="644.40" y="751.95">800</text><text x="644.40" y="695.77">1000</text><text x="644.40" y="639.60">1200</text></g>
</svg>
</body></html>
